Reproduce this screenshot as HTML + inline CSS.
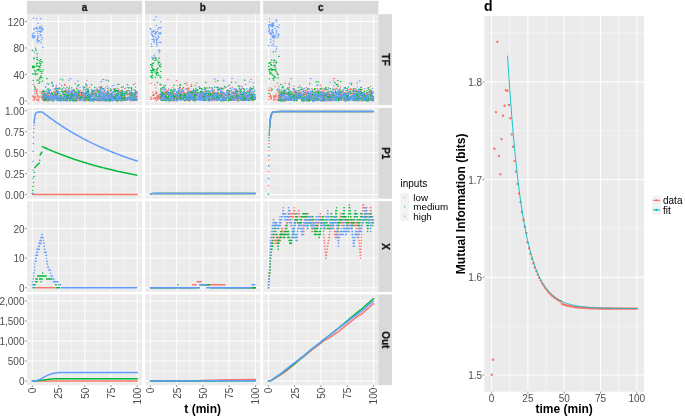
<!DOCTYPE html>
<html><head><meta charset="utf-8"><style>
html,body{margin:0;padding:0;background:#fff;}
svg{display:block;will-change:transform;font-family:"Liberation Sans",sans-serif;}
</style></head><body>
<svg width="685" height="416" viewBox="0 0 685 416">
<defs><clipPath id="cp00"><rect x="27" y="14.2" width="115.15" height="90.85"/></clipPath><clipPath id="cp01"><rect x="145.15" y="14.2" width="115.05" height="90.85"/></clipPath><clipPath id="cp02"><rect x="263.2" y="14.2" width="115.15" height="90.85"/></clipPath><clipPath id="cp10"><rect x="27" y="107.9" width="115.15" height="90.8"/></clipPath><clipPath id="cp11"><rect x="145.15" y="107.9" width="115.05" height="90.8"/></clipPath><clipPath id="cp12"><rect x="263.2" y="107.9" width="115.15" height="90.8"/></clipPath><clipPath id="cp20"><rect x="27" y="201.2" width="115.15" height="90.7"/></clipPath><clipPath id="cp21"><rect x="145.15" y="201.2" width="115.05" height="90.7"/></clipPath><clipPath id="cp22"><rect x="263.2" y="201.2" width="115.15" height="90.7"/></clipPath><clipPath id="cp30"><rect x="27" y="294.4" width="115.15" height="90.8"/></clipPath><clipPath id="cp31"><rect x="145.15" y="294.4" width="115.05" height="90.8"/></clipPath><clipPath id="cp32"><rect x="263.2" y="294.4" width="115.15" height="90.8"/></clipPath></defs>
<rect width="685" height="416" fill="#fff"/>
<rect x="27" y="14.2" width="115.15" height="90.85" fill="#EBEBEB"/>
<path d="M27 87.68H142.15M27 61.21H142.15M27 34.74H142.15M45.42 14.2V105.05M71.66 14.2V105.05M97.89 14.2V105.05M124.13 14.2V105.05" stroke="#fff" stroke-width="0.45"/>
<path d="M27 100.92H142.15M27 74.45H142.15M27 47.98H142.15M27 21.51H142.15M32.3 14.2V105.05M58.54 14.2V105.05M84.78 14.2V105.05M111.01 14.2V105.05M137.25 14.2V105.05" stroke="#fff" stroke-width="1.0"/>
<rect x="145.15" y="14.2" width="115.05" height="90.85" fill="#EBEBEB"/>
<path d="M145.15 87.68H260.2M145.15 61.21H260.2M145.15 34.74H260.2M163.57 14.2V105.05M189.81 14.2V105.05M216.04 14.2V105.05M242.28 14.2V105.05" stroke="#fff" stroke-width="0.45"/>
<path d="M145.15 100.92H260.2M145.15 74.45H260.2M145.15 47.98H260.2M145.15 21.51H260.2M150.45 14.2V105.05M176.69 14.2V105.05M202.93 14.2V105.05M229.16 14.2V105.05M255.4 14.2V105.05" stroke="#fff" stroke-width="1.0"/>
<rect x="263.2" y="14.2" width="115.15" height="90.85" fill="#EBEBEB"/>
<path d="M263.2 87.68H378.35M263.2 61.21H378.35M263.2 34.74H378.35M281.57 14.2V105.05M307.81 14.2V105.05M334.04 14.2V105.05M360.28 14.2V105.05" stroke="#fff" stroke-width="0.45"/>
<path d="M263.2 100.92H378.35M263.2 74.45H378.35M263.2 47.98H378.35M263.2 21.51H378.35M268.45 14.2V105.05M294.69 14.2V105.05M320.93 14.2V105.05M347.16 14.2V105.05M373.4 14.2V105.05" stroke="#fff" stroke-width="1.0"/>
<rect x="27" y="107.9" width="115.15" height="90.8" fill="#EBEBEB"/>
<path d="M27 184.1H142.15M27 163.15H142.15M27 142.2H142.15M27 121.25H142.15M45.42 107.9V198.7M71.66 107.9V198.7M97.89 107.9V198.7M124.13 107.9V198.7" stroke="#fff" stroke-width="0.45"/>
<path d="M27 194.57H142.15M27 173.62H142.15M27 152.67H142.15M27 131.72H142.15M27 110.77H142.15M32.3 107.9V198.7M58.54 107.9V198.7M84.78 107.9V198.7M111.01 107.9V198.7M137.25 107.9V198.7" stroke="#fff" stroke-width="1.0"/>
<rect x="145.15" y="107.9" width="115.05" height="90.8" fill="#EBEBEB"/>
<path d="M145.15 184.1H260.2M145.15 163.15H260.2M145.15 142.2H260.2M145.15 121.25H260.2M163.57 107.9V198.7M189.81 107.9V198.7M216.04 107.9V198.7M242.28 107.9V198.7" stroke="#fff" stroke-width="0.45"/>
<path d="M145.15 194.57H260.2M145.15 173.62H260.2M145.15 152.67H260.2M145.15 131.72H260.2M145.15 110.77H260.2M150.45 107.9V198.7M176.69 107.9V198.7M202.93 107.9V198.7M229.16 107.9V198.7M255.4 107.9V198.7" stroke="#fff" stroke-width="1.0"/>
<rect x="263.2" y="107.9" width="115.15" height="90.8" fill="#EBEBEB"/>
<path d="M263.2 184.1H378.35M263.2 163.15H378.35M263.2 142.2H378.35M263.2 121.25H378.35M281.57 107.9V198.7M307.81 107.9V198.7M334.04 107.9V198.7M360.28 107.9V198.7" stroke="#fff" stroke-width="0.45"/>
<path d="M263.2 194.57H378.35M263.2 173.62H378.35M263.2 152.67H378.35M263.2 131.72H378.35M263.2 110.77H378.35M268.45 107.9V198.7M294.69 107.9V198.7M320.93 107.9V198.7M347.16 107.9V198.7M373.4 107.9V198.7" stroke="#fff" stroke-width="1.0"/>
<rect x="27" y="201.2" width="115.15" height="90.7" fill="#EBEBEB"/>
<path d="M27 272.97H142.15M27 243.37H142.15M27 213.76H142.15M45.42 201.2V291.9M71.66 201.2V291.9M97.89 201.2V291.9M124.13 201.2V291.9" stroke="#fff" stroke-width="0.45"/>
<path d="M27 287.78H142.15M27 258.17H142.15M27 228.56H142.15M32.3 201.2V291.9M58.54 201.2V291.9M84.78 201.2V291.9M111.01 201.2V291.9M137.25 201.2V291.9" stroke="#fff" stroke-width="1.0"/>
<rect x="145.15" y="201.2" width="115.05" height="90.7" fill="#EBEBEB"/>
<path d="M145.15 272.97H260.2M145.15 243.37H260.2M145.15 213.76H260.2M163.57 201.2V291.9M189.81 201.2V291.9M216.04 201.2V291.9M242.28 201.2V291.9" stroke="#fff" stroke-width="0.45"/>
<path d="M145.15 287.78H260.2M145.15 258.17H260.2M145.15 228.56H260.2M150.45 201.2V291.9M176.69 201.2V291.9M202.93 201.2V291.9M229.16 201.2V291.9M255.4 201.2V291.9" stroke="#fff" stroke-width="1.0"/>
<rect x="263.2" y="201.2" width="115.15" height="90.7" fill="#EBEBEB"/>
<path d="M263.2 272.97H378.35M263.2 243.37H378.35M263.2 213.76H378.35M281.57 201.2V291.9M307.81 201.2V291.9M334.04 201.2V291.9M360.28 201.2V291.9" stroke="#fff" stroke-width="0.45"/>
<path d="M263.2 287.78H378.35M263.2 258.17H378.35M263.2 228.56H378.35M268.45 201.2V291.9M294.69 201.2V291.9M320.93 201.2V291.9M347.16 201.2V291.9M373.4 201.2V291.9" stroke="#fff" stroke-width="1.0"/>
<rect x="27" y="294.4" width="115.15" height="90.8" fill="#EBEBEB"/>
<path d="M27 371.06H142.15M27 351.03H142.15M27 331.01H142.15M27 310.98H142.15M45.42 294.4V385.2M71.66 294.4V385.2M97.89 294.4V385.2M124.13 294.4V385.2" stroke="#fff" stroke-width="0.45"/>
<path d="M27 381.07H142.15M27 361.05H142.15M27 341.02H142.15M27 321H142.15M27 300.97H142.15M32.3 294.4V385.2M58.54 294.4V385.2M84.78 294.4V385.2M111.01 294.4V385.2M137.25 294.4V385.2" stroke="#fff" stroke-width="1.0"/>
<rect x="145.15" y="294.4" width="115.05" height="90.8" fill="#EBEBEB"/>
<path d="M145.15 371.06H260.2M145.15 351.03H260.2M145.15 331.01H260.2M145.15 310.98H260.2M163.57 294.4V385.2M189.81 294.4V385.2M216.04 294.4V385.2M242.28 294.4V385.2" stroke="#fff" stroke-width="0.45"/>
<path d="M145.15 381.07H260.2M145.15 361.05H260.2M145.15 341.02H260.2M145.15 321H260.2M145.15 300.97H260.2M150.45 294.4V385.2M176.69 294.4V385.2M202.93 294.4V385.2M229.16 294.4V385.2M255.4 294.4V385.2" stroke="#fff" stroke-width="1.0"/>
<rect x="263.2" y="294.4" width="115.15" height="90.8" fill="#EBEBEB"/>
<path d="M263.2 371.06H378.35M263.2 351.03H378.35M263.2 331.01H378.35M263.2 310.98H378.35M281.57 294.4V385.2M307.81 294.4V385.2M334.04 294.4V385.2M360.28 294.4V385.2" stroke="#fff" stroke-width="0.45"/>
<path d="M263.2 381.07H378.35M263.2 361.05H378.35M263.2 341.02H378.35M263.2 321H378.35M263.2 300.97H378.35M268.45 294.4V385.2M294.69 294.4V385.2M320.93 294.4V385.2M347.16 294.4V385.2M373.4 294.4V385.2" stroke="#fff" stroke-width="1.0"/>
<g clip-path="url(#cp00)">
<path d="M36.94 93.7H37.34M37.54 100.48H37.94M34.08 97.45H34.48M33.11 97.51H33.51M33.07 84.49H33.47M42.43 97.31H42.83M38.69 96.44H39.09M32.74 96.18H33.14M34.69 91.14H35.09M41.12 95.84H41.52M38.95 97.09H39.35M35.08 96.94H35.48M42.76 92.49H43.16M34.56 97.89H34.96M32.85 96.4H33.25M36.24 99.56H36.64M41.17 93.32H41.57M37.13 96.94H37.53M36.35 90.26H36.75M34.99 93.65H35.39M35.66 88.26H36.06M34.74 98.95H35.14M32.74 95.99H33.14M36.89 100.12H37.29M39.93 91.78H40.33M36.6 91.37H37M34.99 87.56H35.39M41.57 98.68H41.97M36.32 92.32H36.72M42.69 98.88H43.09M34.86 96.28H35.26M32.89 100.21H33.29M38.34 96.63H38.74M36.95 89.78H37.35M37.28 95.41H37.68M33.75 100.09H34.15M40.85 96.94H41.25M42.17 93.51H42.57M42.27 91.63H42.67M33.21 84.62H33.61M34.65 98.1H35.05M38.49 100.87H38.89M33.98 97.32H34.38M38.09 98.91H38.49M38.68 99.18H39.08" stroke="#F8766D" stroke-width="1.25" stroke-linecap="round"/>
<path d="M32.28 50.42H32.68M36.87 63.24H37.27M38.23 66H38.63M35.98 50.58H36.38M39.5 81.93H39.9M33.6 66.36H34M39.6 67.5H40M32.33 73.81H32.73M35.51 74.71H35.91M32.91 80.27H33.31M39.99 71.54H40.39M40.59 61.47H40.99M41.74 71.6H42.14M36.57 63.84H36.97M38.79 83.17H39.19M38.34 70.35H38.74M42.73 69.88H43.13M39.9 77.72H40.3M36.82 59.48H37.22M33 67.83H33.4M37.25 69.78H37.65M39.58 78.79H39.98M34.84 89.32H35.24M39.36 66.41H39.76M39.17 63.2H39.57M41.65 73.3H42.05M36.71 57.42H37.11M41.89 62.12H42.29M35.49 73.18H35.89M37.41 59.8H37.81M42.27 81.01H42.67M33.91 73.9H34.31M36.53 65.89H36.93M37.39 73.89H37.79M36.94 53.91H37.34M32.44 66.22H32.84M38.21 69.49H38.61M40.57 63.57H40.97M32.36 67.32H32.76M34.64 66.27H35.04M36.88 65.93H37.28M39.11 60.76H39.51M34.23 86.57H34.63M34.01 58.87H34.41M34.02 67.22H34.42M35.8 70.96H36.2M40.2 76.94H40.6M40.58 65.01H40.98M39.83 69.72H40.23M36.96 80.11H37.36M38.19 80.2H38.59M40.63 59.5H41.03M34.29 70.87H34.69M40.86 75.78H41.26M41.73 77.64H42.13" stroke="#00BA38" stroke-width="1.25" stroke-linecap="round"/>
<path d="M42.56 47.27H42.96M41.84 37.71H42.24M35.83 27.93H36.23M40.32 30.84H40.72M32.4 33.78H32.8M33.95 37.21H34.35M40.53 32.12H40.93M39.85 31.55H40.25M39.48 26.75H39.88M33.02 37.58H33.42M37.74 37.68H38.14M37.7 23.35H38.1M38.09 37.44H38.49M41.74 28.14H42.14M41.21 26.04H41.61M34.25 36.49H34.65M37.49 36.11H37.89M37.62 35.8H38.02M40.68 42.55H41.08M32.81 38H33.21M36.53 18.84H36.93M37.17 39.16H37.57M36.74 28.47H37.14M35.5 49.07H35.9M38.71 31.32H39.11M32.34 36.48H32.74M34.53 37.22H34.93M38.73 40.66H39.13M39.92 28.5H40.32M34.22 28.68H34.62M36.78 40.08H37.18M33.81 29.45H34.21M38.86 40.51H39.26M38.65 41.58H39.05M34.59 35.51H34.99M35.48 48H35.88M41.98 29.56H42.38M33.53 9.2H33.93M39.88 34.94H40.28M36.61 31.46H37.01M33.45 57.89H33.85M39.4 28.39H39.8M42.47 28.27H42.87M37.48 29.01H37.88M34.12 52.09H34.52M37.61 33.26H38.01M33.67 32.78H34.07M42.7 30.24H43.1M33.12 18.17H33.52M40.29 27.95H40.69M37.1 42.43H37.5M32.24 35.48H32.64M41.14 31.39H41.54M36.44 27.47H36.84M33.87 36.02H34.27M40.68 34.84H41.08M41.31 39.84H41.71M37.5 40.13H37.9M40.72 35.57H41.12M40.43 18.74H40.83" stroke="#619CFF" stroke-width="1.25" stroke-linecap="round"/>
<path d="M120.46 92.95H120.86M135.16 83.51H135.56M109.98 95.67H110.38M128.26 98.54H128.66M125.68 99.02H126.08M48.67 95.02H49.07M64.43 99.36H64.83M62.4 97.35H62.8M121.63 97.82H122.03M132.75 95.77H133.15M86.69 99.35H87.09M130.34 100.65H130.74M65.03 95.61H65.43M121.3 98.96H121.7M116.31 98.52H116.71M118.57 100.3H118.97M129.37 90.83H129.77M89.19 96.13H89.59M120.57 97.89H120.97M92.75 90.78H93.15M77.21 95.42H77.61M134.18 95.33H134.58M68.84 96.77H69.24M90.35 99.99H90.75M70.79 93H71.19M82.24 94.78H82.64M42.7 99.24H43.1M102.05 99.88H102.45M94.18 96.7H94.58M95.7 100.02H96.1M93.06 100.46H93.46M76 100.92H76.4M65.3 90.59H65.7M77.08 100.27H77.48M81.13 100.68H81.53M79.74 92.96H80.14M83.35 92.6H83.75M114.93 97.4H115.33M127.47 93.5H127.87M49.39 89.86H49.79M86.93 98.03H87.33M93.97 100.25H94.37M64.72 85.4H65.12M75.62 92.67H76.02M43.35 97.74H43.75M122.46 93.99H122.86M114.79 96.55H115.19M102.77 79.29H103.17M79.6 97.17H80M113.72 92.4H114.12M62.7 94.77H63.1M113.01 95.34H113.41M91.98 99.9H92.38M117.35 98.07H117.75M56.49 95.71H56.89M46.53 93.98H46.93M98.89 98.35H99.29M136.78 92.44H137.18M67.04 98.36H67.44M81.45 100.14H81.85M123.77 100.55H124.17M60.72 99.91H61.12M52.87 96.27H53.27M52.24 100.51H52.64M76.86 99.42H77.26M67.06 96.63H67.46M122.16 95.95H122.56M58.08 100.13H58.48M76.31 98.51H76.71M86.67 96.97H87.07M76.6 94.24H77M59.41 98.81H59.81M76.23 98.85H76.63M102.23 97.24H102.63M85.41 92.97H85.81M102.77 95.26H103.17M46.2 98.56H46.6M107.8 99.32H108.2M43.17 92.14H43.57M122.83 91.79H123.23M73.41 100.02H73.81M84.59 96.21H84.99M51.87 96.32H52.27M71.09 96.78H71.49M80.9 95.44H81.3M58.48 93.09H58.88M127.85 90.8H128.25M114.79 93.2H115.19M108.1 96.1H108.5M86.64 80.28H87.04M76.3 95.56H76.7M78.65 94.13H79.05M101.35 91.6H101.75M72 100.28H72.4M48.12 95.22H48.52M90.77 96.39H91.17M115.52 96.14H115.92M109.69 95.29H110.09M113.49 88.74H113.89M75.1 96.01H75.5M80.19 96.55H80.59M94.19 100.66H94.59M120.9 94.28H121.3M63.62 91.31H64.02M48.03 100.74H48.43M53.41 97.58H53.81M90.28 96.4H90.68M109.36 98.55H109.76M47.56 98.9H47.96M68.67 97.78H69.07M99.97 94.28H100.37M99.63 91.08H100.03M131.78 93.17H132.18M56.11 99.15H56.51M96.06 99.82H96.46M56.23 86.8H56.63M110.84 96.07H111.24M120.85 91.24H121.25M57.6 100.01H58M49.39 98.22H49.79M99.11 99.78H99.51M105.86 100.65H106.26M110.78 93.8H111.18M134.82 98.5H135.22M46.17 96.06H46.57M77.46 100.05H77.86M74.98 95.87H75.38M107.57 93.77H107.97M76.49 99.77H76.89M93.73 100.08H94.13M114.21 94.65H114.61M78.7 100.38H79.1M76.5 99.53H76.9M71.68 94.54H72.08M125.55 93.78H125.95M74.63 98.7H75.03M110.16 95.26H110.56M64.51 94.38H64.91M93.71 96.77H94.11M101.98 96.71H102.38M104.77 100.33H105.17M89.34 94.58H89.74M64 94.89H64.4M49.29 98.21H49.69M78.79 97.6H79.19M132.97 96.7H133.37M77.21 95.72H77.61M126.49 100.28H126.89M129.52 98.7H129.92M66.08 95.67H66.48M72.71 93.42H73.11M93.18 93.73H93.58M122.89 98.65H123.29M64.2 98.91H64.6M76.44 88.7H76.84M67.46 92.64H67.86M126.87 94.84H127.27M63.85 94.68H64.25M85.51 100.9H85.91M94.15 99.36H94.55M47.21 97.68H47.61M109.24 98.8H109.64M79.11 97.49H79.51M135.8 91.66H136.2M124.48 97.24H124.88M124.46 98.19H124.86M105.97 98.21H106.37M104.64 97.78H105.04M95.37 90.83H95.77M115.37 100.16H115.77M106.43 93.86H106.83M55.54 98.63H55.94M101.07 99.93H101.47M117.74 91.83H118.14M65.39 90.78H65.79M135.13 93.92H135.53M55.91 95.44H56.31M50.1 100.51H50.5M80.67 93.4H81.07M94.41 99.43H94.81M108.71 96.95H109.11M55.89 92.33H56.29M77.23 96.62H77.63M113.77 91.23H114.17M102.34 97.11H102.74M127.06 91.02H127.46M118.37 100.57H118.77M80.34 90.71H80.74M62.8 98.13H63.2M109.8 98.37H110.2M105.29 93.67H105.69M86.43 92.18H86.83M97.13 99.97H97.53M69.23 98.69H69.63M75.07 97.7H75.47M89.19 87.27H89.59M112.58 100.05H112.98M44.69 100.76H45.09M136.2 91.33H136.6M89.24 96.28H89.64M132.07 95.6H132.47M50.05 98.18H50.45M83.62 99.93H84.02M71.87 92.6H72.27M121.07 90.62H121.47M122.74 95.59H123.14M61.61 99.05H62.01M59.24 99.44H59.64M44 93.22H44.4M131.25 99.37H131.65M87.42 100.62H87.82M71.9 99.15H72.3M55.73 97.57H56.13M62.23 98.67H62.63M117.06 95.32H117.46M85.17 100.66H85.57M101.67 87.16H102.07M43.03 96.45H43.43M95.38 93.15H95.78M104.23 91.69H104.63M70.57 96.94H70.97M51.52 92.44H51.92M136.51 93.48H136.91M108.1 97.96H108.5M91.56 99.5H91.96M67.19 92.33H67.59M65.46 98.67H65.86M53.6 91.97H54M113.28 96.64H113.68M115.01 88.45H115.41M44.36 99.14H44.76M85.7 95.96H86.1M102.71 100.75H103.11M78.95 93.68H79.35M131.45 92.57H131.85M105.68 93.99H106.08M71.52 94.92H71.92M85.34 99.77H85.74M52.49 97.58H52.89M127.97 90.44H128.37M125.71 97.81H126.11M127.23 99.68H127.63M64.86 99.45H65.26M51.69 93.6H52.09M111.85 94.02H112.25M119.03 97.35H119.43M113.23 96.68H113.63M133.87 93.94H134.27M100.13 86.59H100.53M111.82 97.06H112.22M135.5 93.76H135.9M53.44 98.91H53.84M124.13 97.49H124.53M56.76 96.62H57.16M118.64 97.59H119.04M60.77 97.99H61.17M93.73 92.49H94.13M68.6 91.39H69M119.66 92.44H120.06M126.39 91.16H126.79M55.08 94.47H55.48M101.87 97.35H102.27M103.77 88.75H104.17M133.63 98.72H134.03M77.43 98.29H77.83M110.16 93.74H110.56M87.72 91.45H88.12M103.84 92H104.24M102.24 95.75H102.64M53.57 91.31H53.97M74.78 96.55H75.18M45.36 96.93H45.76M65.5 99.59H65.9M96.52 91.03H96.92M82.09 93.22H82.49M72.28 95.48H72.68M73.94 95.23H74.34M72.75 96.79H73.15M79.39 93.22H79.79M86.58 93.05H86.98M98.59 94.15H98.99M87.26 93.28H87.66M108.1 92.36H108.5M63.73 96.12H64.13M119.74 91.19H120.14M80.74 97.92H81.14M128.1 94.57H128.5M123.52 98.53H123.92M59.2 98.93H59.6M44.88 92.54H45.28M62.82 100.43H63.22M72.68 94.17H73.08M52.21 93.98H52.61M42.3 90.96H42.7M56.74 92.91H57.14M73.68 90.72H74.08M43.17 96.05H43.57M74.64 93.66H75.04M109.85 97.05H110.25M80.77 95.1H81.17M78.95 100.72H79.35M96.19 88.1H96.59M135.34 100.1H135.74M72.07 97.73H72.47M82.18 92.66H82.58M81.96 92.06H82.36M89.7 98.79H90.1M50.72 95.73H51.12M104.42 95.93H104.82M136.08 98.58H136.48M74.8 96.06H75.2M84.57 95.73H84.97M124.68 88.43H125.08M107.7 94.41H108.1M119.14 96.6H119.54M43.93 99.91H44.33M69.55 91.36H69.95M98.03 97.49H98.43M129.8 97.43H130.2M79.55 98.66H79.95M74.58 93.56H74.98M48.8 91.52H49.2M102.06 95.07H102.46M65.94 91.37H66.34M80.41 93.27H80.81M133.19 84.68H133.59M71.51 96.51H71.91M90.92 95.45H91.32M46.88 94.96H47.28M79.81 95.59H80.21M71.44 100.44H71.84M57.3 99.36H57.7M124.97 93H125.37M123.3 97.23H123.7M78.83 94.55H79.23M113.59 100.12H113.99M122.13 100.79H122.53M45.19 100.1H45.59M88.58 100H88.98M69.17 96.35H69.57M121.73 91.24H122.13M49.61 89.59H50.01M94.31 94.71H94.71M108.02 90.43H108.42M91.2 93.26H91.6M129.54 99.09H129.94M57.1 99.18H57.5M66.05 90.2H66.45" stroke="#F8766D" stroke-width="1.25" stroke-linecap="round"/>
<path d="M123.72 98.87H124.12M68.57 92.57H68.97" stroke="#00BA38" stroke-width="1.25" stroke-linecap="round"/>
<path d="M95.77 90.47H96.17M46.55 98.36H46.95" stroke="#F8766D" stroke-width="1.25" stroke-linecap="round"/>
<path d="M49.63 96.84H50.03" stroke="#00BA38" stroke-width="1.25" stroke-linecap="round"/>
<path d="M104.99 99.24H105.39" stroke="#F8766D" stroke-width="1.25" stroke-linecap="round"/>
<path d="M93.33 100.65H93.73" stroke="#00BA38" stroke-width="1.25" stroke-linecap="round"/>
<path d="M50.7 98.13H51.1" stroke="#F8766D" stroke-width="1.25" stroke-linecap="round"/>
<path d="M65.87 97.7H66.27M77.71 97.17H78.11M110.11 98.15H110.51M47.1 93.68H47.5" stroke="#00BA38" stroke-width="1.25" stroke-linecap="round"/>
<path d="M102.61 100.74H103.01M128.45 98.2H128.85M133.51 97.31H133.91" stroke="#F8766D" stroke-width="1.25" stroke-linecap="round"/>
<path d="M110.24 99.99H110.64M55.51 95.31H55.91M78.27 94.89H78.67M123.1 86.92H123.5" stroke="#00BA38" stroke-width="1.25" stroke-linecap="round"/>
<path d="M117.17 100.2H117.57M48.25 98.57H48.65" stroke="#F8766D" stroke-width="1.25" stroke-linecap="round"/>
<path d="M124.06 93.46H124.46" stroke="#00BA38" stroke-width="1.25" stroke-linecap="round"/>
<path d="M116.94 90.82H117.34M55.6 87.93H56M65.1 91.5H65.5" stroke="#F8766D" stroke-width="1.25" stroke-linecap="round"/>
<path d="M91.75 93.93H92.15" stroke="#00BA38" stroke-width="1.25" stroke-linecap="round"/>
<path d="M84.58 98.07H84.98M89.86 96.7H90.26M76.37 95.29H76.77" stroke="#F8766D" stroke-width="1.25" stroke-linecap="round"/>
<path d="M92.44 95.23H92.84" stroke="#00BA38" stroke-width="1.25" stroke-linecap="round"/>
<path d="M46.23 96.67H46.63M131.51 97.85H131.91M121.02 93.99H121.42M136.11 96.13H136.51M87.49 99.5H87.89" stroke="#F8766D" stroke-width="1.25" stroke-linecap="round"/>
<path d="M82.04 97.62H82.44M77.35 85.83H77.75M111.57 93.66H111.97M121.8 93.54H122.2M44.09 99.38H44.49" stroke="#00BA38" stroke-width="1.25" stroke-linecap="round"/>
<path d="M131.79 99.09H132.19" stroke="#F8766D" stroke-width="1.25" stroke-linecap="round"/>
<path d="M119.44 99.49H119.84" stroke="#00BA38" stroke-width="1.25" stroke-linecap="round"/>
<path d="M95.67 96.97H96.07" stroke="#F8766D" stroke-width="1.25" stroke-linecap="round"/>
<path d="M117.35 99.8H117.75M121.94 90.21H122.34M93.52 99.69H93.92" stroke="#00BA38" stroke-width="1.25" stroke-linecap="round"/>
<path d="M64.5 91.88H64.9M49.08 92.89H49.48" stroke="#F8766D" stroke-width="1.25" stroke-linecap="round"/>
<path d="M130.91 100.43H131.31M114.8 91.72H115.2" stroke="#00BA38" stroke-width="1.25" stroke-linecap="round"/>
<path d="M136.12 97.29H136.52M59 98.81H59.4" stroke="#F8766D" stroke-width="1.25" stroke-linecap="round"/>
<path d="M92.78 100.64H93.18" stroke="#00BA38" stroke-width="1.25" stroke-linecap="round"/>
<path d="M79.62 95.21H80.02" stroke="#F8766D" stroke-width="1.25" stroke-linecap="round"/>
<path d="M134.17 99.35H134.57" stroke="#00BA38" stroke-width="1.25" stroke-linecap="round"/>
<path d="M135.44 99.68H135.84M64.43 84.46H64.83" stroke="#F8766D" stroke-width="1.25" stroke-linecap="round"/>
<path d="M114.86 97.43H115.26" stroke="#00BA38" stroke-width="1.25" stroke-linecap="round"/>
<path d="M77.85 98.11H78.25M49.4 98.92H49.8M121.75 100.25H122.15" stroke="#F8766D" stroke-width="1.25" stroke-linecap="round"/>
<path d="M115.92 91.04H116.32M86.63 93.7H87.03M106.49 94.28H106.89" stroke="#00BA38" stroke-width="1.25" stroke-linecap="round"/>
<path d="M70.71 99.7H71.11" stroke="#F8766D" stroke-width="1.25" stroke-linecap="round"/>
<path d="M69.7 97.4H70.1M73.71 95.9H74.11" stroke="#00BA38" stroke-width="1.25" stroke-linecap="round"/>
<path d="M136.02 98.1H136.42M98.86 98.9H99.26" stroke="#F8766D" stroke-width="1.25" stroke-linecap="round"/>
<path d="M132.29 94.41H132.69" stroke="#00BA38" stroke-width="1.25" stroke-linecap="round"/>
<path d="M87.92 97.03H88.32M51.9 95.31H52.3" stroke="#F8766D" stroke-width="1.25" stroke-linecap="round"/>
<path d="M75.86 92.49H76.26M121.31 87.44H121.71" stroke="#00BA38" stroke-width="1.25" stroke-linecap="round"/>
<path d="M46.48 97.89H46.88M101.47 97.83H101.87" stroke="#F8766D" stroke-width="1.25" stroke-linecap="round"/>
<path d="M44.03 99.93H44.43M132.5 98.83H132.9" stroke="#00BA38" stroke-width="1.25" stroke-linecap="round"/>
<path d="M112.85 96.42H113.25M87.67 89.7H88.07M120.03 97.03H120.43" stroke="#F8766D" stroke-width="1.25" stroke-linecap="round"/>
<path d="M95.19 99.14H95.59M45.04 99.47H45.44" stroke="#00BA38" stroke-width="1.25" stroke-linecap="round"/>
<path d="M55.04 88.8H55.44M50.07 99H50.47" stroke="#F8766D" stroke-width="1.25" stroke-linecap="round"/>
<path d="M130.87 92.14H131.27" stroke="#00BA38" stroke-width="1.25" stroke-linecap="round"/>
<path d="M43.63 99.37H44.03" stroke="#F8766D" stroke-width="1.25" stroke-linecap="round"/>
<path d="M43.61 95.13H44.01" stroke="#00BA38" stroke-width="1.25" stroke-linecap="round"/>
<path d="M76.74 98.14H77.14" stroke="#F8766D" stroke-width="1.25" stroke-linecap="round"/>
<path d="M93.58 99.2H93.98M112.82 98.03H113.22M110.01 99.88H110.41" stroke="#00BA38" stroke-width="1.25" stroke-linecap="round"/>
<path d="M88.18 99.2H88.58M47.11 93.65H47.51M61.5 100.57H61.9M82.52 95.68H82.92M115.3 96.85H115.7M95.85 98.31H96.25M60.72 96.15H61.12M130.64 98.58H131.04" stroke="#F8766D" stroke-width="1.25" stroke-linecap="round"/>
<path d="M61.68 98.17H62.08M79.3 98.67H79.7M135.82 98.98H136.22M109.07 98.68H109.47" stroke="#00BA38" stroke-width="1.25" stroke-linecap="round"/>
<path d="M73.01 93.7H73.41M73.37 90.72H73.77" stroke="#F8766D" stroke-width="1.25" stroke-linecap="round"/>
<path d="M123.27 98.15H123.67M85.35 96.12H85.75M133.66 100.64H134.06M117.59 95.71H117.99" stroke="#00BA38" stroke-width="1.25" stroke-linecap="round"/>
<path d="M98.21 100.71H98.61" stroke="#F8766D" stroke-width="1.25" stroke-linecap="round"/>
<path d="M64.12 94H64.52" stroke="#00BA38" stroke-width="1.25" stroke-linecap="round"/>
<path d="M60.79 99.53H61.19M135.9 97.91H136.3M115.3 99.52H115.7" stroke="#F8766D" stroke-width="1.25" stroke-linecap="round"/>
<path d="M84.63 93.6H85.03" stroke="#00BA38" stroke-width="1.25" stroke-linecap="round"/>
<path d="M114.97 100.35H115.37" stroke="#F8766D" stroke-width="1.25" stroke-linecap="round"/>
<path d="M86.68 91.53H87.08M62.68 91.63H63.08" stroke="#00BA38" stroke-width="1.25" stroke-linecap="round"/>
<path d="M48.95 90.61H49.35M97.45 98.58H97.85" stroke="#F8766D" stroke-width="1.25" stroke-linecap="round"/>
<path d="M74.26 95.92H74.66" stroke="#00BA38" stroke-width="1.25" stroke-linecap="round"/>
<path d="M71.32 96.05H71.72" stroke="#F8766D" stroke-width="1.25" stroke-linecap="round"/>
<path d="M110.35 88.98H110.75M47.76 100.9H48.16M60.32 99.37H60.72M117.47 93.36H117.87" stroke="#00BA38" stroke-width="1.25" stroke-linecap="round"/>
<path d="M120.88 95.2H121.28M74.9 96.02H75.3" stroke="#F8766D" stroke-width="1.25" stroke-linecap="round"/>
<path d="M44.1 93.71H44.5M60.34 100.57H60.74" stroke="#00BA38" stroke-width="1.25" stroke-linecap="round"/>
<path d="M84.08 96.45H84.48M131.84 100.77H132.24" stroke="#F8766D" stroke-width="1.25" stroke-linecap="round"/>
<path d="M101.37 93.39H101.77" stroke="#00BA38" stroke-width="1.25" stroke-linecap="round"/>
<path d="M106.61 95.76H107.01M86.66 86.95H87.06M91.1 96.06H91.5M108.08 95.53H108.48M88.74 94.34H89.14M78.41 94.69H78.81M48.28 95.56H48.68" stroke="#F8766D" stroke-width="1.25" stroke-linecap="round"/>
<path d="M53.59 98.15H53.99M92.3 93.95H92.7" stroke="#00BA38" stroke-width="1.25" stroke-linecap="round"/>
<path d="M78.05 95.55H78.45M136.83 100.66H137.23" stroke="#F8766D" stroke-width="1.25" stroke-linecap="round"/>
<path d="M52.59 100.78H52.99" stroke="#00BA38" stroke-width="1.25" stroke-linecap="round"/>
<path d="M71.72 90.16H72.12" stroke="#F8766D" stroke-width="1.25" stroke-linecap="round"/>
<path d="M65.6 99.91H66M97.5 100.36H97.9" stroke="#00BA38" stroke-width="1.25" stroke-linecap="round"/>
<path d="M97.21 91.29H97.61" stroke="#F8766D" stroke-width="1.25" stroke-linecap="round"/>
<path d="M81.45 97.63H81.85" stroke="#00BA38" stroke-width="1.25" stroke-linecap="round"/>
<path d="M104.63 100.16H105.03M136.68 96.42H137.08M66.51 97.4H66.91" stroke="#F8766D" stroke-width="1.25" stroke-linecap="round"/>
<path d="M120.37 92.73H120.77M68.08 95.39H68.48M74.38 91.64H74.78" stroke="#00BA38" stroke-width="1.25" stroke-linecap="round"/>
<path d="M136.61 98.84H137.01M110.1 97.77H110.5" stroke="#F8766D" stroke-width="1.25" stroke-linecap="round"/>
<path d="M117.93 95.13H118.33" stroke="#00BA38" stroke-width="1.25" stroke-linecap="round"/>
<path d="M52.73 98.14H53.13" stroke="#F8766D" stroke-width="1.25" stroke-linecap="round"/>
<path d="M124.24 99.97H124.64" stroke="#00BA38" stroke-width="1.25" stroke-linecap="round"/>
<path d="M100.62 99.74H101.02M92.53 93.34H92.93M105.54 93.67H105.94M83.73 100.46H84.13M107.56 88.63H107.96" stroke="#F8766D" stroke-width="1.25" stroke-linecap="round"/>
<path d="M126.17 93.63H126.57" stroke="#00BA38" stroke-width="1.25" stroke-linecap="round"/>
<path d="M68.86 93.51H69.26" stroke="#F8766D" stroke-width="1.25" stroke-linecap="round"/>
<path d="M69.92 95.85H70.32M113.52 98.04H113.92M65.79 93.75H66.19M55.08 96.96H55.48" stroke="#00BA38" stroke-width="1.25" stroke-linecap="round"/>
<path d="M77.18 89.12H77.58" stroke="#F8766D" stroke-width="1.25" stroke-linecap="round"/>
<path d="M136.27 99.42H136.67M58.88 98.73H59.28M128.5 87.78H128.9M96.66 100.53H97.06" stroke="#00BA38" stroke-width="1.25" stroke-linecap="round"/>
<path d="M70.73 98.67H71.13M74.23 100.6H74.63M80.91 94.1H81.31" stroke="#F8766D" stroke-width="1.25" stroke-linecap="round"/>
<path d="M97.01 89.97H97.41M87.99 90.3H88.39M49.32 99.3H49.72" stroke="#00BA38" stroke-width="1.25" stroke-linecap="round"/>
<path d="M63.42 99.23H63.82M53.18 100.07H53.58M44.11 95.64H44.51M116.81 100.42H117.21M114.18 97.13H114.58M94.83 98.27H95.23M90.5 94.36H90.9M118.91 98.86H119.31" stroke="#F8766D" stroke-width="1.25" stroke-linecap="round"/>
<path d="M43.59 97.39H43.99" stroke="#00BA38" stroke-width="1.25" stroke-linecap="round"/>
<path d="M110.05 93.58H110.45M129.71 93.48H130.11M86.61 99.6H87.01M66.88 98.17H67.28M54.48 93.02H54.88M69.29 86.31H69.69M80.66 92.12H81.06" stroke="#F8766D" stroke-width="1.25" stroke-linecap="round"/>
<path d="M125.45 100.02H125.85" stroke="#00BA38" stroke-width="1.25" stroke-linecap="round"/>
<path d="M48.27 99.74H48.67M44.47 99.71H44.87M48.33 97.95H48.73" stroke="#F8766D" stroke-width="1.25" stroke-linecap="round"/>
<path d="M126.94 91.72H127.34M114.73 90.79H115.13" stroke="#00BA38" stroke-width="1.25" stroke-linecap="round"/>
<path d="M49.67 98.73H50.07" stroke="#F8766D" stroke-width="1.25" stroke-linecap="round"/>
<path d="M70.9 95.18H71.3M122.44 95.49H122.84M100.77 87.63H101.17M114.12 89.43H114.52" stroke="#00BA38" stroke-width="1.25" stroke-linecap="round"/>
<path d="M127.28 97.77H127.68" stroke="#F8766D" stroke-width="1.25" stroke-linecap="round"/>
<path d="M121.44 97.47H121.84" stroke="#00BA38" stroke-width="1.25" stroke-linecap="round"/>
<path d="M58.68 93.96H59.08M46.72 95.56H47.12M98.14 97.29H98.54M124.99 96.48H125.39" stroke="#F8766D" stroke-width="1.25" stroke-linecap="round"/>
<path d="M99.76 89.33H100.16" stroke="#00BA38" stroke-width="1.25" stroke-linecap="round"/>
<path d="M136.37 93H136.77M121.58 93H121.98" stroke="#F8766D" stroke-width="1.25" stroke-linecap="round"/>
<path d="M48.97 97.74H49.37M77.79 95.45H78.19" stroke="#00BA38" stroke-width="1.25" stroke-linecap="round"/>
<path d="M106.34 96.15H106.74M47.38 96.86H47.78" stroke="#F8766D" stroke-width="1.25" stroke-linecap="round"/>
<path d="M118.52 97.1H118.92" stroke="#00BA38" stroke-width="1.25" stroke-linecap="round"/>
<path d="M109.54 100.85H109.94" stroke="#F8766D" stroke-width="1.25" stroke-linecap="round"/>
<path d="M131.25 87.63H131.65" stroke="#00BA38" stroke-width="1.25" stroke-linecap="round"/>
<path d="M78.55 96H78.95M89.46 99.15H89.86M78.02 94.33H78.42M124.7 97.08H125.1" stroke="#F8766D" stroke-width="1.25" stroke-linecap="round"/>
<path d="M92.09 91.26H92.49" stroke="#00BA38" stroke-width="1.25" stroke-linecap="round"/>
<path d="M59.69 83.91H60.09M53.31 100.83H53.71" stroke="#F8766D" stroke-width="1.25" stroke-linecap="round"/>
<path d="M133.3 99.46H133.7" stroke="#00BA38" stroke-width="1.25" stroke-linecap="round"/>
<path d="M132.56 96.8H132.96M63.3 98.23H63.7" stroke="#F8766D" stroke-width="1.25" stroke-linecap="round"/>
<path d="M120.7 95.27H121.1M48.43 96.66H48.83" stroke="#00BA38" stroke-width="1.25" stroke-linecap="round"/>
<path d="M52.34 96.99H52.74M54.97 92.63H55.37M55.74 97.49H56.14M68.17 92.22H68.57M73.85 100.69H74.25" stroke="#F8766D" stroke-width="1.25" stroke-linecap="round"/>
<path d="M57.57 88.28H57.97M89.63 98.34H90.03M57 94.52H57.4" stroke="#00BA38" stroke-width="1.25" stroke-linecap="round"/>
<path d="M112.27 98.08H112.67" stroke="#F8766D" stroke-width="1.25" stroke-linecap="round"/>
<path d="M58.26 98.71H58.66M104.11 96.64H104.51M54.37 97.73H54.77" stroke="#00BA38" stroke-width="1.25" stroke-linecap="round"/>
<path d="M102.89 99.95H103.29M98.47 97.06H98.87M101.82 98.88H102.22" stroke="#F8766D" stroke-width="1.25" stroke-linecap="round"/>
<path d="M45.15 100.42H45.55" stroke="#00BA38" stroke-width="1.25" stroke-linecap="round"/>
<path d="M106.47 95.09H106.87" stroke="#F8766D" stroke-width="1.25" stroke-linecap="round"/>
<path d="M52.55 94.39H52.95M59.68 88.15H60.08" stroke="#00BA38" stroke-width="1.25" stroke-linecap="round"/>
<path d="M96.01 100.37H96.41" stroke="#F8766D" stroke-width="1.25" stroke-linecap="round"/>
<path d="M104.39 99.14H104.79M114.94 98.25H115.34M73.54 93.92H73.94M62.9 98.76H63.3" stroke="#00BA38" stroke-width="1.25" stroke-linecap="round"/>
<path d="M58.86 89.42H59.26M105.59 99.77H105.99" stroke="#F8766D" stroke-width="1.25" stroke-linecap="round"/>
<path d="M72.15 94.57H72.55" stroke="#00BA38" stroke-width="1.25" stroke-linecap="round"/>
<path d="M45.21 86.8H45.61M134.89 95.98H135.29" stroke="#F8766D" stroke-width="1.25" stroke-linecap="round"/>
<path d="M75.89 91.12H76.29M108.06 93.8H108.46" stroke="#00BA38" stroke-width="1.25" stroke-linecap="round"/>
<path d="M127.58 94.62H127.98M70.45 95.94H70.85M46.93 100.6H47.33M95.57 99.01H95.97" stroke="#F8766D" stroke-width="1.25" stroke-linecap="round"/>
<path d="M74.01 100.76H74.41M122.25 92.46H122.65M103.69 100.43H104.09M65.33 91.85H65.73" stroke="#00BA38" stroke-width="1.25" stroke-linecap="round"/>
<path d="M118.44 89.01H118.84" stroke="#F8766D" stroke-width="1.25" stroke-linecap="round"/>
<path d="M57.55 91.25H57.95M62.41 79.93H62.81M64.51 94.83H64.91M104.48 90.41H104.88M85.18 97.4H85.58M70.78 97.9H71.18M68.11 93.66H68.51M98.95 92.3H99.35M88.65 100.48H89.05M89.99 95.12H90.39M130.72 94.08H131.12M92.93 91.64H93.33M86.2 98.26H86.6M122.58 94.74H122.98M114.51 98.48H114.91M97.76 99.54H98.16M118 90.73H118.4M132.03 96.66H132.43M103.58 94.76H103.98M43.49 95.75H43.89M49.52 97.55H49.92M48.81 93.12H49.21M92.73 94.78H93.13M50.14 96.77H50.54M55.18 94.22H55.58M113.01 97.81H113.41M106.21 96.08H106.61M121.78 96.04H122.18M116.2 90.87H116.6M62.25 88.75H62.65M55.94 91.15H56.34M104.74 98.89H105.14M110.92 94.17H111.32M123.98 97.51H124.38M58.17 98.69H58.57M82.11 97H82.51M125.91 92.07H126.31M135.13 99.89H135.53M114.22 90.76H114.62M129.22 93.48H129.62M99.3 93.31H99.7M131.38 90.2H131.78M87.23 95.83H87.63M77.99 92.43H78.39M61.51 99.39H61.91M79.89 97.2H80.29M117.66 100.66H118.06M58.91 100.25H59.31M133.5 98.69H133.9M60.1 98.69H60.5M53.08 85.29H53.48M86.77 95.5H87.17M81.53 98.34H81.93M102.72 95.35H103.12M131.04 95.51H131.44M64.07 96.49H64.47M124.93 98.99H125.33M63.62 94.47H64.02M72.66 95.16H73.06M60.52 95.48H60.92M73.85 93.73H74.25M116.04 97.07H116.44M78.18 90.48H78.58M124.63 95.87H125.03M131.4 88.61H131.8M56.27 89.97H56.67M131.3 93.41H131.7M86.62 85.35H87.02M83.64 100.84H84.04M73.98 93.78H74.38M109.35 100.02H109.75M107.38 100.19H107.78M127.37 84.64H127.77M66.6 91.62H67M108.18 94.03H108.58M112.93 97.19H113.33M56.55 98.18H56.95M115.12 98.49H115.52M91.62 98.94H92.02M108.44 100.62H108.84M106.17 99.33H106.57M45.01 94.21H45.41M78.32 95.39H78.72M58.84 88.1H59.24M109.69 96.1H110.09M118.82 97.96H119.22M74.13 95.19H74.53M123.54 97.25H123.94M91.49 96.59H91.89M124.5 95.02H124.9M100.36 98.06H100.76M86.04 97.32H86.44M107.29 91.21H107.69M98.34 90.64H98.74M70.89 93.49H71.29M45.72 99.18H46.12M92.05 90.31H92.45M110.15 100.68H110.55M108.06 98.78H108.46M92.89 98.85H93.29M42.36 91.75H42.76M72.48 100.48H72.88M87.89 93.52H88.29M87.69 95.62H88.09M85.31 98.26H85.71M91.51 92.29H91.91M115.11 95.52H115.51M90.16 97.26H90.56M94.63 87.37H95.03M116.59 90.04H116.99M75.03 100.33H75.43M63.84 100.45H64.24M72.12 94.28H72.52M100.1 91.31H100.5M99.75 93.22H100.15M64.66 94.86H65.06M124.28 93.6H124.68M111.36 95.74H111.76M48 88.82H48.4M100.31 100.48H100.71M44.01 95.19H44.41M54.66 93.8H55.06M66.22 96.14H66.62M45.2 98.26H45.6M111.76 96.81H112.16M69.12 88.22H69.52M109.83 98.02H110.23M48.92 97.89H49.32M66.33 98.13H66.73M124.21 95.16H124.61M42.46 94.8H42.86M89.52 97.62H89.92M87.76 92.52H88.16M80.26 97.16H80.66M117.16 98.52H117.56M92.01 96.07H92.41M107.18 98.23H107.58M88.8 97.13H89.2M115.64 97.51H116.04M76.86 97.23H77.26M110.49 90.74H110.89M107.6 99.14H108M75.63 100.39H76.03M85.36 89.96H85.76M53.82 99.5H54.22M102.93 95.09H103.33M44.35 94.28H44.75M68.14 97.88H68.54M45.04 95.71H45.44M106.16 96.18H106.56M118.41 84.41H118.81M96.56 93.69H96.96M66.23 96.99H66.63M111.12 98.5H111.52M114.1 98.54H114.5M66.93 87.55H67.33M97.43 91.91H97.83M81.49 98.89H81.89M134.86 96.65H135.26M114.5 99.26H114.9M120.9 96.78H121.3M64.48 91.22H64.88M88.09 90.99H88.49M131.17 94.08H131.57M100.97 93.94H101.37M57.24 100.56H57.64M102.81 99.95H103.21M60.28 96H60.68M129.7 98.79H130.1M133.91 97.96H134.31M86.63 88.89H87.03M49.09 96.82H49.49M131.57 94.78H131.97M71.3 95.83H71.7M116.44 95.22H116.84M111.47 93.62H111.87M117.39 99.23H117.79M73.3 96.61H73.7M101.36 99.4H101.76M80.09 96.95H80.49M117.09 100.89H117.49M78.91 97.93H79.31M67.7 100.19H68.1M119.47 99.49H119.87M57.6 93.42H58M91.21 84.85H91.61M134.81 90.49H135.21M129.83 97.95H130.23M122.31 93.4H122.71M89.66 100.88H90.06M57.79 92.51H58.19M47.75 97.26H48.15M74.48 95.67H74.88M129.86 94.89H130.26M81.49 93.94H81.89M103.44 98.9H103.84M60.82 97.02H61.22M83.21 100.32H83.61M66.9 100.27H67.3M80.41 99.44H80.81M46.37 91.15H46.77M119.24 92.67H119.64M78.99 91.19H79.39M99.65 95.79H100.05M106.14 99.8H106.54M117.52 94.75H117.92M110.86 100.55H111.26M53.39 100.14H53.79M121.5 99.49H121.9M45.53 100.14H45.93M129.39 97.04H129.79M108.84 98.34H109.24M135.13 94.23H135.53M88.97 96.91H89.37M46.8 78.65H47.2M100.81 98.47H101.21M45.2 99.52H45.6M45 95.43H45.4M111.13 90.16H111.53M96.11 93.69H96.51M70.31 95.56H70.71M133.29 100.33H133.69M103.05 88.62H103.45M51.85 92.91H52.25M107.21 100.1H107.61M76.01 100.85H76.41M54.27 96.6H54.67M92.17 100.92H92.57M46.05 98.85H46.45M88.58 91.28H88.98M94.15 98.41H94.55M108.15 80.82H108.55" stroke="#00BA38" stroke-width="1.25" stroke-linecap="round"/>
<path d="M51.93 83.59H52.33" stroke="#619CFF" stroke-width="1.25" stroke-linecap="round"/>
<path d="M77.4 93.43H77.8M96.08 95.22H96.48" stroke="#00BA38" stroke-width="1.25" stroke-linecap="round"/>
<path d="M129.85 95.9H130.25" stroke="#619CFF" stroke-width="1.25" stroke-linecap="round"/>
<path d="M43.76 91.26H44.16M109.23 100.88H109.63M120.47 100.17H120.87" stroke="#00BA38" stroke-width="1.25" stroke-linecap="round"/>
<path d="M111.64 98.68H112.04" stroke="#619CFF" stroke-width="1.25" stroke-linecap="round"/>
<path d="M83.25 97.51H83.65M81.41 92.52H81.81M76.26 92.97H76.66" stroke="#00BA38" stroke-width="1.25" stroke-linecap="round"/>
<path d="M91.52 96H91.92M64.89 99.89H65.29M113.7 94.37H114.1M61.97 89.98H62.37M100.42 100.13H100.82" stroke="#619CFF" stroke-width="1.25" stroke-linecap="round"/>
<path d="M88.18 94.67H88.58M106.41 100.76H106.81" stroke="#00BA38" stroke-width="1.25" stroke-linecap="round"/>
<path d="M50.16 96.26H50.56" stroke="#619CFF" stroke-width="1.25" stroke-linecap="round"/>
<path d="M69.61 99.06H70.01" stroke="#00BA38" stroke-width="1.25" stroke-linecap="round"/>
<path d="M87.35 98.77H87.75M100.26 93.49H100.66M104.66 98.38H105.06M92 100.42H92.4M65.41 96.15H65.81" stroke="#619CFF" stroke-width="1.25" stroke-linecap="round"/>
<path d="M79.97 98.94H80.37M129.7 98.94H130.1" stroke="#00BA38" stroke-width="1.25" stroke-linecap="round"/>
<path d="M65.33 88.98H65.73" stroke="#619CFF" stroke-width="1.25" stroke-linecap="round"/>
<path d="M55.62 88.62H56.02" stroke="#00BA38" stroke-width="1.25" stroke-linecap="round"/>
<path d="M71.41 97.83H71.81M128.37 100.05H128.77" stroke="#619CFF" stroke-width="1.25" stroke-linecap="round"/>
<path d="M79.13 92.7H79.53M94.54 93.47H94.94" stroke="#00BA38" stroke-width="1.25" stroke-linecap="round"/>
<path d="M71.73 91.41H72.13" stroke="#619CFF" stroke-width="1.25" stroke-linecap="round"/>
<path d="M131.89 92.69H132.29M66.56 95.05H66.96M86.32 98.33H86.72M121.8 94.71H122.2" stroke="#00BA38" stroke-width="1.25" stroke-linecap="round"/>
<path d="M75.96 95.53H76.36M97.74 96.03H98.14M66.18 92.29H66.58" stroke="#619CFF" stroke-width="1.25" stroke-linecap="round"/>
<path d="M131.6 96.25H132M50.71 100.48H51.11" stroke="#00BA38" stroke-width="1.25" stroke-linecap="round"/>
<path d="M121.86 91.73H122.26" stroke="#619CFF" stroke-width="1.25" stroke-linecap="round"/>
<path d="M43.45 90.73H43.85M129.91 98.29H130.31M87.09 98.09H87.49" stroke="#00BA38" stroke-width="1.25" stroke-linecap="round"/>
<path d="M64.94 100.38H65.34" stroke="#619CFF" stroke-width="1.25" stroke-linecap="round"/>
<path d="M60.18 95.21H60.58M120.09 94.86H120.49" stroke="#00BA38" stroke-width="1.25" stroke-linecap="round"/>
<path d="M115.01 99.55H115.41M70.35 92.25H70.75M130.38 99.76H130.78M95.68 94.23H96.08" stroke="#619CFF" stroke-width="1.25" stroke-linecap="round"/>
<path d="M42.24 97.09H42.64" stroke="#00BA38" stroke-width="1.25" stroke-linecap="round"/>
<path d="M83.18 95.56H83.58M101 94.75H101.4" stroke="#619CFF" stroke-width="1.25" stroke-linecap="round"/>
<path d="M135.42 92.32H135.82" stroke="#00BA38" stroke-width="1.25" stroke-linecap="round"/>
<path d="M55.19 97.25H55.59M97.41 99.19H97.81" stroke="#619CFF" stroke-width="1.25" stroke-linecap="round"/>
<path d="M99.98 96.44H100.38" stroke="#00BA38" stroke-width="1.25" stroke-linecap="round"/>
<path d="M107.75 95.79H108.15" stroke="#619CFF" stroke-width="1.25" stroke-linecap="round"/>
<path d="M64.78 100.73H65.18M118.07 93.28H118.47" stroke="#00BA38" stroke-width="1.25" stroke-linecap="round"/>
<path d="M72.58 90.26H72.98" stroke="#619CFF" stroke-width="1.25" stroke-linecap="round"/>
<path d="M114.83 96.75H115.23M115.96 94.06H116.36M48.07 97.65H48.47M71.05 96.26H71.45M122.21 98.74H122.61" stroke="#00BA38" stroke-width="1.25" stroke-linecap="round"/>
<path d="M114.97 89.52H115.37" stroke="#619CFF" stroke-width="1.25" stroke-linecap="round"/>
<path d="M75.57 94.96H75.97" stroke="#00BA38" stroke-width="1.25" stroke-linecap="round"/>
<path d="M102.48 98.52H102.88M92.61 100.64H93.01M97.31 89.19H97.71" stroke="#619CFF" stroke-width="1.25" stroke-linecap="round"/>
<path d="M123.64 99.98H124.04" stroke="#00BA38" stroke-width="1.25" stroke-linecap="round"/>
<path d="M121.96 100.27H122.36" stroke="#619CFF" stroke-width="1.25" stroke-linecap="round"/>
<path d="M125.62 98.35H126.02" stroke="#00BA38" stroke-width="1.25" stroke-linecap="round"/>
<path d="M117.36 84.32H117.76M84.66 100.02H85.06M68.37 97.32H68.77M75.02 83.7H75.42M136.64 92.21H137.04" stroke="#619CFF" stroke-width="1.25" stroke-linecap="round"/>
<path d="M102.1 88.74H102.5" stroke="#00BA38" stroke-width="1.25" stroke-linecap="round"/>
<path d="M60.23 78.9H60.63M94.02 97.15H94.42" stroke="#619CFF" stroke-width="1.25" stroke-linecap="round"/>
<path d="M85.79 100.08H86.19M51.84 82.43H52.24" stroke="#00BA38" stroke-width="1.25" stroke-linecap="round"/>
<path d="M111.87 92.72H112.27M92.01 96.27H92.41" stroke="#619CFF" stroke-width="1.25" stroke-linecap="round"/>
<path d="M114.5 98.35H114.9M68.21 94.46H68.61" stroke="#00BA38" stroke-width="1.25" stroke-linecap="round"/>
<path d="M91.94 96.3H92.34" stroke="#619CFF" stroke-width="1.25" stroke-linecap="round"/>
<path d="M73.64 89.61H74.04" stroke="#00BA38" stroke-width="1.25" stroke-linecap="round"/>
<path d="M86.19 95.44H86.59M46.8 96.35H47.2M115.34 99.51H115.74" stroke="#619CFF" stroke-width="1.25" stroke-linecap="round"/>
<path d="M69.37 94.76H69.77" stroke="#00BA38" stroke-width="1.25" stroke-linecap="round"/>
<path d="M57.91 95.94H58.31" stroke="#619CFF" stroke-width="1.25" stroke-linecap="round"/>
<path d="M80.11 97.15H80.51M116.68 93.37H117.08" stroke="#00BA38" stroke-width="1.25" stroke-linecap="round"/>
<path d="M99.65 99.35H100.05M99.54 99.41H99.94M125.77 100.26H126.17M58.96 98.56H59.36" stroke="#619CFF" stroke-width="1.25" stroke-linecap="round"/>
<path d="M114.89 99.25H115.29" stroke="#00BA38" stroke-width="1.25" stroke-linecap="round"/>
<path d="M127.22 98.19H127.62M86.9 93.43H87.3" stroke="#619CFF" stroke-width="1.25" stroke-linecap="round"/>
<path d="M69.6 99.46H70" stroke="#00BA38" stroke-width="1.25" stroke-linecap="round"/>
<path d="M91.23 89.73H91.63" stroke="#619CFF" stroke-width="1.25" stroke-linecap="round"/>
<path d="M126.98 99.15H127.38" stroke="#00BA38" stroke-width="1.25" stroke-linecap="round"/>
<path d="M63.64 87.66H64.04" stroke="#619CFF" stroke-width="1.25" stroke-linecap="round"/>
<path d="M48.29 99.49H48.69M72.76 99.14H73.16" stroke="#00BA38" stroke-width="1.25" stroke-linecap="round"/>
<path d="M69.78 96.11H70.18M98.85 95.1H99.25" stroke="#619CFF" stroke-width="1.25" stroke-linecap="round"/>
<path d="M84.35 98.81H84.75M89.15 96.73H89.55" stroke="#00BA38" stroke-width="1.25" stroke-linecap="round"/>
<path d="M101.58 96.63H101.98" stroke="#619CFF" stroke-width="1.25" stroke-linecap="round"/>
<path d="M68.29 97.97H68.69" stroke="#00BA38" stroke-width="1.25" stroke-linecap="round"/>
<path d="M80.37 99.99H80.77" stroke="#619CFF" stroke-width="1.25" stroke-linecap="round"/>
<path d="M53.53 100.13H53.93" stroke="#00BA38" stroke-width="1.25" stroke-linecap="round"/>
<path d="M103.93 90.08H104.33" stroke="#619CFF" stroke-width="1.25" stroke-linecap="round"/>
<path d="M131.09 96.96H131.49M94.75 96.04H95.15M134.44 94.54H134.84M71.57 98.35H71.97" stroke="#00BA38" stroke-width="1.25" stroke-linecap="round"/>
<path d="M48.53 90.02H48.93M76.59 93.58H76.99" stroke="#619CFF" stroke-width="1.25" stroke-linecap="round"/>
<path d="M46.58 99.49H46.98" stroke="#00BA38" stroke-width="1.25" stroke-linecap="round"/>
<path d="M44.82 96.84H45.22" stroke="#619CFF" stroke-width="1.25" stroke-linecap="round"/>
<path d="M53.61 95.87H54.01" stroke="#00BA38" stroke-width="1.25" stroke-linecap="round"/>
<path d="M106.38 80.17H106.78M49.93 93.28H50.33" stroke="#619CFF" stroke-width="1.25" stroke-linecap="round"/>
<path d="M54.71 98.03H55.11" stroke="#00BA38" stroke-width="1.25" stroke-linecap="round"/>
<path d="M75.74 92.7H76.14" stroke="#619CFF" stroke-width="1.25" stroke-linecap="round"/>
<path d="M83.46 94.35H83.86M69.22 96.15H69.62M129.8 98.27H130.2" stroke="#00BA38" stroke-width="1.25" stroke-linecap="round"/>
<path d="M99.78 93.37H100.18" stroke="#619CFF" stroke-width="1.25" stroke-linecap="round"/>
<path d="M48.62 84.1H49.02M120.77 98.74H121.17M62.9 92.61H63.3" stroke="#00BA38" stroke-width="1.25" stroke-linecap="round"/>
<path d="M96.86 96.7H97.26" stroke="#619CFF" stroke-width="1.25" stroke-linecap="round"/>
<path d="M87.86 90.7H88.26" stroke="#00BA38" stroke-width="1.25" stroke-linecap="round"/>
<path d="M59.72 100.13H60.12" stroke="#619CFF" stroke-width="1.25" stroke-linecap="round"/>
<path d="M63.14 94.44H63.54" stroke="#00BA38" stroke-width="1.25" stroke-linecap="round"/>
<path d="M111.81 97.14H112.21" stroke="#619CFF" stroke-width="1.25" stroke-linecap="round"/>
<path d="M99.62 99.99H100.02" stroke="#00BA38" stroke-width="1.25" stroke-linecap="round"/>
<path d="M82.3 92.86H82.7M45.89 91.17H46.29M78.68 84.93H79.08" stroke="#619CFF" stroke-width="1.25" stroke-linecap="round"/>
<path d="M84.48 87.39H84.88M90.15 98.77H90.55M88.35 99.36H88.75" stroke="#00BA38" stroke-width="1.25" stroke-linecap="round"/>
<path d="M60.89 98.15H61.29M55.18 89.45H55.58M44.96 96.61H45.36M96.23 99.5H96.63M120.67 95.89H121.07" stroke="#619CFF" stroke-width="1.25" stroke-linecap="round"/>
<path d="M116.24 98.5H116.64" stroke="#00BA38" stroke-width="1.25" stroke-linecap="round"/>
<path d="M82 97.91H82.4" stroke="#619CFF" stroke-width="1.25" stroke-linecap="round"/>
<path d="M93.42 99.13H93.82" stroke="#00BA38" stroke-width="1.25" stroke-linecap="round"/>
<path d="M88.43 95.16H88.83M49.24 96.67H49.64M75.5 99.67H75.9" stroke="#619CFF" stroke-width="1.25" stroke-linecap="round"/>
<path d="M58.4 97.29H58.8" stroke="#00BA38" stroke-width="1.25" stroke-linecap="round"/>
<path d="M99.45 100.81H99.85" stroke="#619CFF" stroke-width="1.25" stroke-linecap="round"/>
<path d="M120.73 100.88H121.13M117.19 91.33H117.59M56.44 97.92H56.84M132.24 98.46H132.64M84.18 97.6H84.58M71.31 93.88H71.71M67.26 98.11H67.66M59.81 99.63H60.21" stroke="#00BA38" stroke-width="1.25" stroke-linecap="round"/>
<path d="M56.01 92.56H56.41" stroke="#619CFF" stroke-width="1.25" stroke-linecap="round"/>
<path d="M76.76 96.81H77.16" stroke="#00BA38" stroke-width="1.25" stroke-linecap="round"/>
<path d="M94.61 99.95H95.01" stroke="#619CFF" stroke-width="1.25" stroke-linecap="round"/>
<path d="M47.7 92.3H48.1" stroke="#00BA38" stroke-width="1.25" stroke-linecap="round"/>
<path d="M88.51 97.49H88.91M68.33 93.89H68.73M91.35 93.64H91.75M108.85 95.14H109.25M105.66 96.22H106.06M58.99 96.19H59.39M113.79 85.45H114.19" stroke="#619CFF" stroke-width="1.25" stroke-linecap="round"/>
<path d="M74.02 94.22H74.42" stroke="#00BA38" stroke-width="1.25" stroke-linecap="round"/>
<path d="M77.02 95.35H77.42M59.69 99.13H60.09M52.93 99.91H53.33M125.52 91.96H125.92" stroke="#619CFF" stroke-width="1.25" stroke-linecap="round"/>
<path d="M88.37 96.8H88.77" stroke="#00BA38" stroke-width="1.25" stroke-linecap="round"/>
<path d="M43.82 95.63H44.22M128.38 90.87H128.78" stroke="#619CFF" stroke-width="1.25" stroke-linecap="round"/>
<path d="M71.53 95.26H71.93" stroke="#00BA38" stroke-width="1.25" stroke-linecap="round"/>
<path d="M90.91 98.98H91.31M111.17 90.69H111.57M105.18 100.92H105.58" stroke="#619CFF" stroke-width="1.25" stroke-linecap="round"/>
<path d="M74.73 96.21H75.13M61.08 96.74H61.48" stroke="#00BA38" stroke-width="1.25" stroke-linecap="round"/>
<path d="M105.74 93.58H106.14" stroke="#619CFF" stroke-width="1.25" stroke-linecap="round"/>
<path d="M53.34 95.02H53.74" stroke="#00BA38" stroke-width="1.25" stroke-linecap="round"/>
<path d="M127.57 98.19H127.97" stroke="#619CFF" stroke-width="1.25" stroke-linecap="round"/>
<path d="M46.6 97.2H47M86.81 95.31H87.21M109.66 99.15H110.06" stroke="#00BA38" stroke-width="1.25" stroke-linecap="round"/>
<path d="M55.55 91.66H55.95M50.4 96.08H50.8M103.59 79.51H103.99M118.32 95.64H118.72" stroke="#619CFF" stroke-width="1.25" stroke-linecap="round"/>
<path d="M78.13 85.08H78.53M71.77 96.8H72.17M48.24 92.89H48.64M120.47 98.33H120.87M51.01 93.87H51.41M67.16 99.76H67.56" stroke="#00BA38" stroke-width="1.25" stroke-linecap="round"/>
<path d="M82.78 92.06H83.18M117.35 100.13H117.75" stroke="#619CFF" stroke-width="1.25" stroke-linecap="round"/>
<path d="M127.8 97.02H128.2" stroke="#00BA38" stroke-width="1.25" stroke-linecap="round"/>
<path d="M86.04 91.84H86.44" stroke="#619CFF" stroke-width="1.25" stroke-linecap="round"/>
<path d="M66.04 99.89H66.44" stroke="#00BA38" stroke-width="1.25" stroke-linecap="round"/>
<path d="M105.4 92.64H105.8M99.68 92.31H100.08M76.72 87.97H77.12M57.71 100.58H58.11M55.16 92.88H55.56M106.85 95.42H107.25M46.08 94.55H46.48" stroke="#619CFF" stroke-width="1.25" stroke-linecap="round"/>
<path d="M90.45 97.66H90.85" stroke="#00BA38" stroke-width="1.25" stroke-linecap="round"/>
<path d="M54.35 98.93H54.75" stroke="#619CFF" stroke-width="1.25" stroke-linecap="round"/>
<path d="M67.16 95.95H67.56" stroke="#00BA38" stroke-width="1.25" stroke-linecap="round"/>
<path d="M79.3 92.02H79.7M76.41 96.6H76.81" stroke="#619CFF" stroke-width="1.25" stroke-linecap="round"/>
<path d="M110.35 94.61H110.75M65.47 98.45H65.87" stroke="#00BA38" stroke-width="1.25" stroke-linecap="round"/>
<path d="M82.02 93.39H82.42M70.36 99.66H70.76M101.78 89.94H102.18M74.25 93.38H74.65" stroke="#619CFF" stroke-width="1.25" stroke-linecap="round"/>
<path d="M103.15 97.74H103.55M74.15 98.51H74.55M106.23 98.52H106.63M134.42 95.04H134.82M57.37 97.46H57.77" stroke="#00BA38" stroke-width="1.25" stroke-linecap="round"/>
<path d="M117.25 88.19H117.65" stroke="#619CFF" stroke-width="1.25" stroke-linecap="round"/>
<path d="M96.17 96.36H96.57M90 94.8H90.4" stroke="#00BA38" stroke-width="1.25" stroke-linecap="round"/>
<path d="M82.84 87.02H83.24" stroke="#619CFF" stroke-width="1.25" stroke-linecap="round"/>
<path d="M114.54 97.08H114.94M85.42 98.38H85.82" stroke="#00BA38" stroke-width="1.25" stroke-linecap="round"/>
<path d="M123.26 91.51H123.66" stroke="#619CFF" stroke-width="1.25" stroke-linecap="round"/>
<path d="M116.87 100.91H117.27" stroke="#00BA38" stroke-width="1.25" stroke-linecap="round"/>
<path d="M110.34 96.01H110.74M61.9 97.73H62.3" stroke="#619CFF" stroke-width="1.25" stroke-linecap="round"/>
<path d="M71.54 87.75H71.94" stroke="#00BA38" stroke-width="1.25" stroke-linecap="round"/>
<path d="M52.85 96.35H53.25" stroke="#619CFF" stroke-width="1.25" stroke-linecap="round"/>
<path d="M92.75 94.56H93.15M106.26 95.1H106.66M105.45 99.83H105.85M99.19 95.91H99.59M129.16 97.99H129.56" stroke="#00BA38" stroke-width="1.25" stroke-linecap="round"/>
<path d="M59.35 93.59H59.75M123.19 95.25H123.59M106.98 86.36H107.38M132.7 96.82H133.1M107.71 94.83H108.11" stroke="#619CFF" stroke-width="1.25" stroke-linecap="round"/>
<path d="M81.3 96.41H81.7" stroke="#00BA38" stroke-width="1.25" stroke-linecap="round"/>
<path d="M65.15 97.86H65.55M108.94 92.11H109.34M74.97 96.72H75.37" stroke="#619CFF" stroke-width="1.25" stroke-linecap="round"/>
<path d="M85.16 93.51H85.56M60.83 91.66H61.23" stroke="#00BA38" stroke-width="1.25" stroke-linecap="round"/>
<path d="M84.49 97.65H84.89M103.49 94.21H103.89M110.52 98.2H110.92M115.73 99.4H116.13M116.41 99.85H116.81" stroke="#619CFF" stroke-width="1.25" stroke-linecap="round"/>
<path d="M69.75 100.89H70.15" stroke="#00BA38" stroke-width="1.25" stroke-linecap="round"/>
<path d="M49.38 100.18H49.78" stroke="#619CFF" stroke-width="1.25" stroke-linecap="round"/>
<path d="M44.28 98.86H44.68" stroke="#00BA38" stroke-width="1.25" stroke-linecap="round"/>
<path d="M118.84 91.94H119.24M58.48 98.82H58.88M121.36 100.27H121.76" stroke="#619CFF" stroke-width="1.25" stroke-linecap="round"/>
<path d="M66.87 97.22H67.27" stroke="#00BA38" stroke-width="1.25" stroke-linecap="round"/>
<path d="M131.25 93.31H131.65M116.96 93.76H117.36M87.88 98.71H88.28M118.57 98.56H118.97" stroke="#619CFF" stroke-width="1.25" stroke-linecap="round"/>
<path d="M95.61 95.49H96.01" stroke="#00BA38" stroke-width="1.25" stroke-linecap="round"/>
<path d="M44.9 96.21H45.3M100.65 96.55H101.05M44.77 97.57H45.17" stroke="#619CFF" stroke-width="1.25" stroke-linecap="round"/>
<path d="M132.67 94.33H133.07" stroke="#00BA38" stroke-width="1.25" stroke-linecap="round"/>
<path d="M99.95 99.99H100.35M105.4 100.24H105.8M112.02 95.58H112.42" stroke="#619CFF" stroke-width="1.25" stroke-linecap="round"/>
<path d="M46.46 97.93H46.86" stroke="#00BA38" stroke-width="1.25" stroke-linecap="round"/>
<path d="M43.82 95.73H44.22" stroke="#619CFF" stroke-width="1.25" stroke-linecap="round"/>
<path d="M95.04 93.25H95.44" stroke="#00BA38" stroke-width="1.25" stroke-linecap="round"/>
<path d="M54.21 97.16H54.61" stroke="#619CFF" stroke-width="1.25" stroke-linecap="round"/>
<path d="M98.46 97.04H98.86" stroke="#00BA38" stroke-width="1.25" stroke-linecap="round"/>
<path d="M77.52 100.48H77.92" stroke="#619CFF" stroke-width="1.25" stroke-linecap="round"/>
<path d="M56.25 94.62H56.65" stroke="#00BA38" stroke-width="1.25" stroke-linecap="round"/>
<path d="M108.74 96.19H109.14" stroke="#619CFF" stroke-width="1.25" stroke-linecap="round"/>
<path d="M120.4 95.89H120.8" stroke="#00BA38" stroke-width="1.25" stroke-linecap="round"/>
<path d="M103.79 93.35H104.19M131.56 93.03H131.96" stroke="#619CFF" stroke-width="1.25" stroke-linecap="round"/>
<path d="M43.06 100.61H43.46" stroke="#00BA38" stroke-width="1.25" stroke-linecap="round"/>
<path d="M60.77 96.45H61.17M61.58 85.68H61.98M120.35 98.43H120.75M61.54 89.84H61.94M118.66 96.09H119.06M61.17 99.22H61.57M136.53 93.77H136.93M132.3 98.59H132.7M119.83 96.81H120.23M113.03 100.13H113.43M100.6 93.62H101M107.3 95.09H107.7M95.9 95.84H96.3M48.8 98.91H49.2M101.91 96.55H102.31M51.58 97.79H51.98M106.61 98.62H107.01M44.06 96.7H44.46M134.54 100.47H134.94M83.61 90.16H84.01M66.46 97.74H66.86M50.1 94.75H50.5M50.94 95.54H51.34M111.68 98.3H112.08M99 87.37H99.4M48.67 98.25H49.07M48 96.42H48.4M118.64 97.93H119.04M134.08 92.36H134.48M75.66 99.01H76.06M64.31 97.94H64.71M90.4 97.76H90.8M76.75 97.85H77.15M62.02 93.52H62.42M124.42 95.09H124.82M99.78 100.47H100.18M48.38 91.65H48.78M52.88 100.45H53.28M68.69 80H69.09M107.7 99.65H108.1M52.74 100.51H53.14M131.22 98.17H131.62M44.53 94.74H44.93M50.2 93.79H50.6M115.31 100.23H115.71M102.75 92.83H103.15M47.14 99.46H47.54M100.02 94.91H100.42M108.45 87.96H108.85M74.75 93.57H75.15M100.92 99.01H101.32M116.32 96.49H116.72M74.38 95.18H74.78M112.04 85.91H112.44M57.3 100.73H57.7M76.21 98.53H76.61M72.9 100.9H73.3M131.48 95.09H131.88M52.48 86.39H52.88M42.74 92.44H43.14M96.97 99.62H97.37M132.86 99.93H133.26M114.23 99.42H114.63M112.41 100.9H112.81M108.07 95.93H108.47M120.86 100.01H121.26M98.62 98.26H99.02M132.54 94.44H132.94M105.44 96.22H105.84M117.86 98.06H118.26M99.52 91.96H99.92M43.11 100.29H43.51M128.68 98.05H129.08M125.05 99.4H125.45M84.02 100.74H84.42M85.68 95.63H86.08M45.55 87.19H45.95M53.89 89.07H54.29M71.91 94.89H72.31M66.06 92.47H66.46M136.55 99.86H136.95M110.72 96.13H111.12M51.19 96.15H51.59M63.01 100.69H63.41M135.74 98.77H136.14M131.05 97.74H131.45M46.97 83.63H47.37M44.81 97.27H45.21M108.18 98.48H108.58M49.67 90.46H50.07M49.22 97.56H49.62M83.08 89.85H83.48M56.1 96.21H56.5M98.52 94.42H98.92M73.8 92.86H74.2M69.9 96.19H70.3M112.48 92.08H112.88M72.94 97.95H73.34M109.75 98.68H110.15M85.67 84.85H86.07M121.53 92.75H121.93M90.4 95.63H90.8M69.99 98.08H70.39M118.57 94.27H118.97M97.72 90.12H98.12M100.09 90.93H100.49M125.12 97.88H125.52M49.06 92.6H49.46M99.23 95.23H99.63M125 97.82H125.4M81.01 98.57H81.41M57.67 97.77H58.07M94.35 100.49H94.75M50.17 97.01H50.57M105.06 96.39H105.46M114.23 92.21H114.63M75.7 96.25H76.1M93.51 98.48H93.91M117.43 96.99H117.83M97.78 90.44H98.18M136.89 96.22H137.29M76.8 98.24H77.2M102.35 99.69H102.75M61.91 100.16H62.31M112.79 98.22H113.19M135.76 100.04H136.16M67.95 90.99H68.35M100.25 88.85H100.65M64.68 97.44H65.08M115.38 99.65H115.78M68.61 96.34H69.01M69.65 91.18H70.05M126.3 100.22H126.7M63.34 100.8H63.74M107.37 99.94H107.77M127.14 91.96H127.54M67.96 93.11H68.36M85.16 92.69H85.56M111 100.45H111.4M74.28 94.59H74.68M54.37 94.03H54.77M134.06 98.37H134.46M51.74 97.27H52.14M119.32 100.26H119.72M90.4 100.72H90.8M67.93 94.15H68.33M114.91 96.16H115.31M53.23 99.88H53.63M100.28 100.42H100.68M119.77 94.07H120.17M56.33 96.21H56.73M121.83 94.03H122.23M56.14 85.12H56.54M90.5 98.63H90.9M133.28 93.96H133.68M55.65 92.57H56.05M102.17 96.17H102.57M84.07 97.58H84.47M125.7 100.46H126.1M95.19 95.62H95.59M70.46 78.68H70.86M103.42 94.05H103.82M79.13 97.15H79.53M129.6 97.47H130M66.67 100.9H67.07M47.4 94.65H47.8M136.62 98.32H137.02M106.84 98.89H107.24M50.27 90.12H50.67M54.16 96.51H54.56M100.3 100.9H100.7M90.74 96.74H91.14M90.25 93.76H90.65M81.41 99.29H81.81M111.59 100.1H111.99M107.05 95.81H107.45M79.82 87.34H80.22M64.2 95.66H64.6M52.14 99.57H52.54M83.29 98.01H83.69M88.51 92.84H88.91M106.26 97.22H106.66M101.44 96.71H101.84M94.07 93.6H94.47M104.21 98.99H104.61M135.35 87.15H135.75M43.38 98.94H43.78M130.44 98.31H130.84M126.93 87.55H127.33M83.28 86.87H83.68M59.46 96.2H59.86M97.79 94.91H98.19M50.77 100.11H51.17M89.57 100.79H89.97M101.2 81.67H101.6M97.72 96.52H98.12M91.78 94.59H92.18M77.67 80.79H78.07M80.06 99.92H80.46M129.96 92.32H130.36M104.89 100.76H105.29M98.48 95.11H98.88M76.15 94.9H76.55M130.48 96.73H130.88M110.07 91.17H110.47M75.38 99.16H75.78M69.82 90.9H70.22M105.23 87.95H105.63M54.3 96.02H54.7M53.55 99.03H53.95M108.13 92.56H108.53M101.37 86.58H101.77M46.19 98.03H46.59M45.66 96.93H46.06M73.93 94.18H74.33M81.24 96.64H81.64M125.91 98.36H126.31M50.23 96.04H50.63M75.57 96.06H75.97M124.83 91.34H125.23M102.52 99.66H102.92M71.16 92.83H71.56M49.2 91.11H49.6M84.03 92.91H84.43M110.77 95.1H111.17M131.76 94.94H132.16M116.77 97.88H117.17M49.69 97.24H50.09M87.68 92.56H88.08M133.69 89.97H134.09M85.78 83.52H86.18M49.78 95.04H50.18M107.99 97.98H108.39M94.48 100.15H94.88M92.52 96.08H92.92M117.67 97.44H118.07M58.6 91.78H59M69.33 100.92H69.73M103.76 97.08H104.16M88.47 92.28H88.87M56.06 97.28H56.46M46.92 89.27H47.32M113.62 100.19H114.02M72.79 91.37H73.19M103.95 94.35H104.35M60 100.88H60.4M105.54 96.3H105.94M65.67 99.82H66.07M93.08 90.68H93.48M85.82 94.71H86.22M120.65 98.08H121.05M92.88 98.57H93.28M56.14 100.24H56.54M69.73 95.43H70.13M90.53 97.06H90.93M87.87 88.98H88.27M101.92 92.59H102.32M57.31 97.19H57.71M52.73 97.69H53.13M106.74 92.42H107.14M63.38 99.08H63.78M99.1 93.35H99.5M65.08 97.94H65.48M102.52 88.89H102.92M68.08 89.59H68.48M113.48 98.26H113.88M65.56 96.41H65.96M129.38 98.7H129.78M119.37 99.83H119.77M132.84 98.63H133.24M100.53 97.07H100.93M57.41 90.57H57.81M102.9 92.08H103.3M99.23 98.87H99.63M59.08 97.6H59.48M135.57 98.49H135.97M55.47 98.68H55.87M95.94 98.39H96.34M112.03 94.68H112.43M62.97 96.88H63.37M71.74 92.23H72.14M112.27 98.53H112.67M100.97 98.44H101.37M133.4 94.59H133.8M46.16 94.68H46.56M74.94 96.51H75.34M74.36 99.58H74.76M51.97 99.12H52.37M107.88 100.7H108.28M76.43 94.02H76.83M51.07 97.66H51.47M108.01 97.56H108.41M95.34 96.26H95.74M102.91 95.3H103.31M58.77 93.3H59.17M53.31 98.13H53.71M121.3 96.44H121.7M57.96 97.88H58.36M118.9 91.14H119.3M65.21 98H65.61M103.14 100.44H103.54M75.18 96.56H75.58M111.64 99.62H112.04M47.99 98.04H48.39M91.85 95.31H92.25M78.25 91.35H78.65M55.83 88.44H56.23M94.11 91H94.51M61.8 99.3H62.2M111.01 94.15H111.41M90.13 96.02H90.53M120.71 98.96H121.11M111.6 96.28H112M52.23 99.37H52.63M84.9 95.01H85.3M69.62 96.74H70.02M85.48 98.3H85.88M69.17 96.11H69.57M94.55 89.83H94.95M116.71 96.57H117.11M131.81 96.37H132.21M129.05 87.61H129.45M117.04 98.97H117.44M83.57 99.63H83.97M131.69 97.03H132.09M103.98 95.47H104.38M112.58 100.38H112.98M83.11 96.1H83.51M83.77 88.29H84.17M50.84 98.7H51.24M51.14 96.96H51.54M72.42 96.43H72.82" stroke="#619CFF" stroke-width="1.25" stroke-linecap="round"/>
</g>
<g clip-path="url(#cp01)">
<path d="M157.27 96.53H157.67M160.11 94.73H160.51M150.52 97.37H150.92M152.99 95.12H153.39M158.95 95.01H159.35M155.62 97.58H156.02M151.08 99.32H151.48M152.42 92.34H152.82M153.7 94.62H154.1M157.31 98.54H157.71M160.2 85.1H160.6M156.21 92.96H156.61M150.5 99.26H150.9M157.2 99.63H157.6M156.25 92.04H156.65M156.29 97.14H156.69M150.51 83.42H150.91M154.69 84.77H155.09M155.83 92.24H156.23M156.12 100.81H156.52M155.12 99.45H155.52M158.45 97.92H158.85M160.73 99.53H161.13M150.72 97.01H151.12M159.74 96.67H160.14M157.36 97.66H157.76M158.8 98.92H159.2M155.29 98.15H155.69M160.05 98.22H160.45M158.11 98.84H158.51M157.07 95.35H157.47M155.33 99.04H155.73M158.8 94.64H159.2M154.91 97.64H155.31M158.97 97.64H159.37M152.87 94.6H153.27M155.68 87.86H156.08M158.34 96.13H158.74M155.44 93.51H155.84M151.65 99.05H152.05M153.36 98.07H153.76M160.73 96.25H161.13M156.46 93.58H156.86M160.95 98.83H161.35M159.8 84.59H160.2" stroke="#F8766D" stroke-width="1.25" stroke-linecap="round"/>
<path d="M157.19 68.39H157.59M158.54 62.44H158.94M151.17 65.05H151.57M157.74 72.58H158.14M156.73 72H157.13M157.67 68.12H158.07M159.88 75.95H160.28M152.07 77.91H152.47M152.1 63.74H152.5M157.38 82.56H157.78M155.83 73.66H156.23M151.56 67.39H151.96M159.36 65.25H159.76M152.78 68.49H153.18M150.52 70.3H150.92M151.34 71.2H151.74M152.58 70.61H152.98M153.91 69.67H154.31M152.32 72.6H152.72M155.5 57.66H155.9M153.36 95.47H153.76M153.31 63.06H153.71M153.01 70.67H153.41M156.56 75.14H156.96M160.23 77.65H160.63M151.07 72.6H151.47M155.91 59.64H156.31M160.39 66.75H160.79M155.29 58.31H155.69M155.01 77.48H155.41M158.13 63.89H158.53M156.26 73.12H156.66M152.54 70.06H152.94M150.53 64.67H150.93M152.43 65.58H152.83M151.39 77.29H151.79M158.24 75.1H158.64M150.57 76.48H150.97M159.57 66.25H159.97M160.7 64.07H161.1M159.27 62.47H159.67M152.39 59.01H152.79M158.96 58.16H159.36M152.06 75.56H152.46M152.1 75.23H152.5M154.53 60.58H154.93M157.7 60.78H158.1M152.82 69.38H153.22M156.8 69.95H157.2M156.72 73.3H157.12M155.88 70.04H156.28M157.34 68.61H157.74M160.66 71.27H161.06M154.68 71.97H155.08M160.36 84.45H160.76" stroke="#00BA38" stroke-width="1.25" stroke-linecap="round"/>
<path d="M155.52 32.8H155.92M153.73 36.79H154.13M158.1 35.88H158.5M151.47 46.39H151.87M159.69 50.87H160.09M150.33 28.72H150.73M159.21 50.2H159.61M151.02 33.98H151.42M158.52 37.23H158.92M158.78 32.85H159.18M156.05 40.08H156.45M156.62 40.76H157.02M157.17 31.67H157.57M160.17 32.98H160.57M155.57 37.42H155.97M159.99 33.73H160.39M160.7 33.08H161.1M156.68 39.46H157.08M157.66 29.35H158.06M154.16 42.04H154.56M155.79 33.8H156.19M160.62 21.77H161.02M155.58 31.84H155.98M151.09 43.92H151.49M156.02 39.37H156.42M151.88 34.63H152.28M156.04 16.76H156.44M159.21 33.8H159.61M153.7 41.44H154.1M160.15 27.93H160.55M153.57 30.69H153.97M150.48 29.41H150.88M158.74 27.67H159.14M159.02 52.83H159.42M153.98 57.19H154.38M160.89 27.51H161.29M158.15 50.58H158.55M152.44 36.11H152.84M154.02 55.24H154.42M153.5 31.59H153.9M151.12 31.93H151.52M153.01 35.86H153.41M152.28 32.12H152.68M154.22 20.2H154.62M156.46 42.58H156.86M159.92 33.94H160.32M151.96 39.55H152.36M153.32 39.12H153.72M152.99 58.68H153.39M158.69 42.33H159.09M152.98 31.25H153.38M154.62 33.97H155.02M156.75 45.89H157.15M160.4 42.45H160.8M156.45 44.2H156.85M155.95 33.69H156.35M153.66 39.87H154.06M151.79 57.44H152.19M156.06 25.44H156.46M157.6 38.58H158" stroke="#619CFF" stroke-width="1.25" stroke-linecap="round"/>
<path d="M176.3 96.41H176.7M238.94 100.74H239.34M194.01 99.04H194.41M205.07 99.27H205.47M255 96.94H255.4M184.41 100.3H184.81M228.89 95.4H229.29M227.73 96.37H228.13M196.02 93.41H196.42M208.55 98.64H208.95M239.09 98.29H239.49M188.38 98.23H188.78M241.89 99.76H242.29M162.43 96.78H162.83M167.06 93.02H167.46M180.45 99.89H180.85M174.06 98.29H174.46M180.15 93.46H180.55M212.9 100.63H213.3M234.97 94.79H235.37M222.6 94.51H223M186.92 99.8H187.32M189.75 91.81H190.15M180.48 97.62H180.88M174.58 100.42H174.98M163.74 89.45H164.14M235.82 91.48H236.22M223.82 88.03H224.22M187.31 90.86H187.71M251.02 99.65H251.42M240.1 97.02H240.5M202.61 99.93H203.01M174.33 97.04H174.73M209.43 99.02H209.83M254.3 97.31H254.7M185.73 94.03H186.13M204.12 91.14H204.52M180.85 90.23H181.25M192.57 98.92H192.97M252.11 99.32H252.51M249.56 98.93H249.96M183.36 95.11H183.76M248.34 91.16H248.74M178.61 93.96H179.01M242.13 100.55H242.53M168.24 95.91H168.64M164.56 93.47H164.96M167.75 79.64H168.15M177.72 93.53H178.12M177.18 99.38H177.58M241.46 89.43H241.86M250.77 96.36H251.17M204.12 98.49H204.52M196.97 95.19H197.37M166.01 95H166.41M221.5 88.72H221.9M206.88 96.45H207.28M236.95 94.04H237.35M252.36 100.24H252.76M166.4 93.44H166.8M203.11 96.86H203.51M165.8 97.32H166.2M212.6 95.8H213M222.59 98.47H222.99M198.42 98.53H198.82M160.59 97.83H160.99M236.72 100.13H237.12M216.35 93.9H216.75M207.83 93.39H208.23M191.65 98.32H192.05M204.22 87.76H204.62M240.81 99.71H241.21M170.76 95.35H171.16M182.15 88.66H182.55M227.72 94.47H228.12M223.65 96.29H224.05M254.1 99.7H254.5M180.36 97.31H180.76M250.15 97.75H250.55M185.82 98.93H186.22M161.65 93.33H162.05M205.06 99.32H205.46M217.96 93.69H218.36M164.4 100.46H164.8M243 100.58H243.4M201.4 97.21H201.8M186.66 82.8H187.06M235 93.67H235.4M229.85 98.57H230.25M208.83 96.71H209.23M243.72 96.85H244.12M200.34 95.13H200.74M241.87 86.71H242.27M183.45 92.98H183.85M208.23 99.12H208.63M175.06 100.83H175.46M248.15 96.4H248.55M203.56 96.89H203.96M222.87 99.4H223.27M162.92 98.65H163.32M178.82 96.65H179.22M181.02 96.05H181.42M168.49 94.05H168.89M227.92 92.16H228.32M229.18 91.81H229.58M220.97 96.88H221.37M189.9 96.48H190.3M170 94.48H170.4M180.26 84.97H180.66M166.51 91.49H166.91M232.29 95.85H232.69M193.2 93.6H193.6M183.97 95.45H184.37M172.88 95.69H173.28M209.5 94.3H209.9M248.5 98.37H248.9M210.51 99.21H210.91M194.04 98.67H194.44M242.43 100.62H242.83M187.82 99.72H188.22M180.03 94.26H180.43M223.33 95.88H223.73M218.01 95.56H218.41M218.63 97.46H219.03M228.86 100.08H229.26M234.36 92.82H234.76M211.38 96.34H211.78M200.61 93.18H201.01M187.06 96.16H187.46M236.67 94.68H237.07M221.39 87.96H221.79M193.29 92.29H193.69M194.89 85.47H195.29M167.7 99.9H168.1M254.64 98.36H255.04M254.41 99.61H254.81M167.83 93.16H168.23M224.8 96.8H225.2M186.38 92.88H186.78M249.35 93.19H249.75M166.18 91.81H166.58M207.26 97.26H207.66M219.35 87.88H219.75M176.11 99.42H176.51M160.69 88.84H161.09M246.88 95.82H247.28M251.1 95.42H251.5M203.55 99.89H203.95M238.2 98.87H238.6M173.6 100.01H174M168.51 90.01H168.91M199.21 100.12H199.61M234.79 99.28H235.19M176 95.5H176.4M250.84 96.18H251.24M194.72 95.19H195.12M172.51 96.62H172.91M183.22 99.99H183.62M243.43 99.92H243.83M214.21 100H214.61M210.12 92.46H210.52M161.92 94.11H162.32M167.17 100.33H167.57M193.7 98.2H194.1M254.06 98.73H254.46M252.69 94.51H253.09M169.13 93.77H169.53M196.72 83.1H197.12M160.69 94.93H161.09M216.72 96.48H217.12M166.11 89.88H166.51M178.19 90.89H178.59M178.72 97.3H179.12M246.44 98.81H246.84M221.43 93.22H221.83M217.71 99.34H218.11M247.26 96.97H247.66M250.78 79.39H251.18M237.53 90.5H237.93M249.25 99.62H249.65M177.66 99.41H178.06M194.52 94.45H194.92M188.28 87.96H188.68M199.08 92.91H199.48M233.74 97.74H234.14M230.62 100.5H231.02M225.92 100.28H226.32M214.54 95.56H214.94M187.25 92.65H187.65M243.25 100.44H243.65M170.76 95.37H171.16M171.59 97.93H171.99M173.42 89.29H173.82M171.72 98.46H172.12M252.9 98.83H253.3M240.75 99.66H241.15M239.97 93.47H240.37M249.79 90.05H250.19M192.44 99.57H192.84M236.47 99.43H236.87M202.79 98.19H203.19M194.58 99.24H194.98M178.87 91.36H179.27M167.45 93.57H167.85M209.11 100.22H209.51M163.5 97.19H163.9M240.46 93.28H240.86M185.91 88.41H186.31M189.18 99.81H189.58M234.8 96.57H235.2M205.31 99.36H205.71M246.6 91.96H247M195.66 99.45H196.06M190.44 99.15H190.84M174.49 100.53H174.89M211.02 94.21H211.42M237.47 95.38H237.87M193.6 97.8H194M188.46 99.97H188.86M171.7 97.33H172.1M171.59 97.12H171.99M245.96 100.47H246.36M180.64 89.91H181.04M217.91 99.34H218.31M213.78 89.7H214.18M217.34 99.09H217.74M200.53 97.89H200.93M228.5 95.53H228.9M176.46 97.54H176.86M186.96 88.62H187.36M172.56 100.83H172.96M241.13 97.88H241.53M180.42 85.53H180.82M212.38 99.55H212.78M243.18 98.43H243.58M222.38 96.87H222.78M231.84 93.63H232.24M170.14 98.57H170.54M187.17 96.16H187.57M235.06 93.89H235.46M173.27 93.59H173.67M212.67 92.71H213.07M208.05 97.53H208.45M227.87 98.54H228.27M162.4 96.8H162.8M241.73 99.61H242.13M161.01 99.83H161.41M190.98 84.53H191.38M211.9 98.32H212.3M180.37 99.61H180.77M199.76 96.08H200.16M248.21 96.82H248.61M215.66 93.39H216.06M176.46 95.31H176.86M190.89 97.29H191.29M168.19 98.02H168.59M200.71 96.81H201.11M191.82 98.07H192.22M176.74 98.35H177.14M172.24 96.1H172.64M223.52 98.55H223.92M220.28 93.14H220.68M206.72 92.94H207.12M224.05 98.19H224.45M189.09 88.37H189.49M207.43 95.44H207.83M207.33 96.11H207.73M198.46 95.81H198.86M175.75 95.94H176.15M174.19 93.44H174.59M165.45 93.92H165.85M251.42 95.13H251.82M179.62 99.03H180.02M235.68 90.86H236.08M221.82 95.9H222.22M197.33 99.52H197.73M247.93 99.46H248.33M170.92 93.58H171.32M199.28 99.65H199.68M184.41 100.75H184.81M190.59 91.44H190.99M183.03 91.93H183.43M161.17 99.4H161.57M194.89 95.89H195.29M204.12 99.55H204.52M198.96 96.9H199.36M250.64 95.05H251.04M172.28 96.65H172.68M249.2 100.41H249.6M190.13 90.8H190.53M214.08 93.08H214.48M249.76 96.78H250.16M205.12 97.19H205.52M203.51 97.56H203.91M191.53 99.22H191.93M214.13 91.16H214.53M185.17 95.1H185.57M192.41 95.04H192.81M240.62 98.91H241.02M179.98 94.58H180.38M242.02 94.78H242.42M172.87 87.64H173.27M201.6 94.4H202M232.27 87.32H232.67M233.36 98.97H233.76M194.78 97.15H195.18M161.98 95.47H162.38M180.18 87.79H180.58M216.95 99.49H217.35M213.1 94.67H213.5M195.05 92.93H195.45M206.59 96.78H206.99M217.08 87.21H217.48M169.64 93.24H170.04M251.35 92.75H251.75M186.06 100.45H186.46M246.87 97.25H247.27M235.35 89.49H235.75M190.63 95.89H191.03M194.61 94.08H195.01M235.2 98.75H235.6M182.72 91.9H183.12M230.51 99.29H230.91M239.67 96.59H240.07M235.08 98.71H235.48M222.77 100.53H223.17M252.72 94.68H253.12M171.3 94.05H171.7M241.67 99.83H242.07M225.4 100.37H225.8M205.16 96.82H205.56M178.21 98.94H178.61M177.69 90.92H178.09M218.63 92.86H219.03M243.75 98.7H244.15M216.19 95.05H216.59M235.74 99.6H236.14M161.55 99.33H161.95M189.02 91.26H189.42M186.67 88.86H187.07M211.44 95.61H211.84M163.86 98.89H164.26M205.95 96.23H206.35M224.19 96.6H224.59M252.4 98.08H252.8M200.64 92.39H201.04M239.83 97.05H240.23M200.62 94.82H201.02M170.07 94.51H170.47M198.73 98.22H199.13M173.87 90.24H174.27M208.54 94.28H208.94M250.75 99.71H251.15M248.65 99.41H249.05M172.56 91.32H172.96M231.51 92.12H231.91M165.11 88.6H165.51M200.74 93.87H201.14M198.97 98.21H199.37M168.82 94.67H169.22M164.15 98.72H164.55M227.05 95.19H227.45M172.77 100.75H173.17M177.23 85.55H177.63M171.55 96.49H171.95M186.69 94.54H187.09M206.4 95.23H206.8M161.89 96.83H162.29" stroke="#F8766D" stroke-width="1.25" stroke-linecap="round"/>
<path d="M208.74 98.86H209.14" stroke="#00BA38" stroke-width="1.25" stroke-linecap="round"/>
<path d="M190.85 86.33H191.25M221.03 100.34H221.43" stroke="#F8766D" stroke-width="1.25" stroke-linecap="round"/>
<path d="M180.47 95.77H180.87" stroke="#00BA38" stroke-width="1.25" stroke-linecap="round"/>
<path d="M219.72 94.03H220.12" stroke="#F8766D" stroke-width="1.25" stroke-linecap="round"/>
<path d="M185.75 94.68H186.15M200.19 97.81H200.59" stroke="#00BA38" stroke-width="1.25" stroke-linecap="round"/>
<path d="M187.96 89.17H188.36" stroke="#F8766D" stroke-width="1.25" stroke-linecap="round"/>
<path d="M198.57 98.66H198.97M196.64 89.72H197.04" stroke="#00BA38" stroke-width="1.25" stroke-linecap="round"/>
<path d="M181.78 94.4H182.18M218.09 93.03H218.49M209.96 100.41H210.36M201.83 96.26H202.23M167.41 91.97H167.81" stroke="#F8766D" stroke-width="1.25" stroke-linecap="round"/>
<path d="M222.72 98.37H223.12M204.53 94.11H204.93M244.66 99.86H245.06" stroke="#00BA38" stroke-width="1.25" stroke-linecap="round"/>
<path d="M171.71 96.1H172.11" stroke="#F8766D" stroke-width="1.25" stroke-linecap="round"/>
<path d="M240.02 94.47H240.42" stroke="#00BA38" stroke-width="1.25" stroke-linecap="round"/>
<path d="M240.22 99.7H240.62M191.4 92.33H191.8M243.26 93.2H243.66" stroke="#F8766D" stroke-width="1.25" stroke-linecap="round"/>
<path d="M218.7 95.15H219.1M194.19 96.63H194.59M166.03 92.87H166.43" stroke="#00BA38" stroke-width="1.25" stroke-linecap="round"/>
<path d="M246.51 100.44H246.91" stroke="#F8766D" stroke-width="1.25" stroke-linecap="round"/>
<path d="M183.57 95.06H183.97M168.97 95.52H169.37M167.84 97.31H168.24M171.08 94.2H171.48" stroke="#00BA38" stroke-width="1.25" stroke-linecap="round"/>
<path d="M178.46 99.27H178.86" stroke="#F8766D" stroke-width="1.25" stroke-linecap="round"/>
<path d="M185.31 100.4H185.71" stroke="#00BA38" stroke-width="1.25" stroke-linecap="round"/>
<path d="M165.57 99.03H165.97" stroke="#F8766D" stroke-width="1.25" stroke-linecap="round"/>
<path d="M198.59 98.88H198.99" stroke="#00BA38" stroke-width="1.25" stroke-linecap="round"/>
<path d="M232.7 91.81H233.1M182.3 97.95H182.7M252.28 98.81H252.68M235.85 100.04H236.25" stroke="#F8766D" stroke-width="1.25" stroke-linecap="round"/>
<path d="M162.73 94.01H163.13" stroke="#00BA38" stroke-width="1.25" stroke-linecap="round"/>
<path d="M180.46 99.34H180.86" stroke="#F8766D" stroke-width="1.25" stroke-linecap="round"/>
<path d="M238.21 97.25H238.61" stroke="#00BA38" stroke-width="1.25" stroke-linecap="round"/>
<path d="M236.72 97.44H237.12" stroke="#F8766D" stroke-width="1.25" stroke-linecap="round"/>
<path d="M236.82 96.85H237.22" stroke="#00BA38" stroke-width="1.25" stroke-linecap="round"/>
<path d="M252.79 95.82H253.19M229.69 90.75H230.09" stroke="#F8766D" stroke-width="1.25" stroke-linecap="round"/>
<path d="M194.23 95.82H194.63" stroke="#00BA38" stroke-width="1.25" stroke-linecap="round"/>
<path d="M202.1 95.73H202.5M192.67 93.99H193.07" stroke="#F8766D" stroke-width="1.25" stroke-linecap="round"/>
<path d="M253.66 99.86H254.06M228.96 99.12H229.36" stroke="#00BA38" stroke-width="1.25" stroke-linecap="round"/>
<path d="M227.2 86.41H227.6" stroke="#F8766D" stroke-width="1.25" stroke-linecap="round"/>
<path d="M207.87 90.55H208.27" stroke="#00BA38" stroke-width="1.25" stroke-linecap="round"/>
<path d="M253.19 92.97H253.59M247.27 95.48H247.67M202.75 97.53H203.15M200.36 94.35H200.76" stroke="#F8766D" stroke-width="1.25" stroke-linecap="round"/>
<path d="M201.27 93.05H201.67" stroke="#00BA38" stroke-width="1.25" stroke-linecap="round"/>
<path d="M209.13 96.36H209.53M227.68 100.91H228.08" stroke="#F8766D" stroke-width="1.25" stroke-linecap="round"/>
<path d="M162.06 96.06H162.46" stroke="#00BA38" stroke-width="1.25" stroke-linecap="round"/>
<path d="M219.07 99.6H219.47" stroke="#F8766D" stroke-width="1.25" stroke-linecap="round"/>
<path d="M177.29 97.89H177.69M191.53 92.22H191.93" stroke="#00BA38" stroke-width="1.25" stroke-linecap="round"/>
<path d="M160.88 94.46H161.28M208.29 96.45H208.69" stroke="#F8766D" stroke-width="1.25" stroke-linecap="round"/>
<path d="M235.24 93.34H235.64" stroke="#00BA38" stroke-width="1.25" stroke-linecap="round"/>
<path d="M214.42 95.55H214.82" stroke="#F8766D" stroke-width="1.25" stroke-linecap="round"/>
<path d="M235.89 95.77H236.29M209.79 95.18H210.19" stroke="#00BA38" stroke-width="1.25" stroke-linecap="round"/>
<path d="M242.34 99.99H242.74" stroke="#F8766D" stroke-width="1.25" stroke-linecap="round"/>
<path d="M245.89 98.38H246.29M173.54 99.55H173.94M248.7 92.8H249.1" stroke="#00BA38" stroke-width="1.25" stroke-linecap="round"/>
<path d="M202.14 96.92H202.54M186.51 99.91H186.91M193.61 95.41H194.01M226.8 94.86H227.2M231.73 97.24H232.13" stroke="#F8766D" stroke-width="1.25" stroke-linecap="round"/>
<path d="M236.52 91.04H236.92" stroke="#00BA38" stroke-width="1.25" stroke-linecap="round"/>
<path d="M169.87 99.56H170.27M239.16 98.1H239.56" stroke="#F8766D" stroke-width="1.25" stroke-linecap="round"/>
<path d="M165.7 96.97H166.1M221.19 100.63H221.59" stroke="#00BA38" stroke-width="1.25" stroke-linecap="round"/>
<path d="M236.98 99.71H237.38" stroke="#F8766D" stroke-width="1.25" stroke-linecap="round"/>
<path d="M250.86 98.39H251.26M179.08 95.16H179.48" stroke="#00BA38" stroke-width="1.25" stroke-linecap="round"/>
<path d="M221.2 88.08H221.6" stroke="#F8766D" stroke-width="1.25" stroke-linecap="round"/>
<path d="M249.3 91.36H249.7M246.8 99.83H247.2" stroke="#00BA38" stroke-width="1.25" stroke-linecap="round"/>
<path d="M172.42 99.41H172.82M183.84 92.41H184.24" stroke="#F8766D" stroke-width="1.25" stroke-linecap="round"/>
<path d="M197.01 95.68H197.41M173.08 93.89H173.48" stroke="#00BA38" stroke-width="1.25" stroke-linecap="round"/>
<path d="M186.96 84.94H187.36" stroke="#F8766D" stroke-width="1.25" stroke-linecap="round"/>
<path d="M253.12 88.12H253.52" stroke="#00BA38" stroke-width="1.25" stroke-linecap="round"/>
<path d="M183.77 97.85H184.17M215.52 81.73H215.92" stroke="#F8766D" stroke-width="1.25" stroke-linecap="round"/>
<path d="M194.67 100.5H195.07M172.82 91.12H173.22M165.94 96.35H166.34" stroke="#00BA38" stroke-width="1.25" stroke-linecap="round"/>
<path d="M212 100.53H212.4M164.3 93.03H164.7" stroke="#F8766D" stroke-width="1.25" stroke-linecap="round"/>
<path d="M217.49 92.22H217.89" stroke="#00BA38" stroke-width="1.25" stroke-linecap="round"/>
<path d="M188.38 96.82H188.78" stroke="#F8766D" stroke-width="1.25" stroke-linecap="round"/>
<path d="M195.74 94.09H196.14M238.8 98.31H239.2" stroke="#00BA38" stroke-width="1.25" stroke-linecap="round"/>
<path d="M200.24 98.68H200.64" stroke="#F8766D" stroke-width="1.25" stroke-linecap="round"/>
<path d="M189.75 97.5H190.15" stroke="#00BA38" stroke-width="1.25" stroke-linecap="round"/>
<path d="M176.47 99.85H176.87" stroke="#F8766D" stroke-width="1.25" stroke-linecap="round"/>
<path d="M200.23 91.33H200.63M243.61 94.51H244.01M200.66 92.83H201.06M212.05 88.17H212.45" stroke="#00BA38" stroke-width="1.25" stroke-linecap="round"/>
<path d="M238.2 93.76H238.6" stroke="#F8766D" stroke-width="1.25" stroke-linecap="round"/>
<path d="M217.68 99.44H218.08" stroke="#00BA38" stroke-width="1.25" stroke-linecap="round"/>
<path d="M160.42 94.07H160.82" stroke="#F8766D" stroke-width="1.25" stroke-linecap="round"/>
<path d="M196.09 94.87H196.49M214.27 93.44H214.67M233.12 99.95H233.52M245.79 100.48H246.19" stroke="#00BA38" stroke-width="1.25" stroke-linecap="round"/>
<path d="M227.19 90.2H227.59" stroke="#F8766D" stroke-width="1.25" stroke-linecap="round"/>
<path d="M168.78 92.91H169.18" stroke="#00BA38" stroke-width="1.25" stroke-linecap="round"/>
<path d="M207.82 92.3H208.22" stroke="#F8766D" stroke-width="1.25" stroke-linecap="round"/>
<path d="M184.85 97.49H185.25" stroke="#00BA38" stroke-width="1.25" stroke-linecap="round"/>
<path d="M240.77 94.61H241.17" stroke="#F8766D" stroke-width="1.25" stroke-linecap="round"/>
<path d="M161.1 95.01H161.5M165.05 98.99H165.45" stroke="#00BA38" stroke-width="1.25" stroke-linecap="round"/>
<path d="M253.77 97.56H254.17" stroke="#F8766D" stroke-width="1.25" stroke-linecap="round"/>
<path d="M225.3 95.21H225.7" stroke="#00BA38" stroke-width="1.25" stroke-linecap="round"/>
<path d="M197.41 96.58H197.81M226.78 97.79H227.18" stroke="#F8766D" stroke-width="1.25" stroke-linecap="round"/>
<path d="M206.46 91.7H206.86M161.36 99.61H161.76M231.21 96.95H231.61M170.52 100.39H170.92M182.35 95.6H182.75M163.27 94.18H163.67M251.64 93.98H252.04" stroke="#00BA38" stroke-width="1.25" stroke-linecap="round"/>
<path d="M242.3 99.01H242.7M181.62 95.04H182.02" stroke="#F8766D" stroke-width="1.25" stroke-linecap="round"/>
<path d="M200.17 99.52H200.57M205.5 97.34H205.9" stroke="#00BA38" stroke-width="1.25" stroke-linecap="round"/>
<path d="M193.89 92.17H194.29" stroke="#F8766D" stroke-width="1.25" stroke-linecap="round"/>
<path d="M224.35 86.31H224.75" stroke="#00BA38" stroke-width="1.25" stroke-linecap="round"/>
<path d="M193.26 100.3H193.66" stroke="#F8766D" stroke-width="1.25" stroke-linecap="round"/>
<path d="M252.46 88.79H252.86M189.64 97.7H190.04" stroke="#00BA38" stroke-width="1.25" stroke-linecap="round"/>
<path d="M161.12 97.87H161.52" stroke="#F8766D" stroke-width="1.25" stroke-linecap="round"/>
<path d="M165.07 100.17H165.47" stroke="#00BA38" stroke-width="1.25" stroke-linecap="round"/>
<path d="M163.87 93.3H164.27M161.52 99.88H161.92M247.84 95.02H248.24" stroke="#F8766D" stroke-width="1.25" stroke-linecap="round"/>
<path d="M163.96 100.38H164.36" stroke="#00BA38" stroke-width="1.25" stroke-linecap="round"/>
<path d="M193.08 96.19H193.48" stroke="#F8766D" stroke-width="1.25" stroke-linecap="round"/>
<path d="M252.18 97.57H252.58M233.4 92.26H233.8" stroke="#00BA38" stroke-width="1.25" stroke-linecap="round"/>
<path d="M166.34 96.67H166.74" stroke="#F8766D" stroke-width="1.25" stroke-linecap="round"/>
<path d="M214.37 98.29H214.77M250.03 97.4H250.43M173.2 94.6H173.6" stroke="#00BA38" stroke-width="1.25" stroke-linecap="round"/>
<path d="M176.73 96.24H177.13" stroke="#F8766D" stroke-width="1.25" stroke-linecap="round"/>
<path d="M178.75 95.98H179.15" stroke="#00BA38" stroke-width="1.25" stroke-linecap="round"/>
<path d="M189.99 100.01H190.39" stroke="#F8766D" stroke-width="1.25" stroke-linecap="round"/>
<path d="M172.65 99.61H173.05M205.4 88.98H205.8" stroke="#00BA38" stroke-width="1.25" stroke-linecap="round"/>
<path d="M202.53 94.66H202.93M224.49 93.76H224.89M220.68 90.61H221.08M224.53 97.92H224.93M217.45 97.81H217.85M232.78 99.8H233.18M180.74 97.75H181.14M239.96 99.65H240.36M218.27 97.77H218.67" stroke="#F8766D" stroke-width="1.25" stroke-linecap="round"/>
<path d="M250.46 97.21H250.86" stroke="#00BA38" stroke-width="1.25" stroke-linecap="round"/>
<path d="M219.15 99.81H219.55M185.16 99.39H185.56M240.01 92.18H240.41" stroke="#F8766D" stroke-width="1.25" stroke-linecap="round"/>
<path d="M173.86 95.87H174.26M189.54 96.94H189.94M160.42 91.03H160.82M199.09 97.24H199.49M209.01 99.08H209.41" stroke="#00BA38" stroke-width="1.25" stroke-linecap="round"/>
<path d="M174.89 93.76H175.29" stroke="#F8766D" stroke-width="1.25" stroke-linecap="round"/>
<path d="M172.77 96.69H173.17" stroke="#00BA38" stroke-width="1.25" stroke-linecap="round"/>
<path d="M239.2 96.1H239.6" stroke="#F8766D" stroke-width="1.25" stroke-linecap="round"/>
<path d="M239.19 88.17H239.59M205.51 82.31H205.91" stroke="#00BA38" stroke-width="1.25" stroke-linecap="round"/>
<path d="M184.5 93.91H184.9M252.81 96.56H253.21M217.16 99.71H217.56" stroke="#F8766D" stroke-width="1.25" stroke-linecap="round"/>
<path d="M183.58 97.73H183.98" stroke="#00BA38" stroke-width="1.25" stroke-linecap="round"/>
<path d="M221.97 97.66H222.37" stroke="#F8766D" stroke-width="1.25" stroke-linecap="round"/>
<path d="M226.62 97.62H227.02M250.2 87.81H250.6M179.11 96.99H179.51M183.18 87.65H183.58M174.51 97.33H174.91M211.44 96.45H211.84" stroke="#00BA38" stroke-width="1.25" stroke-linecap="round"/>
<path d="M233.83 95.37H234.23" stroke="#F8766D" stroke-width="1.25" stroke-linecap="round"/>
<path d="M197.96 99.23H198.36" stroke="#00BA38" stroke-width="1.25" stroke-linecap="round"/>
<path d="M178.43 92.52H178.83M216.37 97.04H216.77" stroke="#F8766D" stroke-width="1.25" stroke-linecap="round"/>
<path d="M168.87 98.87H169.27" stroke="#00BA38" stroke-width="1.25" stroke-linecap="round"/>
<path d="M235.13 92.55H235.53" stroke="#F8766D" stroke-width="1.25" stroke-linecap="round"/>
<path d="M181.5 98.99H181.9M203.99 94.88H204.39" stroke="#00BA38" stroke-width="1.25" stroke-linecap="round"/>
<path d="M235.02 90.45H235.42" stroke="#F8766D" stroke-width="1.25" stroke-linecap="round"/>
<path d="M168.47 99.21H168.87M244.35 89.67H244.75" stroke="#00BA38" stroke-width="1.25" stroke-linecap="round"/>
<path d="M170.68 100.17H171.08" stroke="#F8766D" stroke-width="1.25" stroke-linecap="round"/>
<path d="M225.2 98.98H225.6M184.56 93.66H184.96M189.04 96.91H189.44M217.92 99.45H218.32" stroke="#00BA38" stroke-width="1.25" stroke-linecap="round"/>
<path d="M213.46 99.96H213.86" stroke="#F8766D" stroke-width="1.25" stroke-linecap="round"/>
<path d="M249.42 91.45H249.82M245.34 100.54H245.74M203.77 96.13H204.17" stroke="#00BA38" stroke-width="1.25" stroke-linecap="round"/>
<path d="M250.47 99.45H250.87" stroke="#F8766D" stroke-width="1.25" stroke-linecap="round"/>
<path d="M212.64 93.93H213.04M187.93 95.85H188.33" stroke="#00BA38" stroke-width="1.25" stroke-linecap="round"/>
<path d="M165.87 100.17H166.27" stroke="#F8766D" stroke-width="1.25" stroke-linecap="round"/>
<path d="M209.28 100.64H209.68M211.37 95.64H211.77" stroke="#00BA38" stroke-width="1.25" stroke-linecap="round"/>
<path d="M196.67 100.01H197.07" stroke="#F8766D" stroke-width="1.25" stroke-linecap="round"/>
<path d="M204.31 99.57H204.71" stroke="#00BA38" stroke-width="1.25" stroke-linecap="round"/>
<path d="M181.07 97.32H181.47" stroke="#F8766D" stroke-width="1.25" stroke-linecap="round"/>
<path d="M211.64 97.99H212.04" stroke="#00BA38" stroke-width="1.25" stroke-linecap="round"/>
<path d="M233.04 92.32H233.44M252.72 99.16H253.12" stroke="#F8766D" stroke-width="1.25" stroke-linecap="round"/>
<path d="M209.27 97.86H209.67" stroke="#00BA38" stroke-width="1.25" stroke-linecap="round"/>
<path d="M232.06 98.07H232.46" stroke="#F8766D" stroke-width="1.25" stroke-linecap="round"/>
<path d="M174.72 89.18H175.12" stroke="#00BA38" stroke-width="1.25" stroke-linecap="round"/>
<path d="M254.07 96.53H254.47" stroke="#F8766D" stroke-width="1.25" stroke-linecap="round"/>
<path d="M200.42 98.36H200.82" stroke="#00BA38" stroke-width="1.25" stroke-linecap="round"/>
<path d="M183.12 95.75H183.52M208.84 96.87H209.24M238.45 97.35H238.85" stroke="#F8766D" stroke-width="1.25" stroke-linecap="round"/>
<path d="M242.17 99.77H242.57" stroke="#00BA38" stroke-width="1.25" stroke-linecap="round"/>
<path d="M241.88 97.87H242.28M176.37 80.74H176.77M204.05 94.39H204.45M183.07 92.81H183.47M188.12 100.26H188.52M193.47 90.28H193.87" stroke="#F8766D" stroke-width="1.25" stroke-linecap="round"/>
<path d="M196.89 94.79H197.29" stroke="#00BA38" stroke-width="1.25" stroke-linecap="round"/>
<path d="M166.18 97.68H166.58" stroke="#F8766D" stroke-width="1.25" stroke-linecap="round"/>
<path d="M234.18 97.78H234.58M253.84 99.43H254.24M183.3 98.48H183.7" stroke="#00BA38" stroke-width="1.25" stroke-linecap="round"/>
<path d="M239.43 98.27H239.83" stroke="#F8766D" stroke-width="1.25" stroke-linecap="round"/>
<path d="M186.63 98.46H187.03" stroke="#00BA38" stroke-width="1.25" stroke-linecap="round"/>
<path d="M221.38 96.08H221.78M212.39 93.03H212.79" stroke="#F8766D" stroke-width="1.25" stroke-linecap="round"/>
<path d="M240.28 99.04H240.68M194.13 95.75H194.53" stroke="#00BA38" stroke-width="1.25" stroke-linecap="round"/>
<path d="M164.41 99.34H164.81M234.28 98.15H234.68" stroke="#F8766D" stroke-width="1.25" stroke-linecap="round"/>
<path d="M185.48 99.94H185.88M219.09 89.43H219.49M226.91 90.69H227.31" stroke="#00BA38" stroke-width="1.25" stroke-linecap="round"/>
<path d="M174.9 98.57H175.3M176.61 95.63H177.01M196.13 93.94H196.53" stroke="#F8766D" stroke-width="1.25" stroke-linecap="round"/>
<path d="M169.79 100.82H170.19" stroke="#00BA38" stroke-width="1.25" stroke-linecap="round"/>
<path d="M174.59 98.27H174.99" stroke="#F8766D" stroke-width="1.25" stroke-linecap="round"/>
<path d="M164.2 96.32H164.6M202.96 98.69H203.36" stroke="#00BA38" stroke-width="1.25" stroke-linecap="round"/>
<path d="M231.41 94.08H231.81" stroke="#F8766D" stroke-width="1.25" stroke-linecap="round"/>
<path d="M252.58 100.13H252.98" stroke="#00BA38" stroke-width="1.25" stroke-linecap="round"/>
<path d="M220.27 95.72H220.67" stroke="#F8766D" stroke-width="1.25" stroke-linecap="round"/>
<path d="M204.99 93.47H205.39M240.06 90.54H240.46" stroke="#00BA38" stroke-width="1.25" stroke-linecap="round"/>
<path d="M253.04 100.85H253.44" stroke="#F8766D" stroke-width="1.25" stroke-linecap="round"/>
<path d="M217.28 89.79H217.68M243.42 88.71H243.82M252.28 98.29H252.68M163.19 94.54H163.59M246.17 92.94H246.57M160.83 99.71H161.23M228.53 90.35H228.93M252.48 95.51H252.88M238.76 96.16H239.16M189.26 100.83H189.66M180.88 98.28H181.28M209.27 100.25H209.67M160.83 94.46H161.23M203.58 100.06H203.98M206.99 99.47H207.39M231.37 100.31H231.77M242.95 92.29H243.35M207.94 95.59H208.34M189.47 96.52H189.87M243.07 96.02H243.47M195.7 88.03H196.1M184.1 97.1H184.5M194.03 100.19H194.43M176.64 92.44H177.04M217.62 87.26H218.02M239.8 89.59H240.2M229.86 99.65H230.26M203.67 98.72H204.07M181.22 92.9H181.62M208.89 95H209.29M163.85 96.4H164.25M254.09 94.52H254.49M237.58 95.91H237.98M162.36 100.42H162.76M223.24 92.85H223.64M217.74 100.01H218.14M248.2 100.59H248.6M207.21 99.33H207.61M180.41 94.81H180.81M165.58 100.63H165.98M229.07 85.22H229.47M179.44 87.42H179.84M216.88 100.15H217.28M190.53 97.07H190.93M204.13 94.41H204.53M197.52 92.41H197.92M183.5 90.5H183.9M198.22 93.05H198.62M240.35 97.65H240.75M164.59 94.48H164.99M202.94 99.6H203.34M162.34 95.6H162.74M217.92 94.03H218.32M215.88 98.34H216.28M244.76 94.6H245.16M204.71 87.92H205.11M195.12 95.38H195.52M250.82 97.42H251.22M160.72 97.18H161.12M187.79 92.14H188.19M243.99 91.38H244.39M196.12 98.04H196.52M174.56 96.73H174.96M167.08 99H167.48M242.83 96.47H243.23M179.99 99.79H180.39M167.17 93.7H167.57M208.69 96.64H209.09M223.05 100.77H223.45M230.91 98.82H231.31M208.85 95.12H209.25M212.16 97.82H212.56M200.05 98.08H200.45M173.79 99.04H174.19M165.73 96.86H166.13M214.52 87.01H214.92M252.28 95.91H252.68M168.32 100.75H168.72M187.71 100.15H188.11M205.37 100.47H205.77M165.21 99.7H165.61M206.7 87.96H207.1M213 91.65H213.4M173.26 97.62H173.66M195.51 97.05H195.91M240.24 92.57H240.64M202.28 98.8H202.68M195.24 90.46H195.64M185.1 99.9H185.5M253.89 94.16H254.29M253.72 97.78H254.12M171.31 98.56H171.71M203.55 93.11H203.95M220.89 94.45H221.29M230.54 96.76H230.94M251.34 98.95H251.74M164.59 100.44H164.99M186.01 99.4H186.41M161.3 97.32H161.7M210.68 94.33H211.08M204.32 99.04H204.72M243.71 100.28H244.11M193.07 90.64H193.47M238.26 86.02H238.66M175.99 98.6H176.39M168.94 96.06H169.34M206.34 93.97H206.74M222.97 99.49H223.37M199.92 98.77H200.32M235.86 95.96H236.26M217.08 98.7H217.48M160.56 88.92H160.96M176.72 98.36H177.12M166.4 100.02H166.8M248.9 94.12H249.3M245.46 97.33H245.86M184.82 83.5H185.22M192.43 99.67H192.83M222.84 93.16H223.24M237.61 98.27H238.01M233.26 93.59H233.66M221.61 99.1H222.01M236.22 96.06H236.62M170.63 89.83H171.03M166.13 96.03H166.53M201.32 91.15H201.72M217.73 80.58H218.13M199.41 98.28H199.81M186.77 99.49H187.17M212.37 96.64H212.77M235.38 96.47H235.78M202.09 89.39H202.49M193.85 97.04H194.25M200.93 88.38H201.33M175.71 95.01H176.11M217.63 96.45H218.03M195.51 91.82H195.91M161.43 95.58H161.83M216.28 93.63H216.68M170.84 96.32H171.24M221.64 95.74H222.04M176.24 94.63H176.64M229.16 93.61H229.56M252.01 96.86H252.41M225.56 94.12H225.96M191.37 86.25H191.77M236.2 98.1H236.6M228.78 100.38H229.18M166.88 97.73H167.28M180.05 96.14H180.45M228.45 96.95H228.85M188.13 97.54H188.53M194.58 98.72H194.98M163.64 94.73H164.04M163.98 87.24H164.38M207.8 99.58H208.2M162.43 87.52H162.83M203.94 98.16H204.34M241.43 94.34H241.83M204 100.37H204.4M165.64 98.91H166.04M177.11 94.42H177.51M162.64 93.9H163.04M221.43 95.22H221.83M214.15 98.9H214.55M203.41 95.85H203.81M222.79 97.27H223.19M222.08 92.01H222.48M224.35 100.6H224.75M172 91.96H172.4M203.28 93.83H203.68M189.6 98.11H190M225.93 97.55H226.33M244.8 95.66H245.2M223.27 93.52H223.67M162.66 92.02H163.06M241.71 99.5H242.11M191.21 98.32H191.61M167.92 96.98H168.32M198.76 97.29H199.16M185.7 97.61H186.1M218.6 88.96H219M188.26 92.59H188.66M229.79 94.99H230.19M237.04 97.99H237.44M249.49 93.86H249.89M218.46 90.08H218.86M177.02 95.47H177.42M169.92 97.81H170.32M185.46 96.39H185.86M210.37 93.46H210.77M216.44 97.52H216.84M243.13 96.41H243.53M167.56 91.35H167.96M164.29 96.63H164.69M190.21 96.53H190.61M213.36 95.63H213.76M254.91 98.05H255.31M245.14 95.73H245.54M226.28 100.17H226.68M162.18 87.91H162.58M190.02 92.65H190.42M212.88 98.31H213.28M241.72 97.49H242.12M170.43 100.59H170.83M214.19 97.74H214.59M228.91 99.58H229.31M208.49 100.49H208.89M226.38 95.86H226.78M170.57 90.78H170.97M187.39 97.02H187.79" stroke="#00BA38" stroke-width="1.25" stroke-linecap="round"/>
<path d="M187.21 96.34H187.61M216.13 96.85H216.53" stroke="#619CFF" stroke-width="1.25" stroke-linecap="round"/>
<path d="M211.79 93.99H212.19" stroke="#00BA38" stroke-width="1.25" stroke-linecap="round"/>
<path d="M180.29 96.58H180.69" stroke="#619CFF" stroke-width="1.25" stroke-linecap="round"/>
<path d="M249.35 94.59H249.75M232.66 95.74H233.06" stroke="#00BA38" stroke-width="1.25" stroke-linecap="round"/>
<path d="M201.02 96.51H201.42M226.05 95.13H226.45M198.67 98.16H199.07" stroke="#619CFF" stroke-width="1.25" stroke-linecap="round"/>
<path d="M193.16 99.15H193.56" stroke="#00BA38" stroke-width="1.25" stroke-linecap="round"/>
<path d="M186.15 89.34H186.55" stroke="#619CFF" stroke-width="1.25" stroke-linecap="round"/>
<path d="M209.38 87.28H209.78" stroke="#00BA38" stroke-width="1.25" stroke-linecap="round"/>
<path d="M194.89 90.71H195.29" stroke="#619CFF" stroke-width="1.25" stroke-linecap="round"/>
<path d="M161.61 92.68H162.01M161.66 93.03H162.06" stroke="#00BA38" stroke-width="1.25" stroke-linecap="round"/>
<path d="M172.79 95.46H173.19" stroke="#619CFF" stroke-width="1.25" stroke-linecap="round"/>
<path d="M180.19 97.71H180.59" stroke="#00BA38" stroke-width="1.25" stroke-linecap="round"/>
<path d="M217.74 95.82H218.14" stroke="#619CFF" stroke-width="1.25" stroke-linecap="round"/>
<path d="M231.26 82.28H231.66M172.37 92.57H172.77M206.2 91.73H206.6" stroke="#00BA38" stroke-width="1.25" stroke-linecap="round"/>
<path d="M216.5 100.24H216.9M222.09 96.28H222.49M161.74 94.25H162.14M204.02 95.21H204.42" stroke="#619CFF" stroke-width="1.25" stroke-linecap="round"/>
<path d="M189.39 99.79H189.79M185.53 100.4H185.93" stroke="#00BA38" stroke-width="1.25" stroke-linecap="round"/>
<path d="M239.88 94.52H240.28M232.13 96.96H232.53" stroke="#619CFF" stroke-width="1.25" stroke-linecap="round"/>
<path d="M244.43 98.37H244.83" stroke="#00BA38" stroke-width="1.25" stroke-linecap="round"/>
<path d="M209.6 97.56H210" stroke="#619CFF" stroke-width="1.25" stroke-linecap="round"/>
<path d="M214.88 98.26H215.28M183.98 95.51H184.38" stroke="#00BA38" stroke-width="1.25" stroke-linecap="round"/>
<path d="M245.99 96.96H246.39M215.91 100.53H216.31M222.83 98.06H223.23" stroke="#619CFF" stroke-width="1.25" stroke-linecap="round"/>
<path d="M238.59 86.11H238.99" stroke="#00BA38" stroke-width="1.25" stroke-linecap="round"/>
<path d="M244.78 96.5H245.18" stroke="#619CFF" stroke-width="1.25" stroke-linecap="round"/>
<path d="M251.61 89.8H252.01" stroke="#00BA38" stroke-width="1.25" stroke-linecap="round"/>
<path d="M235.91 91.39H236.31M182.91 96.98H183.31" stroke="#619CFF" stroke-width="1.25" stroke-linecap="round"/>
<path d="M246.46 92.69H246.86M228.54 93.98H228.94" stroke="#00BA38" stroke-width="1.25" stroke-linecap="round"/>
<path d="M164.53 94.86H164.93" stroke="#619CFF" stroke-width="1.25" stroke-linecap="round"/>
<path d="M249.92 95.39H250.32" stroke="#00BA38" stroke-width="1.25" stroke-linecap="round"/>
<path d="M186.69 96.88H187.09" stroke="#619CFF" stroke-width="1.25" stroke-linecap="round"/>
<path d="M242.35 94.57H242.75M214.03 98.42H214.43M173.51 98.76H173.91" stroke="#00BA38" stroke-width="1.25" stroke-linecap="round"/>
<path d="M244.32 90.5H244.72M250.43 96.39H250.83M201.93 93.23H202.33" stroke="#619CFF" stroke-width="1.25" stroke-linecap="round"/>
<path d="M243.34 99.95H243.74" stroke="#00BA38" stroke-width="1.25" stroke-linecap="round"/>
<path d="M214.37 94.46H214.77M199.07 96.93H199.47M171.45 95.97H171.85" stroke="#619CFF" stroke-width="1.25" stroke-linecap="round"/>
<path d="M238.12 91.56H238.52" stroke="#00BA38" stroke-width="1.25" stroke-linecap="round"/>
<path d="M169.1 99.68H169.5M219.01 97.99H219.41M245.85 93.74H246.25M167.45 100.06H167.85M254.49 97.51H254.89M205.36 94.85H205.76M238.31 97.84H238.71M237.24 93.43H237.64M161.39 90.84H161.79" stroke="#619CFF" stroke-width="1.25" stroke-linecap="round"/>
<path d="M169.37 95.14H169.77" stroke="#00BA38" stroke-width="1.25" stroke-linecap="round"/>
<path d="M206.8 95.67H207.2" stroke="#619CFF" stroke-width="1.25" stroke-linecap="round"/>
<path d="M191.98 94.54H192.38" stroke="#00BA38" stroke-width="1.25" stroke-linecap="round"/>
<path d="M163.83 99.26H164.23M162.4 97.44H162.8" stroke="#619CFF" stroke-width="1.25" stroke-linecap="round"/>
<path d="M192.65 96.97H193.05M247.61 98.67H248.01M197.06 95.6H197.46" stroke="#00BA38" stroke-width="1.25" stroke-linecap="round"/>
<path d="M203.48 93.83H203.88" stroke="#619CFF" stroke-width="1.25" stroke-linecap="round"/>
<path d="M241.05 91.25H241.45" stroke="#00BA38" stroke-width="1.25" stroke-linecap="round"/>
<path d="M163.51 96.21H163.91" stroke="#619CFF" stroke-width="1.25" stroke-linecap="round"/>
<path d="M235.96 91.09H236.36" stroke="#00BA38" stroke-width="1.25" stroke-linecap="round"/>
<path d="M220.9 95.82H221.3" stroke="#619CFF" stroke-width="1.25" stroke-linecap="round"/>
<path d="M172.66 99.99H173.06" stroke="#00BA38" stroke-width="1.25" stroke-linecap="round"/>
<path d="M250.01 92.94H250.41" stroke="#619CFF" stroke-width="1.25" stroke-linecap="round"/>
<path d="M242.48 96.19H242.88M253.76 91.27H254.16" stroke="#00BA38" stroke-width="1.25" stroke-linecap="round"/>
<path d="M177.26 92.74H177.66" stroke="#619CFF" stroke-width="1.25" stroke-linecap="round"/>
<path d="M231 98.54H231.4M178.59 92.2H178.99" stroke="#00BA38" stroke-width="1.25" stroke-linecap="round"/>
<path d="M254.71 97.24H255.11M199.26 97.56H199.66" stroke="#619CFF" stroke-width="1.25" stroke-linecap="round"/>
<path d="M193.4 89.11H193.8M210.59 100.05H210.99M185.5 95.03H185.9" stroke="#00BA38" stroke-width="1.25" stroke-linecap="round"/>
<path d="M237.75 96.24H238.15M251.14 88.33H251.54M209.11 88.08H209.51M218.43 98.63H218.83M174.76 90.31H175.16M199.58 94.15H199.98M187.34 96.85H187.74" stroke="#619CFF" stroke-width="1.25" stroke-linecap="round"/>
<path d="M174.18 95.74H174.58M249.92 100.11H250.32M161.87 96.97H162.27" stroke="#00BA38" stroke-width="1.25" stroke-linecap="round"/>
<path d="M168.53 92.49H168.93" stroke="#619CFF" stroke-width="1.25" stroke-linecap="round"/>
<path d="M183.42 94.31H183.82M181.7 99.86H182.1" stroke="#00BA38" stroke-width="1.25" stroke-linecap="round"/>
<path d="M163.11 96.43H163.51" stroke="#619CFF" stroke-width="1.25" stroke-linecap="round"/>
<path d="M210.28 95.06H210.68" stroke="#00BA38" stroke-width="1.25" stroke-linecap="round"/>
<path d="M225.14 87.59H225.54M200.04 95.24H200.44M221.77 99.35H222.17" stroke="#619CFF" stroke-width="1.25" stroke-linecap="round"/>
<path d="M251.27 94.61H251.67M173.82 85.21H174.22" stroke="#00BA38" stroke-width="1.25" stroke-linecap="round"/>
<path d="M189.63 95.55H190.03" stroke="#619CFF" stroke-width="1.25" stroke-linecap="round"/>
<path d="M216.97 94.38H217.37" stroke="#00BA38" stroke-width="1.25" stroke-linecap="round"/>
<path d="M209.88 100.47H210.28M178.56 90.46H178.96M225.65 87.47H226.05" stroke="#619CFF" stroke-width="1.25" stroke-linecap="round"/>
<path d="M167.38 94.41H167.78M220.46 96.55H220.86M202.49 91.84H202.89M189.28 99.17H189.68M230.61 96.35H231.01M165.67 96.54H166.07M175.42 96.3H175.82" stroke="#00BA38" stroke-width="1.25" stroke-linecap="round"/>
<path d="M216.33 95.56H216.73" stroke="#619CFF" stroke-width="1.25" stroke-linecap="round"/>
<path d="M221.18 88.67H221.58M191.62 91.32H192.02M225.26 99.79H225.66" stroke="#00BA38" stroke-width="1.25" stroke-linecap="round"/>
<path d="M199 86.73H199.4" stroke="#619CFF" stroke-width="1.25" stroke-linecap="round"/>
<path d="M189.61 94.23H190.01M227.48 97.52H227.88M161.37 96.33H161.77" stroke="#00BA38" stroke-width="1.25" stroke-linecap="round"/>
<path d="M209.01 95.11H209.41M249.09 97.29H249.49" stroke="#619CFF" stroke-width="1.25" stroke-linecap="round"/>
<path d="M184.1 94.41H184.5M185.15 94.25H185.55M192.16 99.28H192.56" stroke="#00BA38" stroke-width="1.25" stroke-linecap="round"/>
<path d="M214.99 99.11H215.39M219.95 97.76H220.35" stroke="#619CFF" stroke-width="1.25" stroke-linecap="round"/>
<path d="M165.23 91.92H165.63M208.66 93.67H209.06" stroke="#00BA38" stroke-width="1.25" stroke-linecap="round"/>
<path d="M243.58 100.33H243.98" stroke="#619CFF" stroke-width="1.25" stroke-linecap="round"/>
<path d="M209.02 91.9H209.42M243.95 97.31H244.35M195.32 100.16H195.72" stroke="#00BA38" stroke-width="1.25" stroke-linecap="round"/>
<path d="M241.48 97.71H241.88" stroke="#619CFF" stroke-width="1.25" stroke-linecap="round"/>
<path d="M251.42 98.62H251.82" stroke="#00BA38" stroke-width="1.25" stroke-linecap="round"/>
<path d="M213.78 94.86H214.18" stroke="#619CFF" stroke-width="1.25" stroke-linecap="round"/>
<path d="M205.72 94.98H206.12M220.94 95.13H221.34M250.1 89.42H250.5M195.69 99.05H196.09M204.79 98.85H205.19M160.82 99.57H161.22" stroke="#00BA38" stroke-width="1.25" stroke-linecap="round"/>
<path d="M198.77 97.73H199.17" stroke="#619CFF" stroke-width="1.25" stroke-linecap="round"/>
<path d="M168.85 98.8H169.25M216.84 96.64H217.24M246.36 93.05H246.76" stroke="#00BA38" stroke-width="1.25" stroke-linecap="round"/>
<path d="M253.3 97H253.7M170.01 98.83H170.41" stroke="#619CFF" stroke-width="1.25" stroke-linecap="round"/>
<path d="M218.67 97.99H219.07M202.91 96.39H203.31M195.8 92.82H196.2" stroke="#00BA38" stroke-width="1.25" stroke-linecap="round"/>
<path d="M191.24 96.09H191.64M216.26 95.55H216.66M209.44 93.75H209.84M205.26 93.34H205.66" stroke="#619CFF" stroke-width="1.25" stroke-linecap="round"/>
<path d="M171.02 92.77H171.42M193.1 100.04H193.5" stroke="#00BA38" stroke-width="1.25" stroke-linecap="round"/>
<path d="M179.6 98.95H180" stroke="#619CFF" stroke-width="1.25" stroke-linecap="round"/>
<path d="M233.04 92.57H233.44" stroke="#00BA38" stroke-width="1.25" stroke-linecap="round"/>
<path d="M166.17 98.13H166.57" stroke="#619CFF" stroke-width="1.25" stroke-linecap="round"/>
<path d="M188.74 92.59H189.14" stroke="#00BA38" stroke-width="1.25" stroke-linecap="round"/>
<path d="M188.1 93.63H188.5" stroke="#619CFF" stroke-width="1.25" stroke-linecap="round"/>
<path d="M192.23 99.36H192.63" stroke="#00BA38" stroke-width="1.25" stroke-linecap="round"/>
<path d="M254.94 98.24H255.34" stroke="#619CFF" stroke-width="1.25" stroke-linecap="round"/>
<path d="M221.05 92.65H221.45M195.55 91.15H195.95M197.44 90.2H197.84" stroke="#00BA38" stroke-width="1.25" stroke-linecap="round"/>
<path d="M170.05 94.71H170.45" stroke="#619CFF" stroke-width="1.25" stroke-linecap="round"/>
<path d="M239.96 99.23H240.36M193.29 100.68H193.69M177.25 95.36H177.65" stroke="#00BA38" stroke-width="1.25" stroke-linecap="round"/>
<path d="M231.85 89.27H232.25M175.68 93.85H176.08M181.79 97.93H182.19M245.13 92.81H245.53" stroke="#619CFF" stroke-width="1.25" stroke-linecap="round"/>
<path d="M191.7 93.47H192.1M178.92 93.84H179.32M164.46 99.53H164.86" stroke="#00BA38" stroke-width="1.25" stroke-linecap="round"/>
<path d="M223.93 98.4H224.33" stroke="#619CFF" stroke-width="1.25" stroke-linecap="round"/>
<path d="M217.05 96.2H217.45" stroke="#00BA38" stroke-width="1.25" stroke-linecap="round"/>
<path d="M161.13 99.34H161.53" stroke="#619CFF" stroke-width="1.25" stroke-linecap="round"/>
<path d="M244.79 99.54H245.19" stroke="#00BA38" stroke-width="1.25" stroke-linecap="round"/>
<path d="M243.03 97.71H243.43" stroke="#619CFF" stroke-width="1.25" stroke-linecap="round"/>
<path d="M248.38 99.92H248.78" stroke="#00BA38" stroke-width="1.25" stroke-linecap="round"/>
<path d="M180.64 93.13H181.04M236.75 100.25H237.15M192.38 98.85H192.78M224.08 97.79H224.48" stroke="#619CFF" stroke-width="1.25" stroke-linecap="round"/>
<path d="M173.92 96.27H174.32" stroke="#00BA38" stroke-width="1.25" stroke-linecap="round"/>
<path d="M230.35 90.75H230.75M247.01 98.68H247.41M216.44 99.09H216.84" stroke="#619CFF" stroke-width="1.25" stroke-linecap="round"/>
<path d="M207.96 93.94H208.36M219 97.72H219.4" stroke="#00BA38" stroke-width="1.25" stroke-linecap="round"/>
<path d="M221.81 92.34H222.21M235.55 97.46H235.95M172.05 96.2H172.45M176.76 100.76H177.16" stroke="#619CFF" stroke-width="1.25" stroke-linecap="round"/>
<path d="M187.66 95.47H188.06M199.82 88.14H200.22M240.91 99.99H241.31" stroke="#00BA38" stroke-width="1.25" stroke-linecap="round"/>
<path d="M223.85 99.27H224.25M188.01 96.35H188.41M182.3 96.97H182.7" stroke="#619CFF" stroke-width="1.25" stroke-linecap="round"/>
<path d="M161.9 92.68H162.3M194.71 94.73H195.11" stroke="#00BA38" stroke-width="1.25" stroke-linecap="round"/>
<path d="M176.9 94.22H177.3" stroke="#619CFF" stroke-width="1.25" stroke-linecap="round"/>
<path d="M179.94 84.67H180.34M229.98 88.2H230.38" stroke="#00BA38" stroke-width="1.25" stroke-linecap="round"/>
<path d="M239.03 98.77H239.43" stroke="#619CFF" stroke-width="1.25" stroke-linecap="round"/>
<path d="M247.48 94.55H247.88" stroke="#00BA38" stroke-width="1.25" stroke-linecap="round"/>
<path d="M239.53 98.29H239.93" stroke="#619CFF" stroke-width="1.25" stroke-linecap="round"/>
<path d="M180.7 95.15H181.1" stroke="#00BA38" stroke-width="1.25" stroke-linecap="round"/>
<path d="M177.4 94.26H177.8M231.74 99.88H232.14M216.88 99.95H217.28" stroke="#619CFF" stroke-width="1.25" stroke-linecap="round"/>
<path d="M187.94 97.76H188.34" stroke="#00BA38" stroke-width="1.25" stroke-linecap="round"/>
<path d="M203.34 95.41H203.74" stroke="#619CFF" stroke-width="1.25" stroke-linecap="round"/>
<path d="M163.94 99.05H164.34" stroke="#00BA38" stroke-width="1.25" stroke-linecap="round"/>
<path d="M188.96 92.33H189.36M225.49 98.55H225.89" stroke="#619CFF" stroke-width="1.25" stroke-linecap="round"/>
<path d="M199.47 88.56H199.87M192.15 93.92H192.55M192.57 98.83H192.97M211.54 95.9H211.94M220.62 100.86H221.02M253.74 97.34H254.14" stroke="#00BA38" stroke-width="1.25" stroke-linecap="round"/>
<path d="M169.53 98.53H169.93" stroke="#619CFF" stroke-width="1.25" stroke-linecap="round"/>
<path d="M193.28 97.79H193.68" stroke="#00BA38" stroke-width="1.25" stroke-linecap="round"/>
<path d="M179.08 90.02H179.48" stroke="#619CFF" stroke-width="1.25" stroke-linecap="round"/>
<path d="M246.29 98.81H246.69M204.59 96.56H204.99" stroke="#00BA38" stroke-width="1.25" stroke-linecap="round"/>
<path d="M241.64 96.44H242.04" stroke="#619CFF" stroke-width="1.25" stroke-linecap="round"/>
<path d="M181.68 99.34H182.08M161.61 99.95H162.01" stroke="#00BA38" stroke-width="1.25" stroke-linecap="round"/>
<path d="M168.62 88.76H169.02" stroke="#619CFF" stroke-width="1.25" stroke-linecap="round"/>
<path d="M176.7 100.7H177.1M232.52 97.34H232.92M180.36 95.79H180.76M237.84 95.42H238.24" stroke="#00BA38" stroke-width="1.25" stroke-linecap="round"/>
<path d="M193.33 93.01H193.73M230.98 90.95H231.38" stroke="#619CFF" stroke-width="1.25" stroke-linecap="round"/>
<path d="M252.61 97.66H253.01" stroke="#00BA38" stroke-width="1.25" stroke-linecap="round"/>
<path d="M200.23 97.54H200.63" stroke="#619CFF" stroke-width="1.25" stroke-linecap="round"/>
<path d="M244.45 80.24H244.85" stroke="#00BA38" stroke-width="1.25" stroke-linecap="round"/>
<path d="M234 100.5H234.4M215.05 96.35H215.45" stroke="#619CFF" stroke-width="1.25" stroke-linecap="round"/>
<path d="M237.74 100.91H238.14" stroke="#00BA38" stroke-width="1.25" stroke-linecap="round"/>
<path d="M235.81 92.45H236.21M170.93 92.91H171.33" stroke="#619CFF" stroke-width="1.25" stroke-linecap="round"/>
<path d="M227.78 93.27H228.18" stroke="#00BA38" stroke-width="1.25" stroke-linecap="round"/>
<path d="M176.37 100.39H176.77M204.52 95.35H204.92" stroke="#619CFF" stroke-width="1.25" stroke-linecap="round"/>
<path d="M192.65 92.14H193.05" stroke="#00BA38" stroke-width="1.25" stroke-linecap="round"/>
<path d="M163.54 89.71H163.94M198.74 99.93H199.14M205.54 93.28H205.94M235.06 96.57H235.46M171.12 96.94H171.52" stroke="#619CFF" stroke-width="1.25" stroke-linecap="round"/>
<path d="M165.83 95.89H166.23M223.08 100.03H223.48M222.12 99.91H222.52M169.67 92.96H170.07" stroke="#00BA38" stroke-width="1.25" stroke-linecap="round"/>
<path d="M232.08 98.67H232.48M167.2 93.52H167.6M233.76 100.29H234.16M236.08 93.45H236.48M183.65 94.01H184.05M211.12 95.51H211.52M221.76 100.19H222.16" stroke="#619CFF" stroke-width="1.25" stroke-linecap="round"/>
<path d="M243.48 98.97H243.88M222.43 88.76H222.83M182.71 98.34H183.11M236.89 91.92H237.29" stroke="#00BA38" stroke-width="1.25" stroke-linecap="round"/>
<path d="M233.74 92.41H234.14M208.76 96.43H209.16M217.22 94.88H217.62M205.61 95.3H206.01M179.12 98.56H179.52M165.16 85.6H165.56M212.34 89.34H212.74" stroke="#619CFF" stroke-width="1.25" stroke-linecap="round"/>
<path d="M177.1 98.75H177.5M170.87 96.62H171.27" stroke="#00BA38" stroke-width="1.25" stroke-linecap="round"/>
<path d="M197.24 95.01H197.64M225.04 100.37H225.44M204.99 98.68H205.39M253 94.68H253.4M221.87 92.36H222.27M232.35 95.92H232.75M243.15 93.36H243.55M163.38 91.88H163.78M162.17 99.57H162.57M200.57 99.82H200.97M219.97 99.1H220.37M187.96 99.49H188.36M162.86 97.18H163.26M190.75 99.85H191.15M248.3 96.4H248.7M214.07 99.27H214.47M254.81 94.54H255.21M245.97 100.27H246.37M219.33 94.86H219.73M218.08 99.22H218.48M198.76 95.64H199.16M219.23 95.94H219.63M199.77 98.06H200.17M207.82 100.91H208.22M207.71 96.04H208.11M228.28 98.08H228.68M209.17 91.32H209.57M205.25 97.23H205.65M161.32 88.37H161.72M195.84 89.5H196.24M245.37 84.25H245.77M234.32 88.77H234.72M205.28 93.69H205.68M169.09 95.09H169.49M251.07 96.92H251.47M255.05 99.22H255.45M175.33 95.53H175.73M208.48 100.52H208.88M240.2 99.8H240.6M216.91 99.14H217.31M190.51 97.85H190.91M230.32 88.49H230.72M254.31 98.25H254.71M202.23 98.98H202.63M186.45 97.2H186.85M178.93 94.53H179.33M191.37 95.88H191.77M248.31 95.22H248.71M163.45 95.89H163.85M193.43 98.55H193.83M163.67 99.79H164.07M192.46 97.36H192.86M242.82 100.16H243.22M239.33 98.41H239.73M233.3 98.14H233.7M242.16 93.16H242.56M177.45 98.32H177.85M176.37 92.07H176.77M160.74 94.48H161.14M216.27 99.76H216.67M178.16 88.53H178.56M193.03 94.51H193.43M213.77 99.37H214.17M170.51 97.16H170.91M165.93 98.97H166.33M252.39 93.82H252.79M216.39 94.15H216.79M220.84 99.05H221.24M172.04 100.22H172.44M162.89 95.72H163.29M183.93 100.24H184.33M183.19 94.4H183.59M182.47 90.11H182.87M172.26 97.9H172.66M201.32 92.7H201.72M250.24 100.54H250.64M160.33 93.35H160.73M163.56 99.34H163.96M220.77 100.75H221.17M238.76 96.61H239.16M161.88 96.9H162.28M217.64 99.49H218.04M243.7 96.12H244.1M174.08 98.54H174.48M181.9 91.02H182.3M247.83 96.01H248.23M233.58 95.26H233.98M228.59 92.57H228.99M248.47 94.34H248.87M210.53 90.87H210.93M246.5 98.38H246.9M194.29 93.71H194.69M249.94 96.01H250.34M240.64 99.91H241.04M171.44 93.71H171.84M189.74 95.39H190.14M217.6 99.17H218M203.46 100.78H203.86M246.39 88.57H246.79M246.96 99.69H247.36M233.17 96.29H233.57M201.11 98.36H201.51M196.87 94.75H197.27M223.48 80.14H223.88M198.09 93.91H198.49M192.19 97.9H192.59M216.83 92.91H217.23M240.6 95.77H241M247.98 94.61H248.38M235.2 99.04H235.6M166.33 100.7H166.73M194.54 91.4H194.94M230.62 100.48H231.02M223.3 93.51H223.7M223.77 99.9H224.17M233.86 88.67H234.26M178.53 91.3H178.93M211.45 99.36H211.85M190.42 95.14H190.82M234 94.82H234.4M193.61 91.78H194.01M165.67 100.17H166.07M215.53 92.6H215.93M235.65 89.55H236.05M247.09 90.59H247.49M178.21 99.59H178.61M231.86 92.93H232.26M173.61 100.21H174.01M240.07 98.29H240.47M198.14 94.12H198.54M202.25 92.34H202.65M185.64 97.97H186.04M231.57 98.91H231.97M176.84 94.96H177.24M230.97 95.9H231.37M220.77 90.95H221.17M248.94 93.98H249.34M247.54 92.31H247.94M250.16 98.91H250.56M223 88.88H223.4M220.28 92.57H220.68M249.23 99.19H249.63M228.87 91.63H229.27M216.86 99.56H217.26M201.88 92.03H202.28M201.92 96.91H202.32M177.84 96.72H178.24M207.59 95.97H207.99M163.3 93.41H163.7M209.94 92.8H210.34M215.72 95.79H216.12M222.26 99.44H222.66M235.55 82.29H235.95M211.35 96.2H211.75M250.06 91.37H250.46M241.52 100.17H241.92M176.81 94.96H177.21M242.31 93.35H242.71M210.95 93.33H211.35M226.64 91.92H227.04M164.94 95.5H165.34M213.95 96.3H214.35M246.46 96.27H246.86M198.1 96.8H198.5M185.5 97.8H185.9M233.26 95.39H233.66M185.57 93.88H185.97M249.58 98.38H249.98M226.38 92.72H226.78M204.99 92.12H205.39M243.6 95.14H244M189.92 93.94H190.32M240.88 95.4H241.28M212.88 98.94H213.28M240.57 93.13H240.97M172.4 99.98H172.8M249.33 90.42H249.73M202.69 99.79H203.09M206.44 97.24H206.84M236.3 94.15H236.7M211.98 95.79H212.38M249.22 88.82H249.62M174.19 91.68H174.59M163.72 85.31H164.12M189.49 95.82H189.89M194.73 97.98H195.13M163.22 96.1H163.62M199.46 93.45H199.86M188.84 95.12H189.24M196.3 95.04H196.7M239.73 86.23H240.13M170.55 96.15H170.95M170.37 93.64H170.77M229.12 97.05H229.52M249.43 81.8H249.83M179.32 89.24H179.72M173.54 98.11H173.94M189.65 98.8H190.05M244.22 92.64H244.62M164.54 97.12H164.94M165.72 99.54H166.12M211.51 99.73H211.91M196.07 97.46H196.47M202.55 97.8H202.95M186.74 98.59H187.14M171.66 94.12H172.06M198.03 98.64H198.43M189.2 99.52H189.6M190.95 95.01H191.35M224.2 94.98H224.6M175.83 94.59H176.23M188.38 93.24H188.78M188.56 94.16H188.96M170.47 98.34H170.87M168.14 93.53H168.54M254.56 90.34H254.96M230.42 94.67H230.82M251.81 91.68H252.21M188.25 98.34H188.65M187.74 90.76H188.14M245.69 100.43H246.09M202.4 92.68H202.8M217.79 99.81H218.19M195.59 100.87H195.99M211.98 90.72H212.38M244.29 94.03H244.69M214.8 99.46H215.2M170.67 96.9H171.07M181.79 98.94H182.19M177.61 98.07H178.01M193.8 100.29H194.2M241.88 88.1H242.28M183.78 96H184.18M231.89 78.47H232.29M187.48 95.1H187.88M220.03 95.81H220.43M187.19 93.18H187.59M197.19 93.88H197.59M214.62 78.99H215.02M228.41 98.12H228.81M203.11 97.9H203.51M223.34 92.97H223.74M182.6 96.43H183M207.86 97.9H208.26M180.19 99.66H180.59M220.63 91.49H221.03M200.33 99.05H200.73M253.21 98.31H253.61M196 97.43H196.4M224.5 93.15H224.9M215.95 94.35H216.35M185.75 98.6H186.15M221.18 92.46H221.58M211.93 87.54H212.33M241.16 89.03H241.56M187.39 100.26H187.79M227.53 95.61H227.93M254.58 95.59H254.98M233.34 96.65H233.74M180.12 99.96H180.52M205.73 90.32H206.13M180.82 91.66H181.22M206.2 97.64H206.6M178.73 95.13H179.13M212.03 97.56H212.43M177.06 96.23H177.46M162.33 88.79H162.73M197.61 90.52H198.01M170.97 98.53H171.37M163.78 95.7H164.18M227.86 97.11H228.26M167.31 98.62H167.71M222.66 91.96H223.06M236.23 88.88H236.63M240.05 99.4H240.45M171.02 97.03H171.42M160.66 98.72H161.06M216.07 87.6H216.47M238.82 91.41H239.22M212.03 97.57H212.43M212.46 96.23H212.86M205.87 96.33H206.27M254.62 97.12H255.02M189.85 96.76H190.25M216.28 98.39H216.68M176.06 91.6H176.46M216.96 95.1H217.36M223.99 96.58H224.39M235.48 93.27H235.88M200.05 100.41H200.45M190.46 94.53H190.86M247.71 94.52H248.11M169.07 100.41H169.47M241.56 100.62H241.96M226.27 97.78H226.67M219.95 89.32H220.35M242.25 98.43H242.65M248.39 99.51H248.79M160.54 99.43H160.94M205.68 91.38H206.08M243.22 100.29H243.62M223.23 98.84H223.63M236.59 98.07H236.99M180.81 99.52H181.21M202.41 94.8H202.81M206.35 99.16H206.75M192.03 99.34H192.43M181.72 94.81H182.12M164.65 89.8H165.05M173.24 90.48H173.64M198.89 99.43H199.29M245.83 95.48H246.23M198.96 87H199.36M236.06 98.37H236.46M229.3 91.01H229.7M192.64 93.84H193.04M164.84 99.57H165.24M207.65 99.75H208.05M195.47 98.96H195.87M242.2 100.49H242.6M185.61 99.74H186.01M249.86 98.77H250.26M191.5 96.21H191.9M234.86 99.25H235.26M198.52 98.29H198.92M253.44 86.61H253.84M201.26 95.31H201.66M253.2 82.89H253.6M192.31 96.9H192.71M195.7 98.84H196.1M210.2 96.85H210.6M195.02 100.66H195.42M165.91 98.86H166.31M248.97 99.9H249.37M187.91 94.09H188.31M209.08 97.94H209.48M236.51 94.17H236.91M230.34 100.51H230.74M201.89 100.13H202.29M171.37 89.71H171.77M164.85 99.34H165.25M251.93 89.05H252.33M206.8 92.83H207.2M223.56 80.72H223.96M217.85 89.16H218.25M203.87 99.06H204.27M204.44 89.68H204.84M253.84 97.47H254.24M188.65 96.13H189.05M232.75 92.76H233.15M171.61 94.99H172.01" stroke="#619CFF" stroke-width="1.25" stroke-linecap="round"/>
</g>
<g clip-path="url(#cp02)">
<path d="M271.32 88.18H271.72M274.81 86.5H275.21M268.85 90.08H269.25M269.34 96.63H269.74M273.38 96.17H273.78M273.95 97.1H274.35M278.31 100.9H278.71M270.88 97.47H271.28M271.17 98.05H271.57M270.12 94.69H270.52M271.01 97.06H271.41M268.63 99.74H269.03M268.81 87.99H269.21M278.11 95.91H278.51M278.67 86.12H279.07M275.79 97H276.19M275.53 96.29H275.93M278.08 97.5H278.48M270.39 96.06H270.79M276.99 99.63H277.39M274.7 96.16H275.1M278.32 96.21H278.72M268.71 96.54H269.11M271 99.06H271.4M278.17 99.05H278.57M273.93 98.34H274.33M275.6 100.11H276M273.8 95.68H274.2M278.89 94.91H279.29M276.9 90.52H277.3M276.03 95.77H276.43M276.02 94.19H276.42M268.45 90.65H268.85M275.04 95.94H275.44M270.94 98.49H271.34M271.21 90.72H271.61M277.25 89.38H277.65M274.09 99.38H274.49M274.51 98.32H274.91M270.67 96.74H271.07M270.41 95.89H270.81M278.75 95.62H279.15M273.32 100.41H273.72M270.63 90.56H271.03M277.22 83.14H277.62" stroke="#F8766D" stroke-width="1.25" stroke-linecap="round"/>
<path d="M273.27 51.8H273.67M272.82 69.7H273.22M271.67 70.43H272.07M274.34 69.63H274.74M272.73 69.48H273.13M274.03 60.4H274.43M274.64 65.11H275.04M269.29 69.32H269.69M268.94 70.87H269.34M269.79 73.78H270.19M272.15 69.91H272.55M275.56 69.45H275.96M273.99 77.75H274.39M277.66 74.65H278.06M268.55 66.4H268.95M277.59 74.36H277.99M273.6 80.11H274M271.3 69.1H271.7M271.09 64.48H271.49M275.01 67.17H275.41M272.78 78.62H273.18M275.94 71.68H276.34M270.48 72.69H270.88M268.85 63.09H269.25M274.51 60.54H274.91M274.75 65.38H275.15M274.16 69.71H274.56M271.94 89.33H272.34M268.75 63.28H269.15M278.86 56.41H279.26M270.66 68.66H271.06M269.06 78.87H269.46M272.1 69.63H272.5M272.68 75.23H273.08M270.86 65.17H271.26M271.42 60.15H271.82M271.49 74.16H271.89M269.74 72.08H270.14M269.25 63.2H269.65M275.93 62.98H276.33M276.2 61.96H276.6M275.26 67.01H275.66M268.69 69.37H269.09M270.54 68.85H270.94M273.79 60.02H274.19M274.05 76.23H274.45M275.07 70.23H275.47M277.99 77.98H278.39M270.53 69.19H270.93M273.22 65.69H273.62M270.36 62.41H270.76M268.67 93.42H269.07M273.6 62.32H274M274.92 77.42H275.32M276.98 73.14H277.38" stroke="#00BA38" stroke-width="1.25" stroke-linecap="round"/>
<path d="M273.6 25.48H274M268.43 45.67H268.83M276.12 33.89H276.52M270.52 42H270.92M276.45 46.57H276.85M271.8 22.89H272.2M272.11 36.79H272.51M270.99 34.55H271.39M272.03 25.67H272.43M272.65 26.69H273.05M272.1 37.13H272.5M273.35 22.9H273.75M275.56 51.26H275.96M268.96 24.56H269.36M268.45 26.99H268.85M273.81 38.25H274.21M278.26 34.24H278.66M268.88 28.63H269.28M278.86 25.11H279.26M272.33 35.91H272.73M274.95 28.3H275.35M270.52 26.38H270.92M276.2 48.91H276.6M272.67 35.54H273.07M278.64 34.71H279.04M271.91 30.68H272.31M272.86 24.63H273.26M272.28 29.38H272.68M268.58 30.92H268.98M276.34 31.89H276.74M275.82 19.92H276.22M269.92 24.71H270.32M276.26 21.24H276.66M278.05 35.99H278.45M272.38 24.24H272.78M275.13 35.96H275.53M273.5 41.04H273.9M271.61 33.38H272.01M271.15 24.99H271.55M270.36 39.53H270.76M271.79 45.36H272.19M276.2 30.4H276.6M269.44 33.68H269.84M273.35 37.35H273.75M272.06 31.85H272.46M273.75 45.77H274.15M276.7 26.68H277.1M269.2 18.78H269.6M272.92 43.85H273.32M268.82 31.99H269.22M269.12 21.8H269.52M278.18 27.61H278.58M273.84 36.52H274.24M274.68 37.22H275.08M273.61 34.94H274.01M273.25 32.46H273.65M268.67 25.44H269.07M270.22 32.81H270.62M277.4 37.42H277.8M269.32 30.07H269.72" stroke="#619CFF" stroke-width="1.25" stroke-linecap="round"/>
<path d="M363.66 93.72H364.06M367.05 93.07H367.45M287.92 97.53H288.32M370.08 93.17H370.48M358.92 92.16H359.32M320 94.83H320.4M370.13 95.72H370.53M355.52 90.17H355.92M325.83 96.52H326.23M343.35 96.38H343.75M309.11 95.81H309.51M308.23 96.88H308.63M281.05 93.61H281.45M306.88 94.87H307.28M339.04 95.89H339.44M369.79 95.75H370.19M303.88 90.66H304.28M364.55 97.44H364.95M329.27 93.07H329.67M285.14 100.65H285.54M306.4 94.2H306.8M337.18 93.52H337.58M361.81 93.7H362.21M361.68 96.15H362.08M359.41 95.83H359.81M367.84 99.45H368.24M296.42 93.47H296.82M364.27 96.53H364.67M302.27 94.96H302.67M334.14 92.65H334.54M371.32 92.77H371.72M278.44 99.96H278.84M287.72 94.54H288.12M297.71 93.77H298.11M302.34 89.14H302.74M369.35 95.17H369.75M346.27 97.69H346.67M326.68 92.67H327.08M326.55 100.05H326.95M293.28 99.75H293.68M309.31 95.43H309.71M361.45 94.52H361.85M355.76 91.65H356.16M321.23 100.85H321.63M357.45 96.06H357.85M285.83 97.07H286.23M332.54 97.55H332.94M288.94 89.28H289.34M328.82 98.18H329.22M342.09 92.92H342.49M327.76 97.58H328.16M329.06 91.1H329.46M369.95 94.81H370.35M342.57 95.83H342.97M348.22 100.26H348.62M293.72 99.05H294.12M359.25 93.2H359.65M320.5 97.14H320.9M315.35 96.67H315.75M354.75 98.95H355.15M299.94 94.98H300.34M309.72 97.44H310.12M307.51 98.63H307.91M351.08 93.21H351.48M293.33 97.17H293.73M307.91 93.24H308.31M334.54 100.56H334.94M295.08 96.35H295.48M371.67 96.64H372.07M364.58 95.51H364.98M283.68 98.67H284.08M304.05 100.6H304.45M359.87 93.13H360.27M345.18 97.56H345.58M333.25 88.17H333.65M287.86 98.22H288.26M299.56 85.79H299.96M345.56 100.91H345.96M306.64 92.93H307.04M306.69 98.53H307.09M308.09 97.91H308.49M310.57 93H310.97M298.76 95.56H299.16M314.14 96.11H314.54M370.92 97.11H371.32M324.53 96.84H324.93M365.7 94.07H366.1M327.97 99.8H328.37M368.69 91.95H369.09M294.19 97.21H294.59M279.09 100.02H279.49M346.95 91.02H347.35M330.47 96.29H330.87M348.93 89.68H349.33M291.37 99.65H291.77M320.88 98.01H321.28M291.21 94.38H291.61M287.71 93.95H288.11M363.16 95.76H363.56M370.77 90.31H371.17M302.14 100.1H302.54M336.25 88.2H336.65M289.26 99.75H289.66M343.72 92.98H344.12M332.21 94.73H332.61M304.89 98.98H305.29M345.54 93.79H345.94M317.44 89.97H317.84M288.91 98.77H289.31M372.77 92.54H373.17M363.16 100.07H363.56M327.99 99.34H328.39M358.35 95.81H358.75M351.76 96.31H352.16M316.47 99.12H316.87M360.34 94.61H360.74M315.12 98.51H315.52M325.25 95.48H325.65M348.05 95.53H348.45M313.68 100.84H314.08M344.53 97.72H344.93M344.47 98.8H344.87M306.13 92.69H306.53M310.13 95.01H310.53M281.7 99.43H282.1M341.22 92.72H341.62M372.12 98.09H372.52M284.01 96.33H284.41M289.74 96.49H290.14M347.45 96.75H347.85M330.73 96.2H331.13M342.84 97.61H343.24M331.74 94.78H332.14M372.04 98.45H372.44M295.75 95.61H296.15M356.8 90.46H357.2M351.93 95.72H352.33M351.8 99.09H352.2M280.21 97.07H280.61M337.83 84.51H338.23M301.8 89.48H302.2M289.71 98.88H290.11M280.41 99.8H280.81M356.24 100.41H356.64M356.99 93.6H357.39M350.17 100.48H350.57M311.79 94.97H312.19M371.36 96.58H371.76M338.93 97.94H339.33M323.49 99.31H323.89M329.31 95.39H329.71M299.67 92.41H300.07M346.94 98.3H347.34M331.16 95.28H331.56M280.07 97.76H280.47M365.09 99.21H365.49M312.52 89.7H312.92M333.93 78.42H334.33M337.44 99.15H337.84M322.17 88.97H322.57M356.82 94.12H357.22M304.28 98.55H304.68M372.55 98.73H372.95M355.2 94.11H355.6M286.38 93.21H286.78M360 98.73H360.4M360.64 93.57H361.04M310.95 94.08H311.35M355.31 97.52H355.71M346.84 95.74H347.24M321.25 86.85H321.65M294.33 91.17H294.73M322.66 97.39H323.06M361.54 96.13H361.94M363.11 99.79H363.51M366.89 95.68H367.29M320.8 98.05H321.2M303.52 100.11H303.92M312.36 94.51H312.76M369.11 99.28H369.51M319.92 96.28H320.32M308.46 99.88H308.86M361.49 100.09H361.89M312.52 91.62H312.92M288.03 87.92H288.43M322.96 92.12H323.36M368.99 98.58H369.39M309.46 93.43H309.86M293.91 95.21H294.31M310.6 99.6H311M297.55 95.85H297.95M350.42 88.53H350.82M308.62 97.4H309.02M279.6 92.11H280M360.59 91.64H360.99M348.79 91.25H349.19M372.76 98.15H373.16M342.86 90.87H343.26M357.2 98.48H357.6M306.26 95.54H306.66M296.28 98.15H296.68M341.56 95.68H341.96M315.57 98.41H315.97M325.53 98.78H325.93M318.4 92.57H318.8M291.09 96.04H291.49M291.74 93.79H292.14M329 98.85H329.4M340.96 94.55H341.36M290.98 94.25H291.38M370.82 92.69H371.22M320.85 100.42H321.25M287.11 99.74H287.51M315.76 91.1H316.16M326.17 94.89H326.57M328.83 100.22H329.23M306.51 96.56H306.91M358.78 98.45H359.18M342.78 94.26H343.18M339.29 98.08H339.69M371.43 100.1H371.83M295.53 100H295.93M359.23 89.27H359.63M301.13 98.27H301.53M335.81 98.49H336.21M350.54 94.05H350.94M283.69 94.51H284.09M351.26 96.62H351.66M373.11 100.54H373.51M371.43 100.6H371.83M363.82 91.2H364.22M299.88 94.72H300.28M356.52 98.81H356.92M329.12 99.89H329.52M360.75 100.84H361.15M359.35 97.2H359.75M327.05 100.88H327.45M323.92 95.18H324.32M305.89 95.75H306.29M360.6 95.6H361M360.5 90.14H360.9M351.41 83.03H351.81M331.67 97.72H332.07M361.26 97.46H361.66M282.4 100.2H282.8M347.3 96.74H347.7M344.96 98.47H345.36M365.07 97.87H365.47M348.76 91.79H349.16M307.03 99.24H307.43M280.94 99.26H281.34M294.04 92.05H294.44M283.19 98.1H283.59M297.98 98.58H298.38M329.13 97.1H329.53M339.61 100.37H340.01M298.05 92.23H298.45M296.46 90.8H296.86M312.75 100.61H313.15M279.23 97.73H279.63M291.11 94.55H291.51M338.41 98.85H338.81M293.97 86.24H294.37M279.17 95.36H279.57M302.4 98.35H302.8M325.84 99.11H326.24M295.95 96.58H296.35M289.07 83.2H289.47M370.87 91.32H371.27M356.98 86.86H357.38M352.67 95.75H353.07M279.2 97.42H279.6M359.71 94.76H360.11M283.88 98.16H284.28M316.93 100.44H317.33M339.41 88.8H339.81M293.45 100.04H293.85M311.61 94H312.01M313.27 94.89H313.67M370.43 99.79H370.83M350.32 97.71H350.72M296.7 99.71H297.1M321.94 97.5H322.34M293.57 96.21H293.97M310.15 93.75H310.55M343.91 96.59H344.31M366.66 92.69H367.06M324.51 99.93H324.91M309.37 89.93H309.77M312.5 93.82H312.9M340.1 94.47H340.5M280.71 97.43H281.11M360.17 98.26H360.57M311.81 95.49H312.21M333.33 80.07H333.73M333.15 93.14H333.55M341.18 95.89H341.58M328.01 96.17H328.41M367.98 98.7H368.38M287.97 99.54H288.37M372.02 100.44H372.42M288.59 94.29H288.99M316.4 98.52H316.8M357.45 100.12H357.85M321.89 95.19H322.29M329.15 91.02H329.55M323.81 100.79H324.21M366.17 97.96H366.57M363.49 96.68H363.89M285.76 97.02H286.16M285.88 100.42H286.28M313.38 93.98H313.78M321.88 100.41H322.28M365.15 93.28H365.55M321.23 96.16H321.63M284.99 83.29H285.39M324.36 98.19H324.76M329.99 100.01H330.39M354.33 97.49H354.73M306.08 92.35H306.48M304.16 94.83H304.56M344.4 100.81H344.8M370.19 93.55H370.59M323.89 95.47H324.29M321.93 100.51H322.33M348.48 92.26H348.88M291.87 92.24H292.27M323.9 88.89H324.3M330.93 95.5H331.33M316.01 98.13H316.41M323.33 91.13H323.73M361.45 95.26H361.85M303.44 99.6H303.84M365.94 97.51H366.34M337.72 91.86H338.12M359.32 97.82H359.72M323.2 92.88H323.6M364.72 96.67H365.12M347.49 99.77H347.89M280.91 97.84H281.31M372.53 99.57H372.93M371.8 93.22H372.2M345.95 99.97H346.35M285.98 94.58H286.38M284.81 96.8H285.21M278.89 99.62H279.29M325.11 90.43H325.51M307.84 91.9H308.24M292.88 95.88H293.28M313.27 98.06H313.67M363.19 92.76H363.59M339.93 95.63H340.33M318.46 90.35H318.86" stroke="#F8766D" stroke-width="1.25" stroke-linecap="round"/>
<path d="M296.42 94.32H296.82" stroke="#00BA38" stroke-width="1.25" stroke-linecap="round"/>
<path d="M304.57 94.21H304.97M340.33 97.59H340.73" stroke="#F8766D" stroke-width="1.25" stroke-linecap="round"/>
<path d="M279.08 95.43H279.48" stroke="#00BA38" stroke-width="1.25" stroke-linecap="round"/>
<path d="M356.35 99.92H356.75M371.3 95.37H371.7" stroke="#F8766D" stroke-width="1.25" stroke-linecap="round"/>
<path d="M362.6 98.72H363M323.97 99.21H324.37M332.72 99.12H333.12M283.89 95.58H284.29" stroke="#00BA38" stroke-width="1.25" stroke-linecap="round"/>
<path d="M322.94 100.08H323.34" stroke="#F8766D" stroke-width="1.25" stroke-linecap="round"/>
<path d="M358.28 91.97H358.68M354.49 100.26H354.89" stroke="#00BA38" stroke-width="1.25" stroke-linecap="round"/>
<path d="M306.66 95.94H307.06" stroke="#F8766D" stroke-width="1.25" stroke-linecap="round"/>
<path d="M294.09 98.3H294.49" stroke="#00BA38" stroke-width="1.25" stroke-linecap="round"/>
<path d="M328.27 91.9H328.67M306.85 93.12H307.25" stroke="#F8766D" stroke-width="1.25" stroke-linecap="round"/>
<path d="M353.34 99.27H353.74" stroke="#00BA38" stroke-width="1.25" stroke-linecap="round"/>
<path d="M321.47 99.77H321.87" stroke="#F8766D" stroke-width="1.25" stroke-linecap="round"/>
<path d="M278.33 92.17H278.73" stroke="#00BA38" stroke-width="1.25" stroke-linecap="round"/>
<path d="M366.13 95.94H366.53" stroke="#F8766D" stroke-width="1.25" stroke-linecap="round"/>
<path d="M346.87 88.66H347.27" stroke="#00BA38" stroke-width="1.25" stroke-linecap="round"/>
<path d="M372.85 100.43H373.25M284.45 99.55H284.85M308.61 99.15H309.01" stroke="#F8766D" stroke-width="1.25" stroke-linecap="round"/>
<path d="M310.09 99.17H310.49" stroke="#00BA38" stroke-width="1.25" stroke-linecap="round"/>
<path d="M363.43 97.45H363.83M328.19 92.97H328.59M368.45 91.71H368.85M296.02 95.6H296.42" stroke="#F8766D" stroke-width="1.25" stroke-linecap="round"/>
<path d="M298.65 94.12H299.05M335.72 99.53H336.12M317.12 98.4H317.52" stroke="#00BA38" stroke-width="1.25" stroke-linecap="round"/>
<path d="M293.54 99.14H293.94" stroke="#F8766D" stroke-width="1.25" stroke-linecap="round"/>
<path d="M355.84 93.09H356.24" stroke="#00BA38" stroke-width="1.25" stroke-linecap="round"/>
<path d="M305.42 94.18H305.82" stroke="#F8766D" stroke-width="1.25" stroke-linecap="round"/>
<path d="M288.24 92.22H288.64M323.1 99.07H323.5M307.89 98.62H308.29M356.36 95.58H356.76" stroke="#00BA38" stroke-width="1.25" stroke-linecap="round"/>
<path d="M284.35 93.31H284.75M317.77 96.78H318.17" stroke="#F8766D" stroke-width="1.25" stroke-linecap="round"/>
<path d="M283.45 92.81H283.85" stroke="#00BA38" stroke-width="1.25" stroke-linecap="round"/>
<path d="M318.6 99.28H319M317.63 99.42H318.03M293.19 89.43H293.59M290.76 99.16H291.16" stroke="#F8766D" stroke-width="1.25" stroke-linecap="round"/>
<path d="M318.51 93.44H318.91" stroke="#00BA38" stroke-width="1.25" stroke-linecap="round"/>
<path d="M344.07 97.85H344.47" stroke="#F8766D" stroke-width="1.25" stroke-linecap="round"/>
<path d="M324.44 94.94H324.84M338.69 98.84H339.09M363.97 93.67H364.37" stroke="#00BA38" stroke-width="1.25" stroke-linecap="round"/>
<path d="M370.2 98.4H370.6M315.86 99.85H316.26M367.04 97.3H367.44" stroke="#F8766D" stroke-width="1.25" stroke-linecap="round"/>
<path d="M367.68 99.07H368.08M287.9 92.61H288.3" stroke="#00BA38" stroke-width="1.25" stroke-linecap="round"/>
<path d="M333.32 100.5H333.72M362.71 100.71H363.11" stroke="#F8766D" stroke-width="1.25" stroke-linecap="round"/>
<path d="M294.47 96.08H294.87M356.93 91.82H357.33" stroke="#00BA38" stroke-width="1.25" stroke-linecap="round"/>
<path d="M362.09 95.71H362.49M357.65 95.76H358.05" stroke="#F8766D" stroke-width="1.25" stroke-linecap="round"/>
<path d="M349.97 91.15H350.37M312.77 99.33H313.17" stroke="#00BA38" stroke-width="1.25" stroke-linecap="round"/>
<path d="M373.17 96.6H373.57" stroke="#F8766D" stroke-width="1.25" stroke-linecap="round"/>
<path d="M298.85 97.65H299.25M333.55 96.45H333.95" stroke="#00BA38" stroke-width="1.25" stroke-linecap="round"/>
<path d="M306.98 100.08H307.38" stroke="#F8766D" stroke-width="1.25" stroke-linecap="round"/>
<path d="M298.25 90.43H298.65" stroke="#00BA38" stroke-width="1.25" stroke-linecap="round"/>
<path d="M358.5 97.97H358.9" stroke="#F8766D" stroke-width="1.25" stroke-linecap="round"/>
<path d="M370.6 94.95H371M344.69 98.57H345.09M349.94 98.52H350.34M367.72 97.21H368.12M340.38 92.41H340.78" stroke="#00BA38" stroke-width="1.25" stroke-linecap="round"/>
<path d="M286.08 94.24H286.48M305.45 100.49H305.85" stroke="#F8766D" stroke-width="1.25" stroke-linecap="round"/>
<path d="M303.17 94.53H303.57" stroke="#00BA38" stroke-width="1.25" stroke-linecap="round"/>
<path d="M353.81 89.84H354.21" stroke="#F8766D" stroke-width="1.25" stroke-linecap="round"/>
<path d="M324.03 97.12H324.43M318.31 95.99H318.71M313.96 92.51H314.36M282.39 87.6H282.79" stroke="#00BA38" stroke-width="1.25" stroke-linecap="round"/>
<path d="M290.21 95.98H290.61" stroke="#F8766D" stroke-width="1.25" stroke-linecap="round"/>
<path d="M337.53 80.55H337.93" stroke="#00BA38" stroke-width="1.25" stroke-linecap="round"/>
<path d="M341.95 99.03H342.35M299.18 94.21H299.58M292.02 99.24H292.42" stroke="#F8766D" stroke-width="1.25" stroke-linecap="round"/>
<path d="M331.38 92.47H331.78" stroke="#00BA38" stroke-width="1.25" stroke-linecap="round"/>
<path d="M317.53 98.71H317.93M322.59 92.53H322.99M323.35 99.79H323.75M340.23 87.11H340.63" stroke="#F8766D" stroke-width="1.25" stroke-linecap="round"/>
<path d="M316.94 99.54H317.34" stroke="#00BA38" stroke-width="1.25" stroke-linecap="round"/>
<path d="M320.06 95.63H320.46M338.47 97.48H338.87M313.73 94.81H314.13M306.07 91H306.47" stroke="#F8766D" stroke-width="1.25" stroke-linecap="round"/>
<path d="M372.27 99.17H372.67M356.11 94.86H356.51M336.96 97.33H337.36M349.95 99.65H350.35M340.94 99.45H341.34" stroke="#00BA38" stroke-width="1.25" stroke-linecap="round"/>
<path d="M317.25 99.85H317.65M302.79 94.11H303.19" stroke="#F8766D" stroke-width="1.25" stroke-linecap="round"/>
<path d="M289.08 95.6H289.48" stroke="#00BA38" stroke-width="1.25" stroke-linecap="round"/>
<path d="M339.33 92.71H339.73" stroke="#F8766D" stroke-width="1.25" stroke-linecap="round"/>
<path d="M317.52 94.61H317.92" stroke="#00BA38" stroke-width="1.25" stroke-linecap="round"/>
<path d="M323.46 96.94H323.86M317.09 94.75H317.49" stroke="#F8766D" stroke-width="1.25" stroke-linecap="round"/>
<path d="M288.32 99.84H288.72" stroke="#00BA38" stroke-width="1.25" stroke-linecap="round"/>
<path d="M303.75 97.64H304.15M361.75 97.98H362.15" stroke="#F8766D" stroke-width="1.25" stroke-linecap="round"/>
<path d="M285.36 91.57H285.76M293.82 88.99H294.22" stroke="#00BA38" stroke-width="1.25" stroke-linecap="round"/>
<path d="M318.6 95.29H319M330.97 95.3H331.37M363.98 96.6H364.38M291.93 99.22H292.33M288.77 98.91H289.17" stroke="#F8766D" stroke-width="1.25" stroke-linecap="round"/>
<path d="M367.58 96.9H367.98M300.47 95.7H300.87" stroke="#00BA38" stroke-width="1.25" stroke-linecap="round"/>
<path d="M370.37 86.5H370.77M342.18 98.49H342.58M296.68 99.55H297.08M314.42 99.14H314.82M364.67 95.62H365.07M291.7 96.85H292.1M306.49 100.87H306.89" stroke="#F8766D" stroke-width="1.25" stroke-linecap="round"/>
<path d="M322.8 95.27H323.2M309.59 99.63H309.99" stroke="#00BA38" stroke-width="1.25" stroke-linecap="round"/>
<path d="M358.76 99.25H359.16M335.38 93.54H335.78" stroke="#F8766D" stroke-width="1.25" stroke-linecap="round"/>
<path d="M358.36 97.35H358.76" stroke="#00BA38" stroke-width="1.25" stroke-linecap="round"/>
<path d="M328.36 100.65H328.76" stroke="#F8766D" stroke-width="1.25" stroke-linecap="round"/>
<path d="M325.94 94.4H326.34" stroke="#00BA38" stroke-width="1.25" stroke-linecap="round"/>
<path d="M324.08 100.35H324.48" stroke="#F8766D" stroke-width="1.25" stroke-linecap="round"/>
<path d="M373.14 98.18H373.54" stroke="#00BA38" stroke-width="1.25" stroke-linecap="round"/>
<path d="M365.49 95.95H365.89" stroke="#F8766D" stroke-width="1.25" stroke-linecap="round"/>
<path d="M357.23 97.28H357.63" stroke="#00BA38" stroke-width="1.25" stroke-linecap="round"/>
<path d="M296.03 94.65H296.43M284.74 92.08H285.14" stroke="#F8766D" stroke-width="1.25" stroke-linecap="round"/>
<path d="M355.53 97.22H355.93" stroke="#00BA38" stroke-width="1.25" stroke-linecap="round"/>
<path d="M359.53 100.76H359.93M318.29 99.95H318.69" stroke="#F8766D" stroke-width="1.25" stroke-linecap="round"/>
<path d="M282.26 99.84H282.66" stroke="#00BA38" stroke-width="1.25" stroke-linecap="round"/>
<path d="M306.23 87.51H306.63M362.4 93.92H362.8" stroke="#F8766D" stroke-width="1.25" stroke-linecap="round"/>
<path d="M316.54 98.65H316.94" stroke="#00BA38" stroke-width="1.25" stroke-linecap="round"/>
<path d="M315.1 92.01H315.5" stroke="#F8766D" stroke-width="1.25" stroke-linecap="round"/>
<path d="M284.84 99.36H285.24" stroke="#00BA38" stroke-width="1.25" stroke-linecap="round"/>
<path d="M364.93 98.73H365.33M360.08 98.05H360.48M353.11 89.97H353.51M372.32 93.22H372.72" stroke="#F8766D" stroke-width="1.25" stroke-linecap="round"/>
<path d="M365.23 100.64H365.63M329.34 94.75H329.74M364.61 95.68H365.01M332.14 97.27H332.54" stroke="#00BA38" stroke-width="1.25" stroke-linecap="round"/>
<path d="M298.02 87.38H298.42M318.57 91.28H318.97" stroke="#F8766D" stroke-width="1.25" stroke-linecap="round"/>
<path d="M346.33 100.79H346.73M302.19 100.22H302.59" stroke="#00BA38" stroke-width="1.25" stroke-linecap="round"/>
<path d="M308.41 100.47H308.81M357.03 98.64H357.43M348.23 98.03H348.63" stroke="#F8766D" stroke-width="1.25" stroke-linecap="round"/>
<path d="M354.3 95.18H354.7" stroke="#00BA38" stroke-width="1.25" stroke-linecap="round"/>
<path d="M363.29 96.47H363.69" stroke="#F8766D" stroke-width="1.25" stroke-linecap="round"/>
<path d="M303.51 94.81H303.91" stroke="#00BA38" stroke-width="1.25" stroke-linecap="round"/>
<path d="M332.51 95.99H332.91" stroke="#F8766D" stroke-width="1.25" stroke-linecap="round"/>
<path d="M316.06 91.79H316.46" stroke="#00BA38" stroke-width="1.25" stroke-linecap="round"/>
<path d="M344.19 92.88H344.59M349.04 92.77H349.44" stroke="#F8766D" stroke-width="1.25" stroke-linecap="round"/>
<path d="M303.23 94.29H303.63M290.56 95.33H290.96" stroke="#00BA38" stroke-width="1.25" stroke-linecap="round"/>
<path d="M350.46 89.16H350.86M331.34 100.43H331.74" stroke="#F8766D" stroke-width="1.25" stroke-linecap="round"/>
<path d="M307.76 88.76H308.16" stroke="#00BA38" stroke-width="1.25" stroke-linecap="round"/>
<path d="M334.3 95.18H334.7M281.86 96.04H282.26M305.4 92.69H305.8M293.44 89.89H293.84M352.21 93.57H352.61M338.64 98.79H339.04" stroke="#F8766D" stroke-width="1.25" stroke-linecap="round"/>
<path d="M340.07 98.43H340.47" stroke="#00BA38" stroke-width="1.25" stroke-linecap="round"/>
<path d="M357.06 95.18H357.46M353.54 92.55H353.94" stroke="#F8766D" stroke-width="1.25" stroke-linecap="round"/>
<path d="M335.29 91.5H335.69M289.03 92.66H289.43M344.06 94.59H344.46" stroke="#00BA38" stroke-width="1.25" stroke-linecap="round"/>
<path d="M320.22 84.96H320.62M283.26 99.12H283.66" stroke="#F8766D" stroke-width="1.25" stroke-linecap="round"/>
<path d="M338.13 99.04H338.53M315.66 98.52H316.06M338.83 92.85H339.23" stroke="#00BA38" stroke-width="1.25" stroke-linecap="round"/>
<path d="M341.65 98.82H342.05M320.34 92.47H320.74M349.26 97.68H349.66" stroke="#F8766D" stroke-width="1.25" stroke-linecap="round"/>
<path d="M338.12 94.63H338.52" stroke="#00BA38" stroke-width="1.25" stroke-linecap="round"/>
<path d="M334.84 89.14H335.24" stroke="#F8766D" stroke-width="1.25" stroke-linecap="round"/>
<path d="M336.86 96.6H337.26M333 95.66H333.4M349.76 98.77H350.16M344.74 93.57H345.14M320.79 99.54H321.19" stroke="#00BA38" stroke-width="1.25" stroke-linecap="round"/>
<path d="M278.43 93.23H278.83" stroke="#F8766D" stroke-width="1.25" stroke-linecap="round"/>
<path d="M372.13 95.65H372.53" stroke="#00BA38" stroke-width="1.25" stroke-linecap="round"/>
<path d="M352.72 90.97H353.12" stroke="#F8766D" stroke-width="1.25" stroke-linecap="round"/>
<path d="M300.36 96.15H300.76M347.34 96.78H347.74" stroke="#00BA38" stroke-width="1.25" stroke-linecap="round"/>
<path d="M284.09 96.29H284.49M316.67 88.47H317.07" stroke="#F8766D" stroke-width="1.25" stroke-linecap="round"/>
<path d="M330.91 96.97H331.31M300.25 95.12H300.65" stroke="#00BA38" stroke-width="1.25" stroke-linecap="round"/>
<path d="M361.09 93.85H361.49M290.26 96.63H290.66M366.52 94.32H366.92M308.29 99.36H308.69M294.5 99.78H294.9M283 93.96H283.4M352.24 100.24H352.64M322.13 91.03H322.53" stroke="#F8766D" stroke-width="1.25" stroke-linecap="round"/>
<path d="M325.46 87.71H325.86M369.98 96.3H370.38" stroke="#00BA38" stroke-width="1.25" stroke-linecap="round"/>
<path d="M329.31 95.73H329.71" stroke="#F8766D" stroke-width="1.25" stroke-linecap="round"/>
<path d="M344.63 88.14H345.03" stroke="#00BA38" stroke-width="1.25" stroke-linecap="round"/>
<path d="M334.32 98.46H334.72M349.93 94.35H350.33" stroke="#F8766D" stroke-width="1.25" stroke-linecap="round"/>
<path d="M291.54 93.6H291.94M365.1 97.97H365.5" stroke="#00BA38" stroke-width="1.25" stroke-linecap="round"/>
<path d="M359.24 92.35H359.64" stroke="#F8766D" stroke-width="1.25" stroke-linecap="round"/>
<path d="M345.3 93H345.7M308.35 93.92H308.75" stroke="#00BA38" stroke-width="1.25" stroke-linecap="round"/>
<path d="M281.9 100H282.3M333.74 98.24H334.14M338.84 90.81H339.24" stroke="#F8766D" stroke-width="1.25" stroke-linecap="round"/>
<path d="M335.98 95.28H336.38" stroke="#00BA38" stroke-width="1.25" stroke-linecap="round"/>
<path d="M324.23 94.34H324.63" stroke="#F8766D" stroke-width="1.25" stroke-linecap="round"/>
<path d="M307.98 99.38H308.38M342.55 94.98H342.95" stroke="#00BA38" stroke-width="1.25" stroke-linecap="round"/>
<path d="M367.79 88.19H368.19M369.75 93.63H370.15" stroke="#F8766D" stroke-width="1.25" stroke-linecap="round"/>
<path d="M345.79 90.56H346.19M367.34 99.32H367.74" stroke="#00BA38" stroke-width="1.25" stroke-linecap="round"/>
<path d="M344.64 92.7H345.04M358.14 95.22H358.54" stroke="#F8766D" stroke-width="1.25" stroke-linecap="round"/>
<path d="M323.09 100.22H323.49M320.32 91.77H320.72M364.11 99.16H364.51M290.13 96.15H290.53M282.42 100.72H282.82" stroke="#00BA38" stroke-width="1.25" stroke-linecap="round"/>
<path d="M299.65 91.02H300.05" stroke="#F8766D" stroke-width="1.25" stroke-linecap="round"/>
<path d="M336.95 84.84H337.35M317.07 93.22H317.47" stroke="#00BA38" stroke-width="1.25" stroke-linecap="round"/>
<path d="M356.2 99.45H356.6" stroke="#F8766D" stroke-width="1.25" stroke-linecap="round"/>
<path d="M368.14 87.72H368.54M365.96 96.13H366.36" stroke="#00BA38" stroke-width="1.25" stroke-linecap="round"/>
<path d="M330.68 97.03H331.08" stroke="#F8766D" stroke-width="1.25" stroke-linecap="round"/>
<path d="M330.55 99.67H330.95M303.88 96.28H304.28M334.34 82.32H334.74M311.98 95.84H312.38" stroke="#00BA38" stroke-width="1.25" stroke-linecap="round"/>
<path d="M321.23 91.66H321.63M354.38 94.22H354.78M352.56 98.72H352.96M367.19 95.56H367.59M340.82 91.08H341.22" stroke="#F8766D" stroke-width="1.25" stroke-linecap="round"/>
<path d="M350.3 93.31H350.7M339.96 93.29H340.36" stroke="#00BA38" stroke-width="1.25" stroke-linecap="round"/>
<path d="M284.15 96.88H284.55M284.51 96.2H284.91" stroke="#F8766D" stroke-width="1.25" stroke-linecap="round"/>
<path d="M364.44 97.99H364.84" stroke="#00BA38" stroke-width="1.25" stroke-linecap="round"/>
<path d="M286.17 100.86H286.57" stroke="#F8766D" stroke-width="1.25" stroke-linecap="round"/>
<path d="M353.49 95.72H353.89M322.73 98.45H323.13M280.76 84.44H281.16M338.08 92.33H338.48" stroke="#00BA38" stroke-width="1.25" stroke-linecap="round"/>
<path d="M337.48 89.4H337.88" stroke="#F8766D" stroke-width="1.25" stroke-linecap="round"/>
<path d="M351.71 89.76H352.11M348.74 98.75H349.14M311.7 96.75H312.1M287.19 88.24H287.59M371.35 92.24H371.75M296.25 100.43H296.65M298.54 95.69H298.94M311.3 98.02H311.7M363.32 95.81H363.72M327.17 98.95H327.57M291.19 94.13H291.59M330.49 98.74H330.89M345.16 98.19H345.56M353.47 98.2H353.87M324.24 97.3H324.64M314.64 89.63H315.04M289.39 93.83H289.79M361.24 92.54H361.64M342.76 91.82H343.16M279.6 94.49H280M315.77 100.52H316.17M314.91 94.01H315.31M323.08 97.93H323.48M356.08 95.95H356.48M302.37 89.4H302.77M281.16 92.27H281.56M306.48 99.01H306.88M344.98 87.52H345.38M315.3 95.3H315.7M315.49 94.07H315.89M347.07 92.76H347.47M370.13 94.81H370.53M354.37 97.92H354.77M348.19 99.91H348.59M300.86 89.39H301.26M308.77 96.33H309.17M300.32 98.19H300.72M332.8 92.6H333.2M346.74 96.93H347.14M320.86 94.36H321.26M290.28 98.45H290.68M285.8 93.68H286.2M279.96 94.41H280.36M358.31 96.26H358.71M323.04 96.32H323.44M321.16 100.28H321.56M326.44 93.95H326.84M353.29 98.23H353.69M300.2 97.68H300.6M329.34 96.81H329.74M296.4 97.56H296.8M318 98.84H318.4M370.86 92.62H371.26M335.48 98.19H335.88M346.17 97.84H346.57M334.22 94.95H334.62M354.86 99.55H355.26M301.41 100.68H301.81M330.74 91.26H331.14M320.05 88.5H320.45M278.67 100.47H279.07M294.15 98.23H294.55M297.62 96.08H298.02M359.9 91.41H360.3M294.61 93.89H295.01M337.27 93.77H337.67M365.79 99.66H366.19M323.85 93.15H324.25M336.29 96.92H336.69M347.24 96.41H347.64M366 97.7H366.4M341.75 98.32H342.15M353.82 96.36H354.22M308.48 100.66H308.88M313.37 100.51H313.77M323.3 95.05H323.7M335.76 92.96H336.16M329.82 98.96H330.22M325.61 95.19H326.01M351.17 84.62H351.57M280.2 100.73H280.6M294.1 100.89H294.5M299 97.87H299.4M347.68 95.33H348.08M368.05 98.78H368.45M300.79 87.53H301.19M330.37 100.28H330.77M322.37 98.87H322.77M279.45 99.77H279.85M340.03 97.53H340.43M361.91 96.59H362.31M358.5 98.19H358.9M364.38 91.57H364.78M340.56 81.52H340.96M365.82 97.53H366.22M358.25 94.63H358.65M296.51 98.24H296.91M332.93 89.51H333.33M363.07 97.61H363.47M302.37 100.18H302.77M306.65 98.83H307.05M318.21 81.94H318.61M328.07 87.86H328.47M370.8 99.93H371.2M367.94 94.83H368.34M327.77 91.76H328.17M293.02 97.87H293.42M312.61 91.21H313.01M360.42 93.72H360.82M361.67 95.44H362.07M330.96 99.21H331.36M290.95 96.34H291.35M287.69 94.6H288.09M303.72 97.78H304.12M328.12 97.5H328.52M321.65 94.52H322.05M352.25 95.98H352.65M289.73 97.18H290.13M340.43 98.79H340.83M325.14 99.47H325.54M312.22 94.52H312.62M358.51 89.48H358.91M317.35 100.25H317.75M295.59 93.03H295.99M366.15 98.57H366.55M366.85 92.51H367.25M349.28 97.85H349.68M358.74 92.44H359.14M280.92 91.49H281.32M370.51 98.47H370.91M357.61 100.59H358.01M326.92 97.38H327.32M362.28 99.99H362.68M356.45 99.44H356.85M330.61 96.96H331.01M345.58 98.67H345.98M347.09 99.3H347.49M322.6 93.09H323M356.69 96.01H357.09M344.49 99.25H344.89M281.51 95.58H281.91M358.27 96.03H358.67M329.58 97.26H329.98M371.39 98.63H371.79M306.95 98.2H307.35M347.98 95.4H348.38M317.52 95.74H317.92M309.49 83.75H309.89M313.92 98.53H314.32M308.82 94.93H309.22M331.24 94.02H331.64M288.13 96.44H288.53M353.57 88.38H353.97M298.79 96.13H299.19M290.44 96.88H290.84M294.84 97.23H295.24M360.07 99H360.47M363.13 96.1H363.53M350.65 96.61H351.05M320.6 89.08H321M368.84 100.56H369.24M296.11 97.71H296.51M315.41 98.22H315.81M364.76 98.16H365.16M283.22 92.28H283.62M299.77 95.27H300.17M330.24 98.93H330.64M316.68 96.5H317.08M357.59 93.79H357.99M362.01 92.54H362.41M349.64 99.51H350.04M348.36 97.91H348.76M355.11 91.4H355.51M345.07 96.79H345.47M370.76 90.26H371.16M364.1 97.67H364.5M299.45 98.67H299.85M305.53 98.82H305.93M368.77 89.26H369.17M324.11 99.69H324.51M339.08 93.62H339.48M350.52 97.41H350.92M353.27 93.81H353.67M341.63 95.6H342.03M286.96 99.87H287.36M340.29 92.08H340.69M291.81 96.87H292.21M373.16 100.73H373.56M338.07 86.42H338.47M325.27 88.67H325.67M283.29 100.81H283.69M360.13 97.79H360.53M316.12 81.78H316.52M298.42 94.06H298.82M326.6 96.19H327M310.66 99.6H311.06M289.93 91.49H290.33M322.37 97.65H322.77M323.3 100.75H323.7M291.81 99.05H292.21M309.1 100.84H309.5M343.65 100.38H344.05M280.81 93.66H281.21M339.93 89.85H340.33M288.81 94.04H289.21M319.64 96.62H320.04M293.82 95.64H294.22M370.97 92.83H371.37M338.55 100.34H338.95M281.63 96.23H282.03M369.55 91.05H369.95M297.56 97.64H297.96M285.43 99.65H285.83M344.09 99.7H344.49M333.05 94.35H333.45M296 97.09H296.4M351.13 98.27H351.53M292.06 96.91H292.46M307.45 92.64H307.85M346.1 94.2H346.5" stroke="#00BA38" stroke-width="1.25" stroke-linecap="round"/>
<path d="M365.96 96.37H366.36" stroke="#619CFF" stroke-width="1.25" stroke-linecap="round"/>
<path d="M301.66 95.98H302.06" stroke="#00BA38" stroke-width="1.25" stroke-linecap="round"/>
<path d="M367.83 92.72H368.23M356.52 99.06H356.92" stroke="#619CFF" stroke-width="1.25" stroke-linecap="round"/>
<path d="M367.8 100.76H368.2M368.67 98.28H369.07" stroke="#00BA38" stroke-width="1.25" stroke-linecap="round"/>
<path d="M319.26 100.16H319.66M362.75 94.88H363.15M340.27 99.07H340.67M368.73 97.93H369.13M341.17 100.4H341.57M363.52 96.58H363.92M345.89 97.97H346.29" stroke="#619CFF" stroke-width="1.25" stroke-linecap="round"/>
<path d="M296.65 100.7H297.05M326.78 89.74H327.18M335.79 92H336.19M283.41 92.04H283.81M367.14 100.91H367.54" stroke="#00BA38" stroke-width="1.25" stroke-linecap="round"/>
<path d="M307.85 96.65H308.25" stroke="#619CFF" stroke-width="1.25" stroke-linecap="round"/>
<path d="M338.59 94.94H338.99M371.51 96.11H371.91M320.13 94.8H320.53M312.74 97.75H313.14" stroke="#00BA38" stroke-width="1.25" stroke-linecap="round"/>
<path d="M353.06 94.98H353.46M353.68 93.52H354.08M310.15 94.53H310.55" stroke="#619CFF" stroke-width="1.25" stroke-linecap="round"/>
<path d="M309.22 95.64H309.62M326.99 93.45H327.39" stroke="#00BA38" stroke-width="1.25" stroke-linecap="round"/>
<path d="M321.1 94.96H321.5" stroke="#619CFF" stroke-width="1.25" stroke-linecap="round"/>
<path d="M359.16 99.17H359.56M282.55 93.45H282.95M301.51 95.98H301.91" stroke="#00BA38" stroke-width="1.25" stroke-linecap="round"/>
<path d="M296.58 94.92H296.98" stroke="#619CFF" stroke-width="1.25" stroke-linecap="round"/>
<path d="M336.39 84.56H336.79" stroke="#00BA38" stroke-width="1.25" stroke-linecap="round"/>
<path d="M304.09 88.47H304.49M336.36 100.58H336.76" stroke="#619CFF" stroke-width="1.25" stroke-linecap="round"/>
<path d="M290.76 100.07H291.16M288.4 93.84H288.8" stroke="#00BA38" stroke-width="1.25" stroke-linecap="round"/>
<path d="M339.59 94.25H339.99M319.38 99.19H319.78M304.42 98.7H304.82M330.19 98.53H330.59M309.73 95.26H310.13" stroke="#619CFF" stroke-width="1.25" stroke-linecap="round"/>
<path d="M283.29 90.98H283.69" stroke="#00BA38" stroke-width="1.25" stroke-linecap="round"/>
<path d="M371.58 95H371.98M357.98 92.75H358.38" stroke="#619CFF" stroke-width="1.25" stroke-linecap="round"/>
<path d="M278.89 89.92H279.29" stroke="#00BA38" stroke-width="1.25" stroke-linecap="round"/>
<path d="M328.57 100H328.97M332.98 92.29H333.38M310 93.38H310.4M335.44 83.43H335.84M305.22 90.27H305.62" stroke="#619CFF" stroke-width="1.25" stroke-linecap="round"/>
<path d="M280.51 100.69H280.91M297 98.08H297.4M322.8 94.17H323.2" stroke="#00BA38" stroke-width="1.25" stroke-linecap="round"/>
<path d="M278.46 88.08H278.86" stroke="#619CFF" stroke-width="1.25" stroke-linecap="round"/>
<path d="M328.9 99.98H329.3M284.45 90.29H284.85" stroke="#00BA38" stroke-width="1.25" stroke-linecap="round"/>
<path d="M313.73 100.07H314.13" stroke="#619CFF" stroke-width="1.25" stroke-linecap="round"/>
<path d="M293.8 97.24H294.2M357.55 99.6H357.95" stroke="#00BA38" stroke-width="1.25" stroke-linecap="round"/>
<path d="M335.36 95.86H335.76" stroke="#619CFF" stroke-width="1.25" stroke-linecap="round"/>
<path d="M279.74 100.16H280.14" stroke="#00BA38" stroke-width="1.25" stroke-linecap="round"/>
<path d="M302.62 98.19H303.02M332.12 94.24H332.52" stroke="#619CFF" stroke-width="1.25" stroke-linecap="round"/>
<path d="M295.29 92.16H295.69" stroke="#00BA38" stroke-width="1.25" stroke-linecap="round"/>
<path d="M316.52 96.56H316.92M315.03 92.59H315.43" stroke="#619CFF" stroke-width="1.25" stroke-linecap="round"/>
<path d="M295.39 96.07H295.79" stroke="#00BA38" stroke-width="1.25" stroke-linecap="round"/>
<path d="M341.15 97.93H341.55" stroke="#619CFF" stroke-width="1.25" stroke-linecap="round"/>
<path d="M318.19 98.5H318.59" stroke="#00BA38" stroke-width="1.25" stroke-linecap="round"/>
<path d="M294.88 99.32H295.28" stroke="#619CFF" stroke-width="1.25" stroke-linecap="round"/>
<path d="M299.17 97.72H299.57" stroke="#00BA38" stroke-width="1.25" stroke-linecap="round"/>
<path d="M303.33 91.38H303.73" stroke="#619CFF" stroke-width="1.25" stroke-linecap="round"/>
<path d="M310.11 100H310.51M299.69 93.18H300.09" stroke="#00BA38" stroke-width="1.25" stroke-linecap="round"/>
<path d="M320.19 100H320.59" stroke="#619CFF" stroke-width="1.25" stroke-linecap="round"/>
<path d="M356.61 100.52H357.01" stroke="#00BA38" stroke-width="1.25" stroke-linecap="round"/>
<path d="M336.21 96.22H336.61M335.47 98.83H335.87M295.44 91.02H295.84M365.54 93.85H365.94" stroke="#619CFF" stroke-width="1.25" stroke-linecap="round"/>
<path d="M310.96 96.29H311.36M318.79 96.78H319.19M317.74 91.29H318.14M366.84 100.32H367.24M339.28 97.39H339.68M356.6 98.37H357M338.17 100.87H338.57M364.24 99.9H364.64M362.64 94.71H363.04M352.79 91.67H353.19M305.94 98.27H306.34" stroke="#00BA38" stroke-width="1.25" stroke-linecap="round"/>
<path d="M283.7 91.15H284.1" stroke="#619CFF" stroke-width="1.25" stroke-linecap="round"/>
<path d="M288.52 100.37H288.92" stroke="#00BA38" stroke-width="1.25" stroke-linecap="round"/>
<path d="M307.85 96.84H308.25M291.09 100.45H291.49M323.56 94.44H323.96" stroke="#619CFF" stroke-width="1.25" stroke-linecap="round"/>
<path d="M302.95 100.79H303.35M286.13 98.86H286.53M281.49 94.96H281.89M339.32 97.99H339.72" stroke="#00BA38" stroke-width="1.25" stroke-linecap="round"/>
<path d="M302.58 91.25H302.98" stroke="#619CFF" stroke-width="1.25" stroke-linecap="round"/>
<path d="M348.02 87.02H348.42M312.17 100.14H312.57" stroke="#00BA38" stroke-width="1.25" stroke-linecap="round"/>
<path d="M291.43 96.89H291.83M307.16 92.03H307.56" stroke="#619CFF" stroke-width="1.25" stroke-linecap="round"/>
<path d="M306.39 96.08H306.79M292.64 96.49H293.04M347.65 93.98H348.05" stroke="#00BA38" stroke-width="1.25" stroke-linecap="round"/>
<path d="M350.87 96.94H351.27M362.45 93.39H362.85" stroke="#619CFF" stroke-width="1.25" stroke-linecap="round"/>
<path d="M290.9 100.35H291.3" stroke="#00BA38" stroke-width="1.25" stroke-linecap="round"/>
<path d="M295.47 93.39H295.87" stroke="#619CFF" stroke-width="1.25" stroke-linecap="round"/>
<path d="M372.45 96.01H372.85" stroke="#00BA38" stroke-width="1.25" stroke-linecap="round"/>
<path d="M315.1 99.53H315.5" stroke="#619CFF" stroke-width="1.25" stroke-linecap="round"/>
<path d="M320.91 93.62H321.31" stroke="#00BA38" stroke-width="1.25" stroke-linecap="round"/>
<path d="M289.23 87.55H289.63" stroke="#619CFF" stroke-width="1.25" stroke-linecap="round"/>
<path d="M308.09 100.26H308.49M316.87 94.97H317.27M289.1 84.77H289.5" stroke="#00BA38" stroke-width="1.25" stroke-linecap="round"/>
<path d="M348.91 96.66H349.31M309.93 99.01H310.33M314.34 100.59H314.74M280.38 94.13H280.78" stroke="#619CFF" stroke-width="1.25" stroke-linecap="round"/>
<path d="M360.47 89.45H360.87" stroke="#00BA38" stroke-width="1.25" stroke-linecap="round"/>
<path d="M333.7 85.51H334.1M334.19 97.77H334.59" stroke="#619CFF" stroke-width="1.25" stroke-linecap="round"/>
<path d="M327.1 95.93H327.5M365.26 97.49H365.66M314.49 88.54H314.89M334.35 97.88H334.75M296.58 92.31H296.98" stroke="#00BA38" stroke-width="1.25" stroke-linecap="round"/>
<path d="M322.28 96.31H322.68" stroke="#619CFF" stroke-width="1.25" stroke-linecap="round"/>
<path d="M327.96 96.42H328.36" stroke="#00BA38" stroke-width="1.25" stroke-linecap="round"/>
<path d="M367.8 94.52H368.2M289.41 93.64H289.81" stroke="#619CFF" stroke-width="1.25" stroke-linecap="round"/>
<path d="M344.94 99.85H345.34" stroke="#00BA38" stroke-width="1.25" stroke-linecap="round"/>
<path d="M321.46 100.86H321.86" stroke="#619CFF" stroke-width="1.25" stroke-linecap="round"/>
<path d="M301.99 100.34H302.39" stroke="#00BA38" stroke-width="1.25" stroke-linecap="round"/>
<path d="M288.49 98.83H288.89M330.37 94.31H330.77M341.88 94.28H342.28M322.51 96.27H322.91" stroke="#619CFF" stroke-width="1.25" stroke-linecap="round"/>
<path d="M363.44 95.21H363.84M298.57 94.03H298.97" stroke="#00BA38" stroke-width="1.25" stroke-linecap="round"/>
<path d="M367.42 98.07H367.82" stroke="#619CFF" stroke-width="1.25" stroke-linecap="round"/>
<path d="M284.53 93.34H284.93M315 95.66H315.4M336.24 100.23H336.64M349.45 91.82H349.85" stroke="#00BA38" stroke-width="1.25" stroke-linecap="round"/>
<path d="M298.58 96.53H298.98" stroke="#619CFF" stroke-width="1.25" stroke-linecap="round"/>
<path d="M354.4 100.35H354.8" stroke="#00BA38" stroke-width="1.25" stroke-linecap="round"/>
<path d="M283.71 95.34H284.11" stroke="#619CFF" stroke-width="1.25" stroke-linecap="round"/>
<path d="M281.17 98.68H281.57M301.45 100.73H301.85" stroke="#00BA38" stroke-width="1.25" stroke-linecap="round"/>
<path d="M283.96 95.05H284.36M308.95 94.38H309.35" stroke="#619CFF" stroke-width="1.25" stroke-linecap="round"/>
<path d="M281.37 94.92H281.77" stroke="#00BA38" stroke-width="1.25" stroke-linecap="round"/>
<path d="M320.98 97.38H321.38M312.22 100.65H312.62M279.48 98.5H279.88M291.32 96.55H291.72M350.81 95.85H351.21" stroke="#619CFF" stroke-width="1.25" stroke-linecap="round"/>
<path d="M361.1 87.45H361.5M308.57 100.7H308.97" stroke="#00BA38" stroke-width="1.25" stroke-linecap="round"/>
<path d="M326.8 97.57H327.2M335.46 99.7H335.86M344.1 95.32H344.5" stroke="#619CFF" stroke-width="1.25" stroke-linecap="round"/>
<path d="M366.82 90.65H367.22M305 92.58H305.4" stroke="#00BA38" stroke-width="1.25" stroke-linecap="round"/>
<path d="M327.56 94.23H327.96M367.45 92.91H367.85" stroke="#619CFF" stroke-width="1.25" stroke-linecap="round"/>
<path d="M297.7 96.5H298.1M361.05 98.58H361.45" stroke="#00BA38" stroke-width="1.25" stroke-linecap="round"/>
<path d="M303.73 92.81H304.13" stroke="#619CFF" stroke-width="1.25" stroke-linecap="round"/>
<path d="M281.49 98.24H281.89" stroke="#00BA38" stroke-width="1.25" stroke-linecap="round"/>
<path d="M338.72 96.93H339.12" stroke="#619CFF" stroke-width="1.25" stroke-linecap="round"/>
<path d="M322.41 99.91H322.81" stroke="#00BA38" stroke-width="1.25" stroke-linecap="round"/>
<path d="M294.01 89.96H294.41M360.73 98.75H361.13M337.18 92.02H337.58M293.49 92.79H293.89" stroke="#619CFF" stroke-width="1.25" stroke-linecap="round"/>
<path d="M338.79 98.39H339.19" stroke="#00BA38" stroke-width="1.25" stroke-linecap="round"/>
<path d="M287.2 92.97H287.6M357.32 82.81H357.72M349.88 83.26H350.28M344.81 97.12H345.21M284.65 95.17H285.05M290.65 96.39H291.05M288.1 97.71H288.5M303.51 93.57H303.91" stroke="#619CFF" stroke-width="1.25" stroke-linecap="round"/>
<path d="M353.71 100.55H354.11M368.72 98.31H369.12" stroke="#00BA38" stroke-width="1.25" stroke-linecap="round"/>
<path d="M345.83 98.73H346.23M338.2 90.66H338.6" stroke="#619CFF" stroke-width="1.25" stroke-linecap="round"/>
<path d="M318.09 92.5H318.49M284.52 99H284.92" stroke="#00BA38" stroke-width="1.25" stroke-linecap="round"/>
<path d="M283.35 94.8H283.75M299.82 98.31H300.22M327.48 94.42H327.88" stroke="#619CFF" stroke-width="1.25" stroke-linecap="round"/>
<path d="M328.84 94.39H329.24" stroke="#00BA38" stroke-width="1.25" stroke-linecap="round"/>
<path d="M363.31 98.47H363.71M361.84 97.7H362.24M320.1 100.82H320.5M284.09 96.3H284.49M280.63 97.34H281.03M350.26 97.75H350.66" stroke="#619CFF" stroke-width="1.25" stroke-linecap="round"/>
<path d="M279.65 96.87H280.05" stroke="#00BA38" stroke-width="1.25" stroke-linecap="round"/>
<path d="M299.19 90.73H299.59" stroke="#619CFF" stroke-width="1.25" stroke-linecap="round"/>
<path d="M372.12 98.98H372.52" stroke="#00BA38" stroke-width="1.25" stroke-linecap="round"/>
<path d="M304.65 98.19H305.05" stroke="#619CFF" stroke-width="1.25" stroke-linecap="round"/>
<path d="M307.22 89.41H307.62M361.71 89.78H362.11M356.58 94.06H356.98" stroke="#00BA38" stroke-width="1.25" stroke-linecap="round"/>
<path d="M308.63 88.36H309.03M291.38 95.62H291.78M319.29 96.14H319.69" stroke="#619CFF" stroke-width="1.25" stroke-linecap="round"/>
<path d="M303.5 100.8H303.9M345.96 95.17H346.36M363.52 96.24H363.92M309.58 97.73H309.98M300.25 96.55H300.65M285.59 98.27H285.99M284.39 90.47H284.79M305.71 98.22H306.11M360.21 95H360.61M303.31 97.68H303.71M290.57 93.12H290.97" stroke="#00BA38" stroke-width="1.25" stroke-linecap="round"/>
<path d="M279.7 94.93H280.1" stroke="#619CFF" stroke-width="1.25" stroke-linecap="round"/>
<path d="M348.33 98.83H348.73" stroke="#00BA38" stroke-width="1.25" stroke-linecap="round"/>
<path d="M335.43 98.45H335.83" stroke="#619CFF" stroke-width="1.25" stroke-linecap="round"/>
<path d="M303.98 100.22H304.38M319.98 94.62H320.38M286.56 98.62H286.96M303.47 97.44H303.87" stroke="#00BA38" stroke-width="1.25" stroke-linecap="round"/>
<path d="M310.84 96.11H311.24" stroke="#619CFF" stroke-width="1.25" stroke-linecap="round"/>
<path d="M347.62 95.5H348.02M340.96 92.67H341.36" stroke="#00BA38" stroke-width="1.25" stroke-linecap="round"/>
<path d="M326.73 99.94H327.13" stroke="#619CFF" stroke-width="1.25" stroke-linecap="round"/>
<path d="M363.75 93.82H364.15M367.69 96.31H368.09M292.82 94.59H293.22" stroke="#00BA38" stroke-width="1.25" stroke-linecap="round"/>
<path d="M299.6 97.77H300" stroke="#619CFF" stroke-width="1.25" stroke-linecap="round"/>
<path d="M347.4 98.94H347.8" stroke="#00BA38" stroke-width="1.25" stroke-linecap="round"/>
<path d="M292.77 99.56H293.17" stroke="#619CFF" stroke-width="1.25" stroke-linecap="round"/>
<path d="M301.39 98.15H301.79" stroke="#00BA38" stroke-width="1.25" stroke-linecap="round"/>
<path d="M323.77 92.77H324.17M372.4 100.77H372.8" stroke="#619CFF" stroke-width="1.25" stroke-linecap="round"/>
<path d="M370.15 95.94H370.55" stroke="#00BA38" stroke-width="1.25" stroke-linecap="round"/>
<path d="M310.53 78.65H310.93" stroke="#619CFF" stroke-width="1.25" stroke-linecap="round"/>
<path d="M366.02 99.64H366.42M355.2 98.29H355.6M330.86 100.59H331.26" stroke="#00BA38" stroke-width="1.25" stroke-linecap="round"/>
<path d="M354.38 96.43H354.78" stroke="#619CFF" stroke-width="1.25" stroke-linecap="round"/>
<path d="M347.26 96.16H347.66" stroke="#00BA38" stroke-width="1.25" stroke-linecap="round"/>
<path d="M339.77 93.42H340.17" stroke="#619CFF" stroke-width="1.25" stroke-linecap="round"/>
<path d="M327.84 97.06H328.24" stroke="#00BA38" stroke-width="1.25" stroke-linecap="round"/>
<path d="M319.9 96.21H320.3M312.72 100.88H313.12" stroke="#619CFF" stroke-width="1.25" stroke-linecap="round"/>
<path d="M353.8 94.36H354.2M288 89.31H288.4M330.24 88.83H330.64" stroke="#00BA38" stroke-width="1.25" stroke-linecap="round"/>
<path d="M360.08 98.26H360.48M345.33 100.68H345.73" stroke="#619CFF" stroke-width="1.25" stroke-linecap="round"/>
<path d="M283.14 100.91H283.54M356.15 94.77H356.55M280.92 95.92H281.32M311.74 91.38H312.14" stroke="#00BA38" stroke-width="1.25" stroke-linecap="round"/>
<path d="M318.01 94.72H318.41" stroke="#619CFF" stroke-width="1.25" stroke-linecap="round"/>
<path d="M281.27 95.88H281.67" stroke="#00BA38" stroke-width="1.25" stroke-linecap="round"/>
<path d="M330.83 98.46H331.23M295.87 92.83H296.27" stroke="#619CFF" stroke-width="1.25" stroke-linecap="round"/>
<path d="M325.76 93.15H326.16" stroke="#00BA38" stroke-width="1.25" stroke-linecap="round"/>
<path d="M300.24 94.21H300.64" stroke="#619CFF" stroke-width="1.25" stroke-linecap="round"/>
<path d="M332.76 97.37H333.16" stroke="#00BA38" stroke-width="1.25" stroke-linecap="round"/>
<path d="M344.55 97.27H344.95M348.77 94.7H349.17" stroke="#619CFF" stroke-width="1.25" stroke-linecap="round"/>
<path d="M282 86.85H282.4" stroke="#00BA38" stroke-width="1.25" stroke-linecap="round"/>
<path d="M367.77 100.81H368.17M314.27 95.93H314.67" stroke="#619CFF" stroke-width="1.25" stroke-linecap="round"/>
<path d="M309.1 99.89H309.5" stroke="#00BA38" stroke-width="1.25" stroke-linecap="round"/>
<path d="M357.5 91.25H357.9" stroke="#619CFF" stroke-width="1.25" stroke-linecap="round"/>
<path d="M336.59 97.99H336.99" stroke="#00BA38" stroke-width="1.25" stroke-linecap="round"/>
<path d="M355.13 100.06H355.53M348.03 92.77H348.43" stroke="#619CFF" stroke-width="1.25" stroke-linecap="round"/>
<path d="M302.92 98.07H303.32M355.81 99.55H356.21" stroke="#00BA38" stroke-width="1.25" stroke-linecap="round"/>
<path d="M300.9 93.7H301.3M288.69 100.19H289.09" stroke="#619CFF" stroke-width="1.25" stroke-linecap="round"/>
<path d="M336.95 99.46H337.35" stroke="#00BA38" stroke-width="1.25" stroke-linecap="round"/>
<path d="M357.14 100.38H357.54M302.78 98.08H303.18M308.28 96.02H308.68" stroke="#619CFF" stroke-width="1.25" stroke-linecap="round"/>
<path d="M342.23 96.65H342.63" stroke="#00BA38" stroke-width="1.25" stroke-linecap="round"/>
<path d="M295.63 91.53H296.03M322.08 99.19H322.48M280.24 95.67H280.64M286.71 99.42H287.11M321.31 88.75H321.71M299.65 97.55H300.05M305.5 98.35H305.9M327.77 99.56H328.17M334.61 97.63H335.01M288.92 90.2H289.32M316.65 96.94H317.05M357.53 100.65H357.93M336.21 99.42H336.61M323.05 96.88H323.45M332.72 91.95H333.12M315.69 94.64H316.09M285.83 99.4H286.23M292.94 97.97H293.34M304.15 99.2H304.55M322.64 96.89H323.04M308.52 92.55H308.92M289.6 100.13H290M297 95.9H297.4M352.87 97.76H353.27M366.72 97.99H367.12M352.61 100.48H353.01M354.5 91.22H354.9M310.82 99.38H311.22M333.26 96.68H333.66M371.46 95.98H371.86M283.19 100.57H283.59M357.77 99.72H358.17M293.18 88.68H293.58M286.66 93.02H287.06M358.97 98H359.37M320.21 94.95H320.61M300.05 95.71H300.45M334.21 96.09H334.61M299.48 98.24H299.88M329.91 95.57H330.31M288.3 93.07H288.7M372.17 94.91H372.57M351.77 96.93H352.17M330.32 99.75H330.72M322.47 97.43H322.87M281.35 89.74H281.75M283.34 91.31H283.74M344.9 94.45H345.3M305.12 96.98H305.52M329.56 100.5H329.96M361.79 94.29H362.19M282.44 95.45H282.84M305.78 100.51H306.18M350.02 99.25H350.42M364.38 93.82H364.78M280.69 94.17H281.09M353.75 95.94H354.15M319.92 99.64H320.32M371.05 100.3H371.45M298.38 87.34H298.78M364.25 99.42H364.65M322.18 99.25H322.58M295.75 97.37H296.15M359.12 97.29H359.52M365.98 98.4H366.38M329.99 82.02H330.39M290.08 96.28H290.48M345.08 97.34H345.48M334.52 98.13H334.92M338.99 91.59H339.39M318.57 99.98H318.97M354.31 90.52H354.71M353.4 100.52H353.8M341.51 92.34H341.91M302.59 95.04H302.99M372.17 88.31H372.57M314.08 97.52H314.48M355.72 88.77H356.12M367.06 95.98H367.46M321.15 96.58H321.55M354.25 91.8H354.65M307.53 100.89H307.93M364.87 98.4H365.27M345.32 97.12H345.72M301.37 99.99H301.77M288.5 96.4H288.9M321.82 93.09H322.22M337.47 97.01H337.87M325.41 96.94H325.81M342.45 90.34H342.85M359.74 92.37H360.14M281.61 96.58H282.01M361.7 94.67H362.1M324.55 89.41H324.95M346.66 90.29H347.06M354.7 98.31H355.1M286.45 99.95H286.85M369.37 94.81H369.77M333.04 96.53H333.44M293.08 99.34H293.48M315.8 95.29H316.2M357.47 91.85H357.87M363.3 97.38H363.7M320.66 94.41H321.06M306.2 97.71H306.6M362.16 100.87H362.56M283.81 96.24H284.21M285.75 96.93H286.15M367.06 99.75H367.46M341.04 95.84H341.44M332.75 89.89H333.15M346.23 93.88H346.63M308.71 92.9H309.11M296.3 99.09H296.7M324.41 99.49H324.81M295.46 98.28H295.86M339.83 96.71H340.23M279.01 91.07H279.41M362.64 96.59H363.04M357.09 93.67H357.49M304.94 98.97H305.34M295.76 90.31H296.16M290.72 95.83H291.12M322.39 93.05H322.79M310.83 92.26H311.23M344.19 87.54H344.59M372.51 99.52H372.91M343.6 99.52H344M354.59 94.71H354.99M286.11 98.24H286.51M291.63 100.21H292.03M360.34 87.48H360.74M338.68 96.61H339.08M278.77 98.77H279.17M332.11 100.36H332.51M282.82 86.14H283.22M362.72 96.35H363.12M364.67 100.14H365.07M321.68 95.07H322.08M306.58 98.75H306.98M342.1 96.61H342.5M313.53 94.93H313.93M328.47 88.96H328.87M333.36 94.85H333.76M304.53 98.8H304.93M335.12 98.17H335.52M317.13 94.86H317.53M299.29 98.09H299.69M286.54 97.96H286.94M280.86 98.46H281.26M289.5 96.72H289.9M339.88 95.8H340.28M317.18 99.4H317.58M287.72 100.08H288.12M352.47 98.68H352.87M306.36 95.94H306.76M327.71 92.49H328.11M353.32 96.13H353.72M331.1 100.76H331.5M350.23 100.14H350.63M316.26 98.84H316.66M288.87 97.76H289.27M348.07 98.03H348.47M292.43 97.7H292.83M343.82 95.44H344.22M286.9 94.8H287.3M362.29 93H362.69M346.51 98.84H346.91M298.65 97.7H299.05M336.46 94.32H336.86M295.1 94.76H295.5M324.72 100.8H325.12M334.33 92.74H334.73M360.07 95.2H360.47M340.17 96.74H340.57M326.32 94.18H326.72M315.9 96.92H316.3M317.29 99.52H317.69M356.99 91.43H357.39M314.53 99.12H314.93M347.64 93.41H348.04M367.89 96.81H368.29M294 97.59H294.4M322.69 94.88H323.09M343.67 89.2H344.07M301.86 89.83H302.26M331.21 94.82H331.61M335.32 93.58H335.72M284.57 100.56H284.97M311.13 99.85H311.53M350.97 92.27H351.37M298.79 97.46H299.19M288.57 99.08H288.97M363.32 94.74H363.72M295.95 95.18H296.35M301.76 100.8H302.16M336.76 99.06H337.16M358.5 90.82H358.9M293.08 88.52H293.48M369.53 98.94H369.93M308.49 98H308.89M291.57 93.8H291.97M330.95 97.03H331.35M364.27 93.88H364.67M372.14 92.94H372.54M288.48 97.36H288.88M341.52 91.3H341.92M338.16 92.73H338.56M323.17 98.96H323.57M364.58 88.72H364.98M320.23 91.56H320.63M310.58 97.51H310.98M336.46 98.95H336.86M326.71 93.23H327.11M331.15 100.66H331.55M301.91 94.63H302.31M364.58 100.53H364.98M316.67 94.34H317.07M335.27 97.53H335.67M336.1 88.76H336.5M366.54 96.4H366.94M295.11 96.29H295.51M337.13 92.65H337.53M340.21 100.62H340.61M343.46 96.27H343.86M367.51 92.99H367.91M319.48 92.52H319.88M345.44 95.67H345.84M359.56 93.54H359.96M290.97 95.35H291.37M294.34 97.72H294.74M312.94 96.19H313.34M284.02 98.29H284.42M318 97.53H318.4M334.84 99.99H335.24M370.96 98.17H371.36M366.39 96.86H366.79M318.71 90.45H319.11M335.03 90.64H335.43M310.6 91.46H311M307.54 92.48H307.94M298.88 97.14H299.28M299.54 97.9H299.94M281.33 91.56H281.73M366.2 95.89H366.6M348.62 98.81H349.02M335.47 95.99H335.87M356.52 97.15H356.92M297.92 94.43H298.32M372.21 97.22H372.61M338.14 93.9H338.54M355.37 99.47H355.77M317.72 84.87H318.12M318.03 96.4H318.43M313.79 100.88H314.19M311.64 88.83H312.04M354.58 98.22H354.98M335.17 99.8H335.57M371.32 95.95H371.72M308.11 91.58H308.51M289.99 99.63H290.39M281.29 100.89H281.69M350.47 98.1H350.87M354.04 99.27H354.44M326.09 96.33H326.49M320.92 93.3H321.32M278.65 99.68H279.05M307.37 100.25H307.77M342.02 95.04H342.42M360.39 95.49H360.79M355.23 96.98H355.63M312.54 100.65H312.94M359.02 99.95H359.42M314.81 93.74H315.21M348.76 97.57H349.16M334.06 99.32H334.46M293.42 99.33H293.82M354.91 94.23H355.31M338.76 97.16H339.16M371.74 98.59H372.14M351.61 96.46H352.01M353.37 94.8H353.77M353.16 100.35H353.56M344.03 100.36H344.43M283.3 87.82H283.7M352.38 95.27H352.78M337.14 93.67H337.54M279.33 98.92H279.73M321.79 94.28H322.19M290.86 78.63H291.26M363.03 97.24H363.43M348.49 100.87H348.89M321.19 93.68H321.59M362.95 96.17H363.35M363.64 98.5H364.04M290.72 95.69H291.12M335.84 96.88H336.24M326.9 95.47H327.3M364.24 93.16H364.64M354.61 99.14H355.01M314.36 95.01H314.76M354.24 95.95H354.64M325.47 100.54H325.87M298.13 96.98H298.53M353.55 99.37H353.95M327.75 98.11H328.15M343.71 98.01H344.11M345.78 95.02H346.18M361.86 96.76H362.26M336.02 93.68H336.42M291.58 91.83H291.98M316.8 98.57H317.2M357.08 96.93H357.48M314.13 100.03H314.53M358.22 95.22H358.62M357.61 97.74H358.01M303.05 100.55H303.45M317.6 96.64H318M371.6 94.07H372M319.17 94.96H319.57M305.95 100.9H306.35M347.11 89.92H347.51M344.16 93.6H344.56M285.93 89.91H286.33M289.02 96.49H289.42M312.35 93.13H312.75M372.87 91.6H373.27M320.68 99.71H321.08M306.02 95.52H306.42M301.26 92.43H301.66M282.15 99.11H282.55M344.86 96.73H345.26M298.99 94.83H299.39M290.27 100.42H290.67M286.49 96.56H286.89M332.17 97.79H332.57M355.03 97.03H355.43M353.05 96.17H353.45M319.32 94.86H319.72M340.36 100.21H340.76M306.35 98.38H306.75M316.81 85.38H317.21M312.72 91.88H313.12M297.65 95.24H298.05M293.61 99.95H294.01M369.51 96.46H369.91M298.9 97.81H299.3M359.56 80.97H359.96M303.94 92.38H304.34M299.31 98.55H299.71M338.44 95.46H338.84M302.36 95.15H302.76M345.54 99.19H345.94" stroke="#619CFF" stroke-width="1.25" stroke-linecap="round"/>
</g>
<g clip-path="url(#cp10)">
<polyline points="32.3,194.57 137.25,194.57" fill="none" stroke="#F8766D" stroke-width="1.5" stroke-linejoin="round" stroke-linecap="round"/>
<path d="M32.3 193.6h0M32.6 190.5h0M33 186.5h0M33.4 182.5h0M33.9 176.5h0M34.3 172.5h0" stroke="#00BA38" stroke-width="1.56" stroke-linecap="round"/>
<polyline points="34.9,167.6 36.5,165.6 38.3,164 39.3,163" fill="none" stroke="#00BA38" stroke-width="1.5" stroke-linejoin="round" stroke-linecap="round"/>
<path d="M39.7 160.3h0" stroke="#00BA38" stroke-width="1.56" stroke-linecap="round"/>
<polyline points="40.1,155.2 41,153.5 41.9,152.1" fill="none" stroke="#00BA38" stroke-width="1.5" stroke-linejoin="round" stroke-linecap="round"/>
<polyline points="42.27,146.6 42.8,146.84 43.32,147.07 43.84,147.31 44.37,147.55 44.89,147.78 45.42,148.02 45.94,148.25 46.47,148.48 46.99,148.71 47.52,148.94 48.04,149.17 48.57,149.4 49.09,149.62 49.62,149.85 50.14,150.07 50.67,150.3 51.19,150.52 51.72,150.74 52.24,150.96 52.77,151.17 53.29,151.39 53.81,151.61 54.34,151.82 54.86,152.04 55.39,152.25 55.91,152.46 56.44,152.67 56.96,152.88 57.49,153.09 58.01,153.3 58.54,153.5 59.06,153.71 59.59,153.91 60.11,154.12 60.64,154.32 61.16,154.52 61.69,154.72 62.21,154.92 62.74,155.12 63.26,155.32 63.78,155.51 64.31,155.71 64.83,155.9 65.36,156.1 65.88,156.29 66.41,156.48 66.93,156.67 67.46,156.86 67.98,157.05 68.51,157.24 69.03,157.42 69.56,157.61 70.08,157.79 70.61,157.98 71.13,158.16 71.66,158.34 72.18,158.52 72.71,158.7 73.23,158.88 73.76,159.06 74.28,159.24 74.8,159.42 75.33,159.59 75.85,159.77 76.38,159.94 76.9,160.12 77.43,160.29 77.95,160.46 78.48,160.63 79,160.8 79.53,160.97 80.05,161.14 80.58,161.3 81.1,161.47 81.63,161.64 82.15,161.8 82.68,161.96 83.2,162.13 83.73,162.29 84.25,162.45 84.78,162.61 85.3,162.77 85.82,162.93 86.35,163.09 86.87,163.25 87.4,163.4 87.92,163.56 88.45,163.71 88.97,163.87 89.5,164.02 90.02,164.18 90.55,164.33 91.07,164.48 91.6,164.63 92.12,164.78 92.65,164.93 93.17,165.08 93.7,165.22 94.22,165.37 94.75,165.52 95.27,165.66 95.79,165.81 96.32,165.95 96.84,166.09 97.37,166.24 97.89,166.38 98.42,166.52 98.94,166.66 99.47,166.8 99.99,166.94 100.52,167.08 101.04,167.21 101.57,167.35 102.09,167.49 102.62,167.62 103.14,167.76 103.67,167.89 104.19,168.02 104.72,168.16 105.24,168.29 105.77,168.42 106.29,168.55 106.81,168.68 107.34,168.81 107.86,168.94 108.39,169.07 108.91,169.2 109.44,169.32 109.96,169.45 110.49,169.58 111.01,169.7 111.54,169.82 112.06,169.95 112.59,170.07 113.11,170.19 113.64,170.32 114.16,170.44 114.69,170.56 115.21,170.68 115.74,170.8 116.26,170.92 116.78,171.04 117.31,171.15 117.83,171.27 118.36,171.39 118.88,171.5 119.41,171.62 119.93,171.73 120.46,171.85 120.98,171.96 121.51,172.07 122.03,172.19 122.56,172.3 123.08,172.41 123.61,172.52 124.13,172.63 124.66,172.74 125.18,172.85 125.71,172.96 126.23,173.07 126.76,173.17 127.28,173.28 127.8,173.39 128.33,173.49 128.85,173.6 129.38,173.7 129.9,173.81 130.43,173.91 130.95,174.02 131.48,174.12 132,174.22 132.53,174.32 133.05,174.42 133.58,174.53 134.1,174.63 134.63,174.73 135.15,174.82 135.68,174.92 136.2,175.02 136.73,175.12" fill="none" stroke="#00BA38" stroke-width="1.5" stroke-linejoin="round" stroke-linecap="round"/>
<path d="M32.9 193.4h0M32.95 178.3h0M33 170.2h0M33.05 161.2h0M33.1 151.4h0M33.3 143.5h0M33.4 137.4h0M33.5 132.4h0M33.7 128.5h0M33.9 125.3h0M34.1 122.7h0" stroke="#619CFF" stroke-width="1.56" stroke-linecap="round"/>
<polyline points="34.1,122.7 34.3,120.3 34.6,117.8 35,115.6 35.5,114 36.2,112.8 37.2,112.2 38.5,112 41.9,112 42.8,112.44 43.32,112.85 43.84,113.25 44.37,113.66 44.89,114.06 45.42,114.46 45.94,114.86 46.47,115.25 46.99,115.65 47.52,116.04 48.04,116.43 48.57,116.82 49.09,117.2 49.62,117.59 50.14,117.97 50.67,118.35 51.19,118.73 51.72,119.1 52.24,119.48 52.77,119.85 53.29,120.22 53.81,120.59 54.34,120.96 54.86,121.33 55.39,121.69 55.91,122.05 56.44,122.41 56.96,122.77 57.49,123.13 58.01,123.48 58.54,123.84 59.06,124.19 59.59,124.54 60.11,124.88 60.64,125.23 61.16,125.58 61.69,125.92 62.21,126.26 62.74,126.6 63.26,126.94 63.78,127.27 64.31,127.61 64.83,127.94 65.36,128.27 65.88,128.6 66.41,128.93 66.93,129.25 67.46,129.58 67.98,129.9 68.51,130.22 69.03,130.54 69.56,130.86 70.08,131.18 70.61,131.49 71.13,131.8 71.66,132.12 72.18,132.43 72.71,132.74 73.23,133.04 73.76,133.35 74.28,133.65 74.8,133.95 75.33,134.26 75.85,134.56 76.38,134.85 76.9,135.15 77.43,135.45 77.95,135.74 78.48,136.03 79,136.32 79.53,136.61 80.05,136.9 80.58,137.19 81.1,137.47 81.63,137.75 82.15,138.04 82.68,138.32 83.2,138.6 83.73,138.88 84.25,139.15 84.78,139.43 85.3,139.7 85.82,139.97 86.35,140.25 86.87,140.52 87.4,140.78 87.92,141.05 88.45,141.32 88.97,141.58 89.5,141.84 90.02,142.11 90.55,142.37 91.07,142.63 91.6,142.88 92.12,143.14 92.65,143.4 93.17,143.65 93.7,143.9 94.22,144.16 94.75,144.41 95.27,144.66 95.79,144.9 96.32,145.15 96.84,145.4 97.37,145.64 97.89,145.88 98.42,146.12 98.94,146.37 99.47,146.6 99.99,146.84 100.52,147.08 101.04,147.32 101.57,147.55 102.09,147.78 102.62,148.02 103.14,148.25 103.67,148.48 104.19,148.71 104.72,148.94 105.24,149.16 105.77,149.39 106.29,149.61 106.81,149.84 107.34,150.06 107.86,150.28 108.39,150.5 108.91,150.72 109.44,150.94 109.96,151.15 110.49,151.37 111.01,151.58 111.54,151.8 112.06,152.01 112.59,152.22 113.11,152.43 113.64,152.64 114.16,152.85 114.69,153.06 115.21,153.26 115.74,153.47 116.26,153.67 116.78,153.87 117.31,154.08 117.83,154.28 118.36,154.48 118.88,154.68 119.41,154.88 119.93,155.07 120.46,155.27 120.98,155.46 121.51,155.66 122.03,155.85 122.56,156.04 123.08,156.24 123.61,156.43 124.13,156.62 124.66,156.8 125.18,156.99 125.71,157.18 126.23,157.36 126.76,157.55 127.28,157.73 127.8,157.92 128.33,158.1 128.85,158.28 129.38,158.46 129.9,158.64 130.43,158.82 130.95,158.99 131.48,159.17 132,159.35 132.53,159.52 133.05,159.7 133.58,159.87 134.1,160.04 134.63,160.21 135.15,160.38 135.68,160.55 136.2,160.72 136.73,160.89 137.25,161.06" fill="none" stroke="#619CFF" stroke-width="1.5" stroke-linejoin="round" stroke-linecap="round"/>
</g>
<g clip-path="url(#cp11)">
<polyline points="150.45,194.41 150.97,193.82 151.71,193.57 153.6,193.48 255.4,193.48" fill="none" stroke="#F8766D" stroke-width="1.3" stroke-linejoin="round" stroke-linecap="round"/>
<polyline points="150.45,194.41 150.97,193.82 151.71,193.57 153.6,193.48 255.4,193.48" fill="none" stroke="#00BA38" stroke-width="1.3" stroke-linejoin="round" stroke-linecap="round"/>
<polyline points="150.45,194.41 150.97,193.82 151.71,193.57 153.6,193.48 255.4,193.48" fill="none" stroke="#619CFF" stroke-width="1.3" stroke-linejoin="round" stroke-linecap="round"/>
</g>
<g clip-path="url(#cp12)">
<path d="M268.51 185.49h0M268.61 171.46h0M268.72 160.08h0M268.82 150.87h0M268.93 143.41h0M269.03 137.37h0M269.14 134.92h0M269.24 132.71h0M269.35 130.7h0M269.45 128.89h0" stroke="#F8766D" stroke-width="1.44" stroke-linecap="round"/>
<polyline points="269.56,127.25 269.66,125.76 269.77,124.42 269.87,123.2 269.98,122.1 270.08,121.1 270.19,120.2 270.29,119.38 270.4,118.65 270.5,117.98 270.61,117.37 270.71,116.82 270.82,116.33 270.92,115.88 271.03,115.47 271.13,115.11 271.24,114.77 271.34,114.47 271.45,114.2 271.55,113.96 271.66,113.73 271.76,113.53 271.87,113.35 271.97,113.18 272.08,113.03 272.18,112.9 272.29,112.78 272.39,112.66 272.5,112.56 272.6,112.47 272.71,112.39 272.81,112.32 272.92,112.25 273.02,112.19 273.13,112.13 273.23,112.08 273.34,112.04 273.44,112 273.55,111.96 273.65,111.93 273.76,111.9 273.86,111.87 273.97,111.84 274.07,111.82 274.18,111.8 274.28,111.78 274.38,111.77 274.49,111.75 274.59,111.74 274.7,111.73 274.8,111.71 274.91,111.7 275.01,111.7 275.12,111.69 275.22,111.68 275.33,111.67 275.43,111.67 275.54,111.66 275.64,111.66 275.75,111.65 275.85,111.65 275.96,111.64 276.06,111.64 276.17,111.64 276.27,111.63 276.38,111.63 276.48,111.63 276.59,111.63 276.69,111.63 276.8,111.62 281.04,111.61 373.4,111.61" fill="none" stroke="#F8766D" stroke-width="1.5" stroke-linejoin="round" stroke-linecap="round"/>
<path d="M268.45 194.05h0M268.56 178.39h0M268.66 165.7h0M268.77 155.42h0M268.87 147.1h0M268.98 140.35h0M269.08 137.62h0M269.19 135.15h0M269.29 132.92h0M269.4 130.89h0M269.5 129.06h0" stroke="#00BA38" stroke-width="1.44" stroke-linecap="round"/>
<polyline points="269.61,127.4 269.71,125.9 269.82,124.54 269.92,123.31 270.03,122.2 270.13,121.2 270.24,120.28 270.34,119.46 270.45,118.71 270.55,118.04 270.66,117.43 270.76,116.88 270.87,116.38 270.97,115.92 271.08,115.51 271.18,115.14 271.29,114.81 271.39,114.5 271.5,114.23 271.6,113.98 271.71,113.75 271.81,113.55 271.92,113.37 272.02,113.2 272.13,113.05 272.23,112.91 272.34,112.79 272.44,112.67 272.55,112.57 272.65,112.48 272.76,112.4 272.86,112.32 272.97,112.26 273.07,112.19 273.18,112.14 273.28,112.09 273.39,112.04 273.49,112 273.6,111.96 273.7,111.93 273.81,111.9 273.91,111.87 274.02,111.85 274.12,111.82 274.23,111.8 274.33,111.79 274.44,111.77 274.54,111.75 274.65,111.74 274.75,111.73 274.86,111.72 274.96,111.71 275.06,111.7 275.17,111.69 275.27,111.68 275.38,111.67 275.48,111.67 275.59,111.66 275.69,111.66 275.8,111.65 275.9,111.65 276.01,111.64 276.11,111.64 276.22,111.64 276.32,111.63 276.43,111.63 276.53,111.63 276.64,111.63 276.74,111.63 281.04,111.61 373.4,111.61" fill="none" stroke="#00BA38" stroke-width="1.5" stroke-linejoin="round" stroke-linecap="round"/>
<path d="M268.45 194.57h0M268.55 178.81h0M268.66 166.04h0M268.76 155.7h0M268.87 147.32h0M268.97 140.54h0M269.08 137.79h0M269.18 135.3h0M269.29 133.05h0M269.39 131.01h0M269.5 129.17h0" stroke="#619CFF" stroke-width="1.44" stroke-linecap="round"/>
<polyline points="269.6,127.5 269.71,125.99 269.81,124.63 269.92,123.39 270.02,122.27 270.13,121.26 270.23,120.34 270.34,119.51 270.44,118.76 270.55,118.08 270.65,117.47 270.76,116.91 270.86,116.41 270.97,115.95 271.07,115.54 271.18,115.16 271.28,114.83 271.39,114.52 271.49,114.24 271.6,113.99 271.7,113.77 271.81,113.56 271.91,113.38 272.02,113.21 272.12,113.06 272.23,112.92 272.33,112.79 272.44,112.68 272.54,112.58 272.65,112.49 272.75,112.4 272.86,112.33 272.96,112.26 273.07,112.2 273.17,112.14 273.28,112.09 273.38,112.05 273.49,112 273.59,111.97 273.7,111.93 273.8,111.9 273.91,111.87 274.01,111.85 274.12,111.83 274.22,111.8 274.33,111.79 274.43,111.77 274.54,111.75 274.64,111.74 274.75,111.73 274.85,111.72 274.96,111.71 275.06,111.7 275.17,111.69 275.27,111.68 275.38,111.67 275.48,111.67 275.59,111.66 275.69,111.66 275.8,111.65 275.9,111.65 276.01,111.64 276.11,111.64 276.22,111.64 276.32,111.63 276.43,111.63 276.53,111.63 276.64,111.63 276.74,111.63 281.04,111.61 373.4,111.61" fill="none" stroke="#619CFF" stroke-width="1.5" stroke-linejoin="round" stroke-linecap="round"/>
</g>
<g clip-path="url(#cp20)">
<path d="M35.75 287.78H55.15" stroke="#F8766D" stroke-width="1.5" stroke-linecap="round"/>
<path d="M33.65 287.78H34.25M56.65 287.78H59.65M33.65 284.82H35.05M55.65 284.82H56.25M35.55 281.86H37.15M41.05 281.86H41.15M35.75 278.9H37.45M39.55 278.9H42.25M46.65 278.9H51.45M37.65 275.93H46.15M42.65 272.97H42.75" stroke="#00BA38" stroke-width="1.5" stroke-linecap="round"/>
<path d="M32.25 287.78h0M61.45 287.78H136.75M32.35 284.82h0M58.55 284.82H60.45M32.5 281.86h0M53.25 281.86H58.05M33.15 278.9H33.25M52.75 278.9H53.85M33.65 275.93H33.75M50.85 275.93H52.25M33.95 272.97H34.25M50.55 272.97h0M34.45 270.01h0M48.75 270.01H50.35M34.4 267.05h0M47.65 267.05H48.45M34.75 264.09h0M47.15 264.09H47.45M35.25 261.13H36.35M46.65 261.13H47.25M35.55 258.17H36.05M46.35 258.17H46.45M35.75 255.21H37.55M45.85 255.21H46.45M36.75 252.25H37.85M44.65 252.25H46.25M36.95 249.29H39.35M44.35 249.29H44.85M38.35 246.33H39.35M44.05 246.33H44.35M38.65 243.37H41.15M43.65 243.37H44.15M39.85 240.41H41.35M43.5 240.41h0M40.85 237.45H43.15M41.85 234.49H42.35" stroke="#619CFF" stroke-width="1.5" stroke-linecap="round"/>
</g>
<g clip-path="url(#cp21)">
<path d="M150.45 287.78H191.85M192.75 284.82H196.15M197.15 281.86H201.35M202.55 284.82H224.75M225.95 287.78H255.25" stroke="#F8766D" stroke-width="1.5" stroke-linecap="round"/>
<path d="M150.45 287.78H176.85M178.05 284.82h0M179.25 287.78H199.15M200.35 284.82H209.45M210.65 287.78H255.25" stroke="#00BA38" stroke-width="1.5" stroke-linecap="round"/>
<path d="M150.45 287.78H198.85M199.65 284.82H206.15M206.75 287.78H251.05M252.15 284.82H254.75" stroke="#619CFF" stroke-width="1.5" stroke-linecap="round"/>
<path d="M252.55 287.78H255.25" stroke="#00BA38" stroke-width="1.5" stroke-linecap="round"/>
</g>
<g clip-path="url(#cp22)">
<path d="M268.45 287.78H268.5M268.5 284.82H268.58M268.58 281.86H268.75M268.75 278.9H268.75M268.75 275.93H268.81M268.81 272.97H269.76M269.76 270.01H270.07M270.07 267.05H270.25M270.25 264.09H270.43M270.43 261.13H270.56M270.56 258.17H270.75M270.75 255.21H271M271 252.25H271.06M271.06 249.29H271.41M271.41 246.33H271.64M271.64 243.37H271.91M271.91 246.33H272M272 243.37H272.13M272.13 246.33H272.5M272.5 243.37H272.53M272.53 240.41H273.34M273.34 237.45H273.6M273.6 234.49H273.82M273.82 231.52H273.97M273.97 234.49H274.24M274.24 237.45H274.57M274.57 240.41H275.09M275.09 243.37H275.38M275.38 240.41H275.94M275.94 243.37H276.57M276.57 240.41H276.95M276.95 237.45H277.54M277.54 240.41H277.64M277.64 237.45H278.28M278.28 240.41H278.3M278.3 243.37H278.44M278.44 240.41H278.54M278.54 243.37H279.07M279.07 240.41H279.33M279.33 237.45H279.69M279.69 234.49H280.36M280.36 237.45H280.55M280.55 240.41H280.64M280.64 237.45H280.89M280.89 234.49H280.95M280.95 231.52H281.25M281.25 228.56H281.27M281.27 231.52H281.38M281.38 234.49H282.03M282.03 231.52H282.22M282.22 228.56H282.57M282.57 231.52H282.82M282.82 234.49H283.6M283.6 231.52H283.77M283.77 234.49H283.85M283.85 231.52H285M285 228.56H285.27M285.27 225.6H285.47M285.47 228.56H285.48M285.48 231.52H285.78M285.78 228.56H286.11M286.11 225.6H286.54M286.54 222.64H287.01M287.01 225.6H287.02M287.02 222.64H287.44M287.44 225.6H287.55M287.55 222.64H287.89M287.89 219.68H288.04M288.04 216.72H288.18M288.18 219.68H288.3M288.3 216.72H288.75M288.75 213.76H288.98M288.98 216.72H289.09M289.09 213.76H289.54M289.54 210.8H289.59M289.59 213.76H289.92M289.92 210.8H290.02M290.02 213.76H290.51M290.51 216.72H291.09M291.09 213.76H291.21M291.21 216.72H291.86M291.86 219.68H291.94M291.94 216.72H292.17M292.17 213.76H292.62M292.62 216.72H292.68M292.68 213.76H293.14M293.14 216.72H293.63M293.63 213.76H293.67M293.67 210.8H294.07M294.07 207.84H294.17M294.17 210.8H294.3M294.3 213.76H295M295 210.8H295M295 213.76H295.58M295.58 216.72H295.75M295.75 219.68H296.63M296.63 216.72H297.05M297.05 219.68H297.41M297.41 222.64H297.54M297.54 219.68H297.63M297.63 216.72H297.9M297.9 213.76H298.35M298.35 210.8H298.94M298.94 213.76H299.65M299.65 216.72H300.34M300.34 219.68H300.35M300.35 222.64H300.42M300.42 219.68H300.78M300.78 222.64H300.98M300.98 225.6H301.34M301.34 222.64H301.45M301.45 225.6H301.7M301.7 228.56H301.84M301.84 225.6H302.13M302.13 228.56H302.2M302.2 231.52H302.96M302.96 234.49H303.44M303.44 231.52H303.74M303.74 234.49H303.75M303.75 231.52H303.85M303.85 228.56H304.03M304.03 225.6H304.6M304.6 222.64H304.62M304.62 219.68H304.67M304.67 216.72H305.78M305.78 219.68H305.81M305.81 222.64H305.95M305.95 219.68H306.1M306.1 222.64H306.43M306.43 219.68H306.5M306.5 216.72H306.54M306.54 219.68H306.96M306.96 216.72H306.99M306.99 213.76H307.12M307.12 216.72H307.58M307.58 213.76H308.02M308.02 216.72H308.19M308.19 213.76H308.38M308.38 216.72H308.54M308.54 219.68H308.75M308.75 216.72H308.98M308.98 219.68H309.01M309.01 216.72H309.18M309.18 219.68H310.1M310.1 216.72H310.79M310.79 219.68H310.89M310.89 222.64H310.94M310.94 225.6H311.35M311.35 228.56H311.88M311.88 231.52H312.28M312.28 228.56H312.32M312.32 231.52H312.32M312.32 228.56H312.82M312.82 225.6H312.86M312.86 222.64H313.66M313.66 219.68H313.67M313.67 222.64H313.72M313.72 225.6H314.14M314.14 228.56H315.16M315.16 231.52H315.65M315.65 228.56H316.14M316.14 225.6H316.61M316.61 222.64H317.13M317.13 225.6H317.16M317.16 222.64H317.47M317.47 225.6H317.58M317.58 222.64H317.68M317.68 225.6H318.21M318.21 222.64H318.39M318.39 219.68H318.53M318.53 216.72H318.56M318.56 219.68H319.77M319.77 216.72H320.19M320.19 213.76H320.51M320.51 216.72H320.85M320.85 219.68H321.07M321.07 222.64H321.93M321.93 219.68H321.97M321.97 222.64H322.5M322.5 222.64H322.76M322.76 225.6H323.02M323.02 228.56H323.29M323.29 231.52H323.55M323.55 234.49H323.81M323.81 237.45H324.07M324.07 240.41H324.34M324.34 243.37H324.6M324.6 246.33H324.86M324.86 249.29H325.12M325.12 252.25H325.39M325.39 255.21H325.65M325.65 258.17H326.1M326.1 255.21H326.55M326.55 252.25H327M327 249.29H327.45M327.45 246.33H327.9M327.9 243.37H328.35M328.35 240.41H328.8M328.8 240.41H328.82M328.82 237.45H329.15M329.15 234.49H329.17M329.17 237.45H329.26M329.26 234.49H329.5M329.5 237.45H329.5M329.5 234.49H329.66M329.66 231.52H329.73M329.73 228.56H330.77M330.77 225.6H331.07M331.07 222.64H331.19M331.19 225.6H331.24M331.24 228.56H332.04M332.04 225.6H333.11M333.11 222.64H333.67M333.67 225.6H333.81M333.81 228.56H334.16M334.16 231.52H334.26M334.26 234.49H335.15M335.15 237.45H335.34M335.34 234.49H335.53M335.53 231.52H335.91M335.91 234.49H336.14M336.14 231.52H336.45M336.45 234.49H336.51M336.51 237.45H336.77M336.77 234.49H337.51M337.51 231.52H337.63M337.63 234.49H337.88M337.88 231.52H338.2M338.2 228.56H338.32M338.32 225.6H338.35M338.35 228.56H338.82M338.82 225.6H339.33M339.33 222.64H339.45M339.45 219.68H340.14M340.14 216.72H340.35M340.35 213.76H340.75M340.75 216.72H340.88M340.88 219.68H341.14M341.14 222.64H341.3M341.3 225.6H341.35M341.35 222.64H341.39M341.39 219.68H341.89M341.89 222.64H341.97M341.97 219.68H342.15M342.15 222.64H342.79M342.79 225.6H343.13M343.13 222.64H343.32M343.32 219.68H343.58M343.58 222.64H343.66M343.66 219.68H344.17M344.17 216.72H344.66M344.66 219.68H345.66M345.66 216.72H345.91M345.91 219.68H346.24M346.24 222.64H346.68M346.68 219.68H347.34M347.34 222.64H347.69M347.69 225.6H347.69M347.69 228.56H348.06M348.06 225.6H348.34M348.34 222.64H348.42M348.42 225.6H348.43M348.43 222.64H348.83M348.83 219.68H349.11M349.11 222.64H349.95M349.95 219.68H350.48M350.48 222.64H350.49M350.49 219.68H350.58M350.58 216.72H350.82M350.82 219.68H350.95M350.95 222.64H351.4M351.4 219.68H352.05M352.05 222.64H353.04M353.04 225.6H353.55M353.55 222.64H354.17M354.17 225.6H354.92M354.92 222.64H355.46M355.46 225.6H355.5M355.5 222.64H355.53M355.53 219.68H355.59M355.59 222.64H356.04M356.04 225.6H356.25M356.25 228.56H356.37M356.37 225.6H356.91M356.91 222.64H356.98M356.98 225.6H357.47M357.47 222.64H357.55M357.55 222.64H357.78M357.78 225.6H358.01M358.01 228.56H358.23M358.23 231.52H358.46M358.46 234.49H358.69M358.69 237.45H358.92M358.92 240.41H359.14M359.14 243.37H359.37M359.37 246.33H359.6M359.6 249.29H359.83M359.83 252.25H360.05M360.05 255.21H360.28M360.28 258.17H360.42M360.42 255.21H360.57M360.57 252.25H360.71M360.71 249.29H360.86M360.86 246.33H361M361 243.37H361.14M361.14 240.41H361.29M361.29 237.45H361.43M361.43 234.49H361.57M361.57 231.52H361.72M361.72 228.56H361.86M361.86 225.6H362M362 222.64H362.15M362.15 219.68H362.29M362.29 216.72H362.44M362.44 213.76H362.58M362.58 210.8H362.72M362.72 207.84H362.87M362.87 204.88H363.01M363.01 204.88H363.77M363.77 207.84H364.15M364.15 210.8H364.86M364.86 207.84H364.94M364.94 210.8H365.68M365.68 207.84H365.76M365.76 210.8H365.79M365.79 213.76H365.9M365.9 216.72H366.7M366.7 213.76H367.07M367.07 216.72H367.61M367.61 219.68H368.48M368.48 216.72H368.64M368.64 213.76H369.05M369.05 216.72H369.15M369.15 213.76H369.5M369.5 216.72H369.87M369.87 213.76H370.05M370.05 210.8H370.37M370.37 207.84H370.51M370.51 210.8H370.8M370.8 207.84H370.86M370.86 210.8H371.12M371.12 213.76H371.68M371.68 216.72H372.37M372.37 219.68H372.5M372.5 216.72H372.53M372.53 219.68H373.4" stroke="#F8766D" stroke-width="1.5" stroke-linecap="round"/>
<path d="M268.45 287.78H268.62M268.62 284.82H268.9M268.9 281.86H269.13M269.13 278.9H269.14M269.14 275.93H269.64M269.64 272.97H270.05M270.05 270.01H270.16M270.16 267.05H270.29M270.29 264.09H270.3M270.3 261.13H270.35M270.35 258.17H270.61M270.61 255.21H270.89M270.89 252.25H271.05M271.05 249.29H271.05M271.05 246.33H271.1M271.1 243.37H271.95M271.95 246.33H272.01M272.01 249.29H272.14M272.14 246.33H272.18M272.18 243.37H272.44M272.44 246.33H272.84M272.84 243.37H272.94M272.94 240.41H272.98M272.98 237.45H273.09M273.09 234.49H273.09M273.09 237.45H273.21M273.21 234.49H273.76M273.76 231.52H273.91M273.91 228.56H274.32M274.32 225.6H275.34M275.34 222.64H275.66M275.66 225.6H275.66M275.66 228.56H275.78M275.78 231.52H275.78M275.78 228.56H275.84M275.84 231.52H275.9M275.9 234.49H276.74M276.74 237.45H276.91M276.91 234.49H277.17M277.17 237.45H277.22M277.22 240.41H277.75M277.75 243.37H277.76M277.76 246.33H277.78M277.78 243.37H278.04M278.04 246.33H278.14M278.14 249.29H278.31M278.31 246.33H278.4M278.4 243.37H278.42M278.42 240.41H278.73M278.73 243.37H278.77M278.77 240.41H279.87M279.87 237.45H280.01M280.01 234.49H280.25M280.25 237.45H280.4M280.4 234.49H280.42M280.42 237.45H280.43M280.43 234.49H280.92M280.92 231.52H281.3M281.3 234.49H281.56M281.56 237.45H281.59M281.59 234.49H281.63M281.63 237.45H281.72M281.72 234.49H283.63M283.63 237.45H284.53M284.53 234.49H284.7M284.7 237.45H284.86M284.86 234.49H285M285 231.52H285.13M285.13 234.49H285.98M285.98 231.52H286.18M286.18 228.56H286.2M286.2 225.6H286.75M286.75 228.56H286.89M286.89 231.52H287.32M287.32 234.49H287.6M287.6 237.45H287.71M287.71 234.49H287.8M287.8 231.52H288.22M288.22 234.49H288.31M288.31 237.45H288.57M288.57 234.49H288.57M288.57 231.52H288.65M288.65 234.49H288.82M288.82 237.45H289.07M289.07 240.41H289.16M289.16 237.45H289.49M289.49 240.41H289.58M289.58 243.37H290.01M290.01 240.41H290.84M290.84 243.37H290.99M290.99 240.41H291.03M291.03 243.37H291.61M291.61 240.41H291.87M291.87 237.45H292.19M292.19 234.49H292.58M292.58 231.52H292.9M292.9 228.56H293.21M293.21 231.52H293.5M293.5 234.49H293.51M293.51 231.52H293.68M293.68 234.49H293.74M293.74 237.45H293.98M293.98 234.49H294.15M294.15 231.52H294.16M294.16 228.56H294.29M294.29 225.6H294.36M294.36 222.64H294.62M294.62 219.68H294.95M294.95 222.64H295.06M295.06 225.6H295.06M295.06 222.64H295.19M295.19 219.68H295.24M295.24 222.64H295.43M295.43 219.68H295.76M295.76 216.72H296.01M296.01 213.76H296.26M296.26 216.72H296.81M296.81 219.68H297.4M297.4 222.64H297.59M297.59 219.68H297.91M297.91 222.64H299.18M299.18 225.6H299.52M299.52 222.64H300.42M300.42 219.68H300.46M300.46 222.64H300.85M300.85 219.68H301.2M301.2 222.64H301.39M301.39 219.68H301.48M301.48 216.72H302.63M302.63 213.76H303.56M303.56 216.72H303.85M303.85 213.76H304.99M304.99 216.72H305.16M305.16 213.76H306.35M306.35 216.72H306.46M306.46 219.68H306.51M306.51 222.64H306.74M306.74 219.68H307.28M307.28 222.64H307.29M307.29 225.6H307.4M307.4 228.56H307.89M307.89 225.6H308M308 222.64H309.81M309.81 219.68H310.14M310.14 222.64H310.56M310.56 225.6H311.05M311.05 222.64H311.62M311.62 219.68H311.89M311.89 216.72H312.01M312.01 219.68H312.23M312.23 216.72H312.66M312.66 219.68H312.68M312.68 216.72H312.87M312.87 219.68H313.65M313.65 222.64H313.65M313.65 225.6H313.85M313.85 228.56H314.24M314.24 231.52H314.43M314.43 234.49H314.56M314.56 231.52H315.11M315.11 228.56H315.22M315.22 231.52H315.24M315.24 234.49H315.55M315.55 231.52H315.65M315.65 234.49H316.28M316.28 231.52H316.47M316.47 228.56H316.69M316.69 225.6H316.75M316.75 228.56H317.28M317.28 225.6H317.37M317.37 228.56H317.87M317.87 231.52H317.88M317.88 234.49H318.89M318.89 237.45H319.18M319.18 234.49H319.67M319.67 231.52H319.96M319.96 234.49H320.29M320.29 231.52H320.39M320.39 234.49H320.43M320.43 231.52H320.59M320.59 228.56H320.9M320.9 225.6H320.94M320.94 222.64H320.97M320.97 219.68H321.27M321.27 222.64H322.12M322.12 219.68H322.32M322.32 216.72H322.62M322.62 219.68H323.61M323.61 216.72H323.63M323.63 219.68H323.68M323.68 222.64H323.97M323.97 225.6H324.26M324.26 228.56H324.35M324.35 225.6H324.46M324.46 228.56H324.69M324.69 225.6H324.78M324.78 222.64H325.32M325.32 219.68H325.77M325.77 222.64H325.8M325.8 225.6H325.84M325.84 222.64H326.2M326.2 219.68H326.95M326.95 222.64H327.1M327.1 225.6H327.12M327.12 228.56H327.13M327.13 225.6H328.21M328.21 228.56H328.29M328.29 225.6H329.57M329.57 228.56H330.12M330.12 225.6H330.47M330.47 222.64H330.58M330.58 219.68H330.92M330.92 216.72H331.07M331.07 213.76H331.58M331.58 216.72H332.1M332.1 219.68H332.78M332.78 222.64H333.14M333.14 225.6H333.62M333.62 222.64H333.66M333.66 219.68H333.74M333.74 216.72H334.44M334.44 219.68H334.95M334.95 216.72H335.15M335.15 219.68H335.5M335.5 216.72H335.7M335.7 213.76H335.75M335.75 210.8H335.87M335.87 213.76H336.48M336.48 210.8H336.56M336.56 207.84H336.6M336.6 210.8H336.67M336.67 213.76H336.68M336.68 216.72H336.82M336.82 219.68H337.24M337.24 222.64H337.5M337.5 225.6H337.54M337.54 228.56H337.65M337.65 231.52H338.03M338.03 228.56H338.1M338.1 225.6H338.19M338.19 222.64H338.4M338.4 225.6H338.56M338.56 222.64H338.81M338.81 219.68H339.28M339.28 222.64H339.35M339.35 219.68H339.75M339.75 222.64H340.17M340.17 219.68H341.49M341.49 216.72H341.51M341.51 219.68H341.7M341.7 216.72H341.95M341.95 219.68H342.21M342.21 216.72H342.24M342.24 213.76H342.9M342.9 216.72H343.77M343.77 213.76H343.85M343.85 210.8H343.99M343.99 207.84H344.06M344.06 210.8H344.15M344.15 207.84H344.16M344.16 210.8H344.21M344.21 213.76H344.36M344.36 216.72H344.39M344.39 213.76H344.42M344.42 216.72H345.23M345.23 219.68H345.92M345.92 216.72H345.93M345.93 219.68H346.17M346.17 222.64H346.36M346.36 225.6H346.82M346.82 228.56H346.93M346.93 225.6H347.56M347.56 222.64H347.61M347.61 219.68H347.64M347.64 222.64H348.33M348.33 219.68H348.38M348.38 216.72H348.47M348.47 213.76H348.63M348.63 216.72H348.72M348.72 213.76H349.07M349.07 210.8H349.12M349.12 207.84H349.24M349.24 204.88H349.36M349.36 207.84H349.7M349.7 210.8H350.29M350.29 213.76H350.7M350.7 216.72H350.89M350.89 219.68H351.26M351.26 222.64H351.79M351.79 225.6H351.9M351.9 228.56H352.05M352.05 225.6H352.08M352.08 222.64H352.2M352.2 225.6H352.32M352.32 222.64H352.9M352.9 225.6H352.91M352.91 222.64H352.97M352.97 219.68H353.67M353.67 222.64H354.05M354.05 219.68H354.25M354.25 216.72H354.38M354.38 213.76H354.63M354.63 216.72H355.04M355.04 213.76H355.26M355.26 210.8H355.58M355.58 213.76H356.39M356.39 216.72H356.43M356.43 213.76H357.13M357.13 216.72H357.32M357.32 219.68H357.84M357.84 222.64H358.14M358.14 225.6H358.46M358.46 222.64H359.14M359.14 219.68H359.16M359.16 222.64H359.18M359.18 225.6H359.41M359.41 228.56H359.57M359.57 225.6H359.68M359.68 222.64H360.02M360.02 219.68H360.51M360.51 216.72H360.65M360.65 213.76H361.81M361.81 216.72H362.42M362.42 219.68H362.6M362.6 216.72H363.16M363.16 219.68H363.18M363.18 216.72H363.21M363.21 219.68H364.03M364.03 216.72H364.54M364.54 213.76H364.87M364.87 216.72H365.18M365.18 219.68H365.35M365.35 216.72H365.58M365.58 219.68H365.65M365.65 216.72H365.77M365.77 213.76H365.88M365.88 216.72H366.08M366.08 219.68H366.26M366.26 222.64H366.95M366.95 225.6H367.37M367.37 228.56H367.61M367.61 231.52H367.74M367.74 228.56H368.1M368.1 225.6H368.22M368.22 222.64H368.26M368.26 219.68H368.57M368.57 222.64H369.07M369.07 219.68H370.01M370.01 216.72H370.41M370.41 213.76H370.82M370.82 216.72H371.82M371.82 219.68H372.23M372.23 222.64H372.77M372.77 225.6H372.86M372.86 222.64H373.4" stroke="#00BA38" stroke-width="1.5" stroke-linecap="round"/>
<path d="M268.45 287.78H268.56M268.56 284.82H268.58M268.58 281.86H268.59M268.59 278.9H268.99M268.99 275.93H269.13M269.13 272.97H269.13M269.13 270.01H269.35M269.35 267.05H269.57M269.57 264.09H269.62M269.62 261.13H269.74M269.74 258.17H269.9M269.9 255.21H269.98M269.98 252.25H270M270 249.29H270.2M270.2 246.33H270.3M270.3 243.37H270.36M270.36 240.41H270.44M270.44 243.37H270.49M270.49 246.33H270.86M270.86 243.37H270.96M270.96 240.41H270.96M270.96 237.45H271.56M271.56 234.49H271.81M271.81 231.52H272.07M272.07 234.49H272.13M272.13 231.52H272.16M272.16 228.56H272.17M272.17 225.6H272.42M272.42 228.56H272.61M272.61 225.6H272.99M272.99 222.64H273.32M273.32 219.68H273.64M273.64 222.64H273.66M273.66 225.6H274.01M274.01 222.64H274.13M274.13 225.6H276.47M276.47 222.64H276.93M276.93 225.6H277.04M277.04 228.56H277.05M277.05 225.6H277.47M277.47 228.56H277.98M277.98 225.6H278.14M278.14 228.56H278.43M278.43 225.6H278.63M278.63 228.56H278.91M278.91 225.6H279.52M279.52 222.64H279.74M279.74 219.68H279.93M279.93 216.72H279.96M279.96 219.68H280M280 222.64H280.01M280.01 225.6H280.63M280.63 222.64H281.1M281.1 219.68H281.54M281.54 216.72H281.62M281.62 219.68H281.79M281.79 216.72H282.38M282.38 213.76H282.68M282.68 210.8H283.14M283.14 207.84H283.15M283.15 210.8H283.2M283.2 213.76H284.35M284.35 216.72H284.36M284.36 213.76H284.42M284.42 216.72H284.69M284.69 219.68H284.83M284.83 216.72H285.06M285.06 213.76H285.09M285.09 216.72H285.42M285.42 213.76H285.58M285.58 216.72H285.98M285.98 219.68H286.64M286.64 216.72H286.97M286.97 219.68H287.59M287.59 222.64H287.62M287.62 219.68H287.83M287.83 216.72H288.09M288.09 213.76H288.45M288.45 210.8H288.45M288.45 207.84H288.57M288.57 210.8H288.68M288.68 207.84H288.81M288.81 210.8H288.98M288.98 213.76H288.98M288.98 216.72H289.54M289.54 219.68H289.74M289.74 222.64H290.47M290.47 219.68H290.75M290.75 222.64H290.86M290.86 225.6H291.3M291.3 222.64H291.68M291.68 225.6H291.92M291.92 228.56H291.94M291.94 231.52H292.1M292.1 234.49H292.19M292.19 237.45H292.56M292.56 234.49H293.2M293.2 231.52H293.5M293.5 234.49H293.83M293.83 231.52H293.86M293.86 228.56H294.19M294.19 225.6H294.22M294.22 222.64H294.45M294.45 225.6H294.46M294.46 228.56H294.6M294.6 231.52H294.6M294.6 234.49H294.86M294.86 237.45H295.97M295.97 240.41H296M296 237.45H296.07M296.07 240.41H296.12M296.12 237.45H296.15M296.15 234.49H296.92M296.92 237.45H297.04M297.04 240.41H297.19M297.19 237.45H297.3M297.3 234.49H297.38M297.38 231.52H297.6M297.6 228.56H297.79M297.79 231.52H297.8M297.8 228.56H298.34M298.34 225.6H298.45M298.45 228.56H298.77M298.77 225.6H298.79M298.79 222.64H298.92M298.92 225.6H300.33M300.33 228.56H301.11M301.11 231.52H301.74M301.74 234.49H302.68M302.68 231.52H302.8M302.8 228.56H303.11M303.11 225.6H303.27M303.27 228.56H303.44M303.44 225.6H303.56M303.56 222.64H303.92M303.92 225.6H304.14M304.14 222.64H304.33M304.33 219.68H304.4M304.4 222.64H304.47M304.47 225.6H304.88M304.88 222.64H305.25M305.25 219.68H305.45M305.45 222.64H305.99M305.99 225.6H306.49M306.49 222.64H306.79M306.79 219.68H306.8M306.8 222.64H307.04M307.04 225.6H307.18M307.18 228.56H307.43M307.43 225.6H307.9M307.9 222.64H308.19M308.19 219.68H308.2M308.2 222.64H308.21M308.21 219.68H308.27M308.27 216.72H308.8M308.8 219.68H309.15M309.15 216.72H309.81M309.81 219.68H309.86M309.86 222.64H310.03M310.03 219.68H310.16M310.16 216.72H310.22M310.22 219.68H310.9M310.9 222.64H310.9M310.9 225.6H310.91M310.91 222.64H311.67M311.67 225.6H312.57M312.57 228.56H312.68M312.68 225.6H312.91M312.91 228.56H313M313 225.6H313.52M313.52 222.64H313.87M313.87 225.6H314.87M314.87 222.64H314.94M314.94 225.6H315.36M315.36 222.64H315.42M315.42 219.68H315.68M315.68 222.64H315.77M315.77 219.68H316.16M316.16 216.72H316.73M316.73 219.68H317.65M317.65 222.64H317.91M317.91 219.68H318.46M318.46 216.72H318.65M318.65 219.68H319.77M319.77 222.64H320.71M320.71 225.6H320.75M320.75 222.64H321.58M321.58 225.6H322.89M322.89 222.64H323.18M323.18 225.6H323.47M323.47 228.56H324.71M324.71 225.6H324.73M324.73 228.56H325.03M325.03 225.6H325.7M325.7 222.64H325.75M325.75 219.68H325.77M325.77 216.72H326.22M326.22 219.68H327.34M327.34 216.72H327.4M327.4 213.76H327.64M327.64 210.8H327.91M327.91 213.76H328.15M328.15 216.72H328.62M328.62 219.68H328.68M328.68 216.72H329.65M329.65 219.68H329.77M329.77 222.64H329.84M329.84 225.6H330.22M330.22 222.64H331.48M331.48 225.6H331.59M331.59 228.56H332.6M332.6 225.6H332.6M332.6 222.64H332.63M332.63 225.6H332.77M332.77 228.56H332.84M332.84 225.6H333.08M333.08 222.64H333.22M333.22 219.68H333.29M333.29 222.64H334.33M334.33 219.68H334.67M334.67 216.72H335.41M335.41 219.68H335.42M335.42 222.64H335.51M335.51 219.68H335.52M335.52 222.64H335.99M335.99 219.68H336.26M336.26 222.64H336.29M336.29 225.6H336.76M336.76 228.56H336.78M336.78 231.52H336.99M336.99 234.49H337.12M337.12 237.45H337.69M337.69 234.49H337.89M337.89 237.45H337.9M337.9 240.41H337.98M337.98 237.45H338.07M338.07 240.41H338.25M338.25 243.37H338.27M338.27 246.33H338.61M338.61 243.37H338.67M338.67 240.41H338.81M338.81 237.45H339.58M339.58 234.49H340.42M340.42 231.52H340.74M340.74 234.49H341.02M341.02 231.52H341.03M341.03 228.56H341.19M341.19 231.52H342.29M342.29 234.49H343.36M343.36 231.52H343.37M343.37 228.56H343.38M343.38 225.6H343.7M343.7 222.64H344.06M344.06 219.68H344.17M344.17 222.64H344.24M344.24 225.6H344.53M344.53 228.56H344.58M344.58 231.52H345.25M345.25 228.56H345.46M345.46 231.52H345.65M345.65 234.49H345.94M345.94 231.52H346.28M346.28 234.49H346.45M346.45 231.52H346.76M346.76 228.56H346.79M346.79 225.6H347.36M347.36 228.56H347.38M347.38 225.6H347.72M347.72 228.56H347.77M347.77 231.52H348.14M348.14 228.56H349.08M349.08 231.52H349.08M349.08 228.56H349.49M349.49 225.6H350.76M350.76 228.56H351.24M351.24 225.6H351.25M351.25 228.56H351.49M351.49 225.6H351.76M351.76 228.56H351.92M351.92 231.52H351.97M351.97 234.49H352.3M352.3 231.52H352.49M352.49 234.49H352.6M352.6 237.45H353.21M353.21 240.41H353.27M353.27 243.37H353.48M353.48 246.33H353.49M353.49 243.37H353.62M353.62 246.33H353.74M353.74 243.37H353.79M353.79 246.33H354.22M354.22 243.37H354.24M354.24 240.41H354.71M354.71 237.45H354.87M354.87 234.49H354.89M354.89 237.45H354.93M354.93 234.49H355.59M355.59 231.52H356.02M356.02 234.49H356.1M356.1 231.52H356.17M356.17 234.49H357.17M357.17 237.45H357.34M357.34 234.49H357.49M357.49 237.45H357.57M357.57 234.49H357.89M357.89 231.52H359.24M359.24 234.49H359.29M359.29 231.52H359.57M359.57 228.56H359.8M359.8 231.52H360.3M360.3 228.56H360.57M360.57 231.52H360.61M360.61 228.56H361.16M361.16 225.6H362.17M362.17 222.64H362.21M362.21 219.68H362.42M362.42 216.72H362.49M362.49 219.68H363.24M363.24 222.64H363.62M363.62 219.68H363.91M363.91 216.72H363.93M363.93 219.68H364.03M364.03 216.72H364.55M364.55 213.76H364.63M364.63 210.8H365.19M365.19 213.76H365.24M365.24 210.8H365.84M365.84 207.84H366.13M366.13 210.8H366.35M366.35 213.76H366.5M366.5 210.8H366.76M366.76 207.84H366.91M366.91 210.8H367.03M367.03 213.76H367.26M367.26 216.72H367.57M367.57 213.76H367.99M367.99 216.72H368.4M368.4 219.68H369.03M369.03 222.64H369.15M369.15 219.68H369.29M369.29 216.72H369.37M369.37 213.76H369.38M369.38 216.72H369.38M369.38 219.68H370.02M370.02 222.64H370.04M370.04 225.6H370.12M370.12 228.56H370.46M370.46 225.6H370.68M370.68 228.56H370.76M370.76 231.52H370.83M370.83 228.56H370.91M370.91 225.6H371.58M371.58 222.64H371.9M371.9 219.68H372.05M372.05 222.64H372.35M372.35 219.68H372.81M372.81 216.72H372.82M372.82 219.68H373.4" stroke="#619CFF" stroke-width="1.5" stroke-linecap="round"/>
</g>
<g clip-path="url(#cp30)">
<polyline points="32.3,381.07 32.82,381.07 33.35,381.07 33.87,381.07 34.4,381.07 34.92,381.07 35.45,381.07 35.97,381.07 36.5,381.07 37.02,381.07 37.55,381.07 38.07,381.07 38.6,381.07 39.12,381.07 39.65,381.07 40.17,381.07 40.7,381.07 41.22,381.07 41.75,381.07 42.27,381.07 42.8,381.07 43.32,381.07 43.84,381.07 44.37,381.07 44.89,381.07 45.42,381.07 45.94,381.07 46.47,381.07 46.99,381.07 47.52,381.07 48.04,381.07 48.57,381.07 49.09,381.07 49.62,381.07 50.14,381.07 50.67,381.07 51.19,381.07 51.72,381.07 52.24,381.07 52.77,381.07 53.29,381.07 53.81,381.07 54.34,381.07 54.86,381.07 55.39,381.07 55.91,381.07 56.44,381.07 56.96,381.07 57.49,381.07 58.01,381.07 58.54,381.07 59.06,381.07 59.59,381.07 60.11,381.07 60.64,381.07 61.16,381.07 61.69,381.07 62.21,381.07 62.74,381.07 63.26,381.07 63.78,381.07 64.31,381.07 64.83,381.07 65.36,381.07 65.88,381.07 66.41,381.07 66.93,381.07 67.46,381.07 67.98,381.07 68.51,381.07 69.03,381.07 69.56,381.07 70.08,381.07 70.61,381.07 71.13,381.07 71.66,381.07 72.18,381.07 72.71,381.07 73.23,381.07 73.76,381.07 74.28,381.07 74.8,381.07 75.33,381.07 75.85,381.07 76.38,381.07 76.9,381.07 77.43,381.07 77.95,381.07 78.48,381.07 79,381.07 79.53,381.07 80.05,381.07 80.58,381.07 81.1,381.07 81.63,381.07 82.15,381.07 82.68,381.07 83.2,381.07 83.73,381.07 84.25,381.07 84.78,381.07 85.3,381.07 85.82,381.07 86.35,381.07 86.87,381.07 87.4,381.07 87.92,381.07 88.45,381.07 88.97,381.07 89.5,381.07 90.02,381.07 90.55,381.07 91.07,381.07 91.6,381.07 92.12,381.07 92.65,381.07 93.17,381.07 93.7,381.07 94.22,381.07 94.75,381.07 95.27,381.07 95.79,381.07 96.32,381.07 96.84,381.07 97.37,381.07 97.89,381.07 98.42,381.07 98.94,381.07 99.47,381.07 99.99,381.07 100.52,381.07 101.04,381.07 101.57,381.07 102.09,381.07 102.62,381.07 103.14,381.07 103.67,381.07 104.19,381.07 104.72,381.07 105.24,381.07 105.77,381.07 106.29,381.07 106.81,381.07 107.34,381.07 107.86,381.07 108.39,381.07 108.91,381.07 109.44,381.07 109.96,381.07 110.49,381.07 111.01,381.07 111.54,381.07 112.06,381.07 112.59,381.07 113.11,381.07 113.64,381.07 114.16,381.07 114.69,381.07 115.21,381.07 115.74,381.07 116.26,381.07 116.78,381.07 117.31,381.07 117.83,381.07 118.36,381.07 118.88,381.07 119.41,381.07 119.93,381.07 120.46,381.07 120.98,381.07 121.51,381.07 122.03,381.07 122.56,381.07 123.08,381.07 123.61,381.07 124.13,381.07 124.66,381.07 125.18,381.07 125.71,381.07 126.23,381.07 126.76,381.07 127.28,381.07 127.8,381.07 128.33,381.07 128.85,381.07 129.38,381.07 129.9,381.07 130.43,381.07 130.95,381.07 131.48,381.07 132,381.07 132.53,381.07 133.05,381.07 133.58,381.07 134.1,381.07 134.63,381.07 135.15,381.07 135.68,381.07 136.2,381.07 136.73,381.07 137.25,381.07" fill="none" stroke="#F8766D" stroke-width="1.5" stroke-linejoin="round" stroke-linecap="round"/>
<polyline points="32.3,381.07 32.82,381.07 33.35,381.06 33.87,381.04 34.4,381.01 34.92,380.97 35.45,380.93 35.97,380.88 36.5,380.83 37.02,380.77 37.55,380.71 38.07,380.64 38.6,380.58 39.12,380.52 39.65,380.45 40.17,380.39 40.7,380.32 41.22,380.26 41.75,380.2 42.27,380.13 42.8,380.07 43.32,380.01 43.84,379.94 44.37,379.88 44.89,379.82 45.42,379.75 45.94,379.69 46.47,379.62 46.99,379.56 47.52,379.5 48.04,379.44 48.57,379.38 49.09,379.32 49.62,379.26 50.14,379.2 50.67,379.15 51.19,379.09 51.72,379.04 52.24,378.99 52.77,378.94 53.29,378.89 53.81,378.85 54.34,378.81 54.86,378.77 55.39,378.74 55.91,378.72 56.44,378.7 56.96,378.69 57.49,378.68 58.01,378.67 58.54,378.67 59.06,378.67 59.59,378.67 60.11,378.67 60.64,378.67 61.16,378.67 61.69,378.67 62.21,378.67 62.74,378.67 63.26,378.67 63.78,378.67 64.31,378.67 64.83,378.67 65.36,378.67 65.88,378.67 66.41,378.67 66.93,378.67 67.46,378.67 67.98,378.67 68.51,378.67 69.03,378.67 69.56,378.67 70.08,378.67 70.61,378.67 71.13,378.67 71.66,378.67 72.18,378.67 72.71,378.67 73.23,378.67 73.76,378.67 74.28,378.67 74.8,378.67 75.33,378.67 75.85,378.67 76.38,378.67 76.9,378.67 77.43,378.67 77.95,378.67 78.48,378.67 79,378.67 79.53,378.67 80.05,378.67 80.58,378.67 81.1,378.67 81.63,378.67 82.15,378.67 82.68,378.67 83.2,378.67 83.73,378.67 84.25,378.67 84.78,378.67 85.3,378.67 85.82,378.67 86.35,378.67 86.87,378.67 87.4,378.67 87.92,378.67 88.45,378.67 88.97,378.67 89.5,378.67 90.02,378.67 90.55,378.67 91.07,378.67 91.6,378.67 92.12,378.67 92.65,378.67 93.17,378.67 93.7,378.67 94.22,378.67 94.75,378.67 95.27,378.67 95.79,378.67 96.32,378.67 96.84,378.67 97.37,378.67 97.89,378.67 98.42,378.67 98.94,378.67 99.47,378.67 99.99,378.67 100.52,378.67 101.04,378.67 101.57,378.67 102.09,378.67 102.62,378.67 103.14,378.67 103.67,378.67 104.19,378.67 104.72,378.67 105.24,378.67 105.77,378.67 106.29,378.67 106.81,378.67 107.34,378.67 107.86,378.67 108.39,378.67 108.91,378.67 109.44,378.67 109.96,378.67 110.49,378.67 111.01,378.67 111.54,378.67 112.06,378.67 112.59,378.67 113.11,378.67 113.64,378.67 114.16,378.67 114.69,378.67 115.21,378.67 115.74,378.67 116.26,378.67 116.78,378.67 117.31,378.67 117.83,378.67 118.36,378.67 118.88,378.67 119.41,378.67 119.93,378.67 120.46,378.67 120.98,378.67 121.51,378.67 122.03,378.67 122.56,378.67 123.08,378.67 123.61,378.67 124.13,378.67 124.66,378.67 125.18,378.67 125.71,378.67 126.23,378.67 126.76,378.67 127.28,378.67 127.8,378.67 128.33,378.67 128.85,378.67 129.38,378.67 129.9,378.67 130.43,378.67 130.95,378.67 131.48,378.67 132,378.67 132.53,378.67 133.05,378.67 133.58,378.67 134.1,378.67 134.63,378.67 135.15,378.67 135.68,378.67 136.2,378.67 136.73,378.67 137.25,378.67" fill="none" stroke="#00BA38" stroke-width="1.5" stroke-linejoin="round" stroke-linecap="round"/>
<polyline points="32.3,381.07 32.82,381.06 33.35,381.04 33.87,381 34.4,380.94 34.92,380.87 35.45,380.77 35.97,380.67 36.5,380.54 37.02,380.4 37.55,380.25 38.07,380.07 38.6,379.88 39.12,379.67 39.65,379.45 40.17,379.21 40.7,378.95 41.22,378.68 41.75,378.39 42.27,378.09 42.8,377.78 43.32,377.47 43.84,377.18 44.37,376.9 44.89,376.63 45.42,376.36 45.94,376.1 46.47,375.86 46.99,375.62 47.52,375.39 48.04,375.17 48.57,374.96 49.09,374.76 49.62,374.56 50.14,374.38 50.67,374.2 51.19,374.04 51.72,373.88 52.24,373.73 52.77,373.59 53.29,373.46 53.81,373.34 54.34,373.23 54.86,373.13 55.39,373.03 55.91,372.95 56.44,372.87 56.96,372.8 57.49,372.74 58.01,372.69 58.54,372.65 59.06,372.62 59.59,372.6 60.11,372.59 60.64,372.58 61.16,372.58 61.69,372.58 62.21,372.58 62.74,372.58 63.26,372.58 63.78,372.58 64.31,372.58 64.83,372.58 65.36,372.58 65.88,372.58 66.41,372.58 66.93,372.58 67.46,372.58 67.98,372.58 68.51,372.58 69.03,372.58 69.56,372.58 70.08,372.58 70.61,372.58 71.13,372.58 71.66,372.58 72.18,372.58 72.71,372.58 73.23,372.58 73.76,372.58 74.28,372.58 74.8,372.58 75.33,372.58 75.85,372.58 76.38,372.58 76.9,372.58 77.43,372.58 77.95,372.58 78.48,372.58 79,372.58 79.53,372.58 80.05,372.58 80.58,372.58 81.1,372.58 81.63,372.58 82.15,372.58 82.68,372.58 83.2,372.58 83.73,372.58 84.25,372.58 84.78,372.58 85.3,372.58 85.82,372.58 86.35,372.58 86.87,372.58 87.4,372.58 87.92,372.58 88.45,372.58 88.97,372.58 89.5,372.58 90.02,372.58 90.55,372.58 91.07,372.58 91.6,372.58 92.12,372.58 92.65,372.58 93.17,372.58 93.7,372.58 94.22,372.58 94.75,372.58 95.27,372.58 95.79,372.58 96.32,372.58 96.84,372.58 97.37,372.58 97.89,372.58 98.42,372.58 98.94,372.58 99.47,372.58 99.99,372.58 100.52,372.58 101.04,372.58 101.57,372.58 102.09,372.58 102.62,372.58 103.14,372.58 103.67,372.58 104.19,372.58 104.72,372.58 105.24,372.58 105.77,372.58 106.29,372.58 106.81,372.58 107.34,372.58 107.86,372.58 108.39,372.58 108.91,372.58 109.44,372.58 109.96,372.58 110.49,372.58 111.01,372.58 111.54,372.58 112.06,372.58 112.59,372.58 113.11,372.58 113.64,372.58 114.16,372.58 114.69,372.58 115.21,372.58 115.74,372.58 116.26,372.58 116.78,372.58 117.31,372.58 117.83,372.58 118.36,372.58 118.88,372.58 119.41,372.58 119.93,372.58 120.46,372.58 120.98,372.58 121.51,372.58 122.03,372.58 122.56,372.58 123.08,372.58 123.61,372.58 124.13,372.58 124.66,372.58 125.18,372.58 125.71,372.58 126.23,372.58 126.76,372.58 127.28,372.58 127.8,372.58 128.33,372.58 128.85,372.58 129.38,372.58 129.9,372.58 130.43,372.58 130.95,372.58 131.48,372.58 132,372.58 132.53,372.58 133.05,372.58 133.58,372.58 134.1,372.58 134.63,372.58 135.15,372.58 135.68,372.58 136.2,372.58 136.73,372.58 137.25,372.58" fill="none" stroke="#619CFF" stroke-width="1.5" stroke-linejoin="round" stroke-linecap="round"/>
</g>
<g clip-path="url(#cp31)">
<polyline points="150.45,381.07 192.43,381.07 197.68,380.87 202.93,380.47 208.17,380.35 213.42,380.19 226.01,379.67 255.4,379.59" fill="none" stroke="#F8766D" stroke-width="1.5" stroke-linejoin="round" stroke-linecap="round"/>
<polyline points="150.45,381.07 178.79,381.03 208.17,380.95 255.4,380.87" fill="none" stroke="#00BA38" stroke-width="1.5" stroke-linejoin="round" stroke-linecap="round"/>
<polyline points="150.45,381.07 200.83,381.07 210.27,380.75 251.2,380.75 255.4,380.67" fill="none" stroke="#619CFF" stroke-width="1.5" stroke-linejoin="round" stroke-linecap="round"/>
</g>
<g clip-path="url(#cp32)">
<polyline points="268.45,381.07 268.97,381.02 269.5,380.93 270.02,380.82 270.55,380.67 271.07,380.46 271.6,380.21 272.12,379.92 272.65,379.65 273.17,379.34 273.7,379.02 274.22,378.67 274.75,378.34 275.27,378.04 275.8,377.73 276.32,377.43 276.85,377.13 277.37,376.81 277.9,376.49 278.42,376.18 278.94,375.89 279.47,375.58 279.99,375.25 280.52,374.91 281.04,374.58 281.57,374.23 282.09,373.88 282.62,373.51 283.14,373.16 283.67,372.81 284.19,372.45 284.72,372.09 285.24,371.72 285.77,371.34 286.29,370.96 286.82,370.56 287.34,370.15 287.87,369.74 288.39,369.31 288.92,368.86 289.44,368.4 289.96,367.95 290.49,367.49 291.01,367.05 291.54,366.62 292.06,366.18 292.59,365.73 293.11,365.28 293.64,364.85 294.16,364.38 294.69,363.91 295.21,363.46 295.74,363.01 296.26,362.58 296.79,362.15 297.31,361.72 297.84,361.29 298.36,360.83 298.89,360.36 299.41,359.89 299.94,359.44 300.46,359.01 300.98,358.59 301.51,358.19 302.03,357.8 302.56,357.43 303.08,357.07 303.61,356.72 304.13,356.34 304.66,355.94 305.18,355.49 305.71,355.04 306.23,354.62 306.76,354.19 307.28,353.75 307.81,353.3 308.33,352.85 308.86,352.4 309.38,351.96 309.91,351.53 310.43,351.09 310.95,350.66 311.48,350.26 312,349.89 312.53,349.52 313.05,349.12 313.58,348.71 314.1,348.31 314.63,347.94 315.15,347.56 315.68,347.2 316.2,346.82 316.73,346.42 317.25,346.01 317.78,345.61 318.3,345.21 318.83,344.79 319.35,344.37 319.88,343.94 320.4,343.49 320.93,343.05 321.45,342.63 321.97,342.22 322.5,341.81 323.02,341.4 323.55,341.03 324.07,340.69 324.6,340.39 325.12,340.12 325.65,339.88 326.17,339.66 326.7,339.42 327.22,339.16 327.75,338.88 328.27,338.59 328.8,338.27 329.32,337.94 329.85,337.58 330.37,337.2 330.9,336.82 331.42,336.42 331.94,336.04 332.47,335.65 332.99,335.26 333.52,334.85 334.04,334.45 334.57,334.09 335.09,333.74 335.62,333.39 336.14,333.03 336.67,332.68 337.19,332.34 337.72,331.99 338.24,331.64 338.77,331.27 339.29,330.88 339.82,330.47 340.34,330.04 340.87,329.58 341.39,329.16 341.91,328.74 342.44,328.32 342.96,327.92 343.49,327.51 344.01,327.08 344.54,326.63 345.06,326.2 345.59,325.78 346.11,325.34 346.64,324.93 347.16,324.51 347.69,324.09 348.21,323.71 348.74,323.3 349.26,322.88 349.79,322.46 350.31,322.04 350.84,321.6 351.36,321.18 351.89,320.76 352.41,320.35 352.93,319.94 353.46,319.55 353.98,319.15 354.51,318.75 355.03,318.36 355.56,317.94 356.08,317.53 356.61,317.14 357.13,316.74 357.66,316.35 358.18,315.96 358.71,315.6 359.23,315.29 359.76,315.01 360.28,314.77 360.81,314.53 361.33,314.23 361.86,313.87 362.38,313.45 362.9,312.97 363.43,312.46 363.95,311.96 364.48,311.47 365,310.98 365.53,310.5 366.05,310.02 366.58,309.57 367.1,309.11 367.63,308.66 368.15,308.24 368.68,307.8 369.2,307.34 369.73,306.88 370.25,306.42 370.78,305.93 371.3,305.46 371.83,305 372.35,304.55 372.88,304.12 373.4,303.69" fill="none" stroke="#F8766D" stroke-width="1.5" stroke-linejoin="round" stroke-linecap="round"/>
<polyline points="268.45,381.07 268.97,381.04 269.5,380.96 270.02,380.84 270.55,380.66 271.07,380.42 271.6,380.12 272.12,379.82 272.65,379.51 273.17,379.18 273.7,378.81 274.22,378.42 274.75,378.03 275.27,377.64 275.8,377.25 276.32,376.89 276.85,376.53 277.37,376.17 277.9,375.84 278.42,375.53 278.94,375.2 279.47,374.86 279.99,374.51 280.52,374.15 281.04,373.78 281.57,373.39 282.09,373.01 282.62,372.63 283.14,372.23 283.67,371.85 284.19,371.47 284.72,371.09 285.24,370.71 285.77,370.32 286.29,369.92 286.82,369.5 287.34,369.09 287.87,368.7 288.39,368.28 288.92,367.87 289.44,367.47 289.96,367.1 290.49,366.72 291.01,366.34 291.54,365.98 292.06,365.61 292.59,365.23 293.11,364.83 293.64,364.43 294.16,364.04 294.69,363.6 295.21,363.17 295.74,362.74 296.26,362.3 296.79,361.85 297.31,361.42 297.84,360.99 298.36,360.55 298.89,360.11 299.41,359.67 299.94,359.23 300.46,358.79 300.98,358.36 301.51,357.94 302.03,357.5 302.56,357.07 303.08,356.63 303.61,356.19 304.13,355.74 304.66,355.28 305.18,354.81 305.71,354.33 306.23,353.86 306.76,353.42 307.28,352.97 307.81,352.55 308.33,352.11 308.86,351.66 309.38,351.21 309.91,350.76 310.43,350.32 310.95,349.88 311.48,349.45 312,349.02 312.53,348.59 313.05,348.15 313.58,347.71 314.1,347.29 314.63,346.9 315.15,346.51 315.68,346.13 316.2,345.75 316.73,345.34 317.25,344.92 317.78,344.51 318.3,344.11 318.83,343.71 319.35,343.32 319.88,342.92 320.4,342.52 320.93,342.1 321.45,341.66 321.97,341.23 322.5,340.79 323.02,340.35 323.55,339.92 324.07,339.51 324.6,339.13 325.12,338.75 325.65,338.36 326.17,337.97 326.7,337.56 327.22,337.16 327.75,336.77 328.27,336.36 328.8,335.96 329.32,335.55 329.85,335.14 330.37,334.74 330.9,334.31 331.42,333.85 331.94,333.41 332.47,332.97 332.99,332.54 333.52,332.12 334.04,331.68 334.57,331.24 335.09,330.8 335.62,330.36 336.14,329.91 336.67,329.46 337.19,329.04 337.72,328.65 338.24,328.28 338.77,327.89 339.29,327.47 339.82,327.05 340.34,326.62 340.87,326.18 341.39,325.75 341.91,325.31 342.44,324.86 342.96,324.42 343.49,323.98 344.01,323.51 344.54,323.03 345.06,322.59 345.59,322.14 346.11,321.71 346.64,321.29 347.16,320.88 347.69,320.45 348.21,320.04 348.74,319.59 349.26,319.13 349.79,318.64 350.31,318.17 350.84,317.7 351.36,317.27 351.89,316.84 352.41,316.43 352.93,316.01 353.46,315.6 353.98,315.19 354.51,314.77 355.03,314.34 355.56,313.89 356.08,313.43 356.61,312.99 357.13,312.54 357.66,312.12 358.18,311.7 358.71,311.3 359.23,310.9 359.76,310.53 360.28,310.15 360.81,309.75 361.33,309.32 361.86,308.87 362.38,308.42 362.9,307.94 363.43,307.46 363.95,306.99 364.48,306.51 365,306.02 365.53,305.53 366.05,305.04 366.58,304.58 367.1,304.12 367.63,303.68 368.15,303.26 368.68,302.8 369.2,302.35 369.73,301.89 370.25,301.43 370.78,300.95 371.3,300.49 371.83,300.02 372.35,299.57 372.88,299.13 373.4,298.69" fill="none" stroke="#00BA38" stroke-width="1.5" stroke-linejoin="round" stroke-linecap="round"/>
<polyline points="268.45,381.07 268.97,381.03 269.5,380.94 270.02,380.79 270.55,380.57 271.07,380.32 271.6,380.01 272.12,379.69 272.65,379.34 273.17,378.98 273.7,378.59 274.22,378.2 274.75,377.82 275.27,377.44 275.8,377.05 276.32,376.68 276.85,376.31 277.37,375.94 277.9,375.58 278.42,375.23 278.94,374.88 279.47,374.52 279.99,374.13 280.52,373.76 281.04,373.37 281.57,372.97 282.09,372.56 282.62,372.13 283.14,371.7 283.67,371.28 284.19,370.85 284.72,370.44 285.24,370.02 285.77,369.6 286.29,369.18 286.82,368.75 287.34,368.32 287.87,367.91 288.39,367.47 288.92,367 289.44,366.57 289.96,366.15 290.49,365.74 291.01,365.33 291.54,364.93 292.06,364.54 292.59,364.17 293.11,363.79 293.64,363.41 294.16,363.01 294.69,362.59 295.21,362.21 295.74,361.83 296.26,361.44 296.79,361.05 297.31,360.67 297.84,360.27 298.36,359.85 298.89,359.43 299.41,359 299.94,358.58 300.46,358.17 300.98,357.76 301.51,357.37 302.03,356.98 302.56,356.6 303.08,356.21 303.61,355.81 304.13,355.39 304.66,354.96 305.18,354.52 305.71,354.07 306.23,353.64 306.76,353.21 307.28,352.79 307.81,352.37 308.33,351.94 308.86,351.49 309.38,351.04 309.91,350.6 310.43,350.16 310.95,349.72 311.48,349.3 312,348.89 312.53,348.48 313.05,348.07 313.58,347.66 314.1,347.25 314.63,346.85 315.15,346.46 315.68,346.06 316.2,345.66 316.73,345.22 317.25,344.8 317.78,344.38 318.3,343.96 318.83,343.54 319.35,343.12 319.88,342.7 320.4,342.28 320.93,341.86 321.45,341.43 321.97,341.02 322.5,340.6 323.02,340.18 323.55,339.77 324.07,339.39 324.6,339.02 325.12,338.66 325.65,338.29 326.17,337.9 326.7,337.5 327.22,337.11 327.75,336.7 328.27,336.28 328.8,335.86 329.32,335.44 329.85,335.02 330.37,334.62 330.9,334.21 331.42,333.78 331.94,333.37 332.47,332.97 332.99,332.56 333.52,332.14 334.04,331.72 334.57,331.3 335.09,330.87 335.62,330.44 336.14,330.02 336.67,329.6 337.19,329.23 337.72,328.88 338.24,328.53 338.77,328.2 339.29,327.83 339.82,327.45 340.34,327.07 340.87,326.67 341.39,326.27 341.91,325.87 342.44,325.47 342.96,325.08 343.49,324.69 344.01,324.25 344.54,323.81 345.06,323.41 345.59,323 346.11,322.61 346.64,322.22 347.16,321.82 347.69,321.41 348.21,321.02 348.74,320.61 349.26,320.19 349.79,319.77 350.31,319.34 350.84,318.91 351.36,318.5 351.89,318.09 352.41,317.71 352.93,317.34 353.46,316.98 353.98,316.63 354.51,316.28 355.03,315.91 355.56,315.52 356.08,315.12 356.61,314.73 357.13,314.34 357.66,313.96 358.18,313.58 358.71,313.21 359.23,312.84 359.76,312.49 360.28,312.14 360.81,311.77 361.33,311.39 361.86,310.98 362.38,310.55 362.9,310.09 363.43,309.63 363.95,309.17 364.48,308.7 365,308.21 365.53,307.72 366.05,307.22 366.58,306.75 367.1,306.27 367.63,305.82 368.15,305.37 368.68,304.92 369.2,304.48 369.73,304.03 370.25,303.59 370.78,303.15 371.3,302.72 371.83,302.28 372.35,301.85 372.88,301.41 373.4,300.97" fill="none" stroke="#619CFF" stroke-width="1.5" stroke-linejoin="round" stroke-linecap="round"/>
</g>
<rect x="27" y="0.8" width="115.15" height="13.4" fill="#D9D9D9"/>
<text x="84.58" y="10.95" text-anchor="middle" font-weight="bold" font-size="10" fill="#1A1A1A" stroke="#1A1A1A" stroke-width="0.3">a</text>
<rect x="145.15" y="0.8" width="115.05" height="13.4" fill="#D9D9D9"/>
<text x="202.68" y="10.95" text-anchor="middle" font-weight="bold" font-size="10" fill="#1A1A1A" stroke="#1A1A1A" stroke-width="0.3">b</text>
<rect x="263.2" y="0.8" width="115.15" height="13.4" fill="#D9D9D9"/>
<text x="320.77" y="10.95" text-anchor="middle" font-weight="bold" font-size="10" fill="#1A1A1A" stroke="#1A1A1A" stroke-width="0.3">c</text>
<rect x="378.35" y="14.2" width="13.55" height="90.85" fill="#D9D9D9"/>
<text transform="translate(381.6,59.62) rotate(90)" text-anchor="middle" font-weight="bold" font-size="10" fill="#1A1A1A" stroke="#1A1A1A" stroke-width="0.3">TF</text>
<rect x="378.35" y="107.9" width="13.55" height="90.8" fill="#D9D9D9"/>
<text transform="translate(381.6,153.3) rotate(90)" text-anchor="middle" font-weight="bold" font-size="10" fill="#1A1A1A" stroke="#1A1A1A" stroke-width="0.3">P1</text>
<rect x="378.35" y="201.2" width="13.55" height="90.7" fill="#D9D9D9"/>
<text transform="translate(381.6,246.55) rotate(90)" text-anchor="middle" font-weight="bold" font-size="10" fill="#1A1A1A" stroke="#1A1A1A" stroke-width="0.3">X</text>
<rect x="378.35" y="294.4" width="13.55" height="90.8" fill="#D9D9D9"/>
<text transform="translate(381.6,339.8) rotate(90)" text-anchor="middle" font-weight="bold" font-size="10" fill="#1A1A1A" stroke="#1A1A1A" stroke-width="0.3">Out</text>
<path d="M25.2 100.92H27" stroke="#333" stroke-width="0.55"/>
<text x="24.5" y="105.12" text-anchor="end" font-size="10" fill="#4D4D4D">0</text>
<path d="M25.2 74.45H27" stroke="#333" stroke-width="0.55"/>
<text x="24.5" y="78.65" text-anchor="end" font-size="10" fill="#4D4D4D">40</text>
<path d="M25.2 47.98H27" stroke="#333" stroke-width="0.55"/>
<text x="24.5" y="52.18" text-anchor="end" font-size="10" fill="#4D4D4D">80</text>
<path d="M25.2 21.51H27" stroke="#333" stroke-width="0.55"/>
<text x="24.5" y="25.71" text-anchor="end" font-size="10" fill="#4D4D4D">120</text>
<path d="M25.2 194.57H27" stroke="#333" stroke-width="0.55"/>
<text x="24.5" y="198.77" text-anchor="end" font-size="10" fill="#4D4D4D">0.00</text>
<path d="M25.2 173.62H27" stroke="#333" stroke-width="0.55"/>
<text x="24.5" y="177.82" text-anchor="end" font-size="10" fill="#4D4D4D">0.25</text>
<path d="M25.2 152.67H27" stroke="#333" stroke-width="0.55"/>
<text x="24.5" y="156.87" text-anchor="end" font-size="10" fill="#4D4D4D">0.50</text>
<path d="M25.2 131.72H27" stroke="#333" stroke-width="0.55"/>
<text x="24.5" y="135.92" text-anchor="end" font-size="10" fill="#4D4D4D">0.75</text>
<path d="M25.2 110.77H27" stroke="#333" stroke-width="0.55"/>
<text x="24.5" y="114.97" text-anchor="end" font-size="10" fill="#4D4D4D">1.00</text>
<path d="M25.2 287.78H27" stroke="#333" stroke-width="0.55"/>
<text x="24.5" y="291.98" text-anchor="end" font-size="10" fill="#4D4D4D">0</text>
<path d="M25.2 258.17H27" stroke="#333" stroke-width="0.55"/>
<text x="24.5" y="262.37" text-anchor="end" font-size="10" fill="#4D4D4D">10</text>
<path d="M25.2 228.56H27" stroke="#333" stroke-width="0.55"/>
<text x="24.5" y="232.76" text-anchor="end" font-size="10" fill="#4D4D4D">20</text>
<path d="M25.2 381.07H27" stroke="#333" stroke-width="0.55"/>
<text x="24.5" y="385.27" text-anchor="end" font-size="10" fill="#4D4D4D">0</text>
<path d="M25.2 361.05H27" stroke="#333" stroke-width="0.55"/>
<text x="24.5" y="365.25" text-anchor="end" font-size="10" fill="#4D4D4D">500</text>
<path d="M25.2 341.02H27" stroke="#333" stroke-width="0.55"/>
<text x="24.5" y="345.22" text-anchor="end" font-size="10" fill="#4D4D4D">1,000</text>
<path d="M25.2 321H27" stroke="#333" stroke-width="0.55"/>
<text x="24.5" y="325.2" text-anchor="end" font-size="10" fill="#4D4D4D">1,500</text>
<path d="M25.2 300.97H27" stroke="#333" stroke-width="0.55"/>
<text x="24.5" y="305.17" text-anchor="end" font-size="10" fill="#4D4D4D">2,000</text>
<path d="M32.3 385.2V387" stroke="#333" stroke-width="0.55"/>
<text transform="translate(36.2,387.7) rotate(-90)" text-anchor="end" font-size="10" fill="#4D4D4D">0</text>
<path d="M58.54 385.2V387" stroke="#333" stroke-width="0.55"/>
<text transform="translate(62.44,387.7) rotate(-90)" text-anchor="end" font-size="10" fill="#4D4D4D">25</text>
<path d="M84.78 385.2V387" stroke="#333" stroke-width="0.55"/>
<text transform="translate(88.68,387.7) rotate(-90)" text-anchor="end" font-size="10" fill="#4D4D4D">50</text>
<path d="M111.01 385.2V387" stroke="#333" stroke-width="0.55"/>
<text transform="translate(114.91,387.7) rotate(-90)" text-anchor="end" font-size="10" fill="#4D4D4D">75</text>
<path d="M137.25 385.2V387" stroke="#333" stroke-width="0.55"/>
<text transform="translate(141.15,387.7) rotate(-90)" text-anchor="end" font-size="10" fill="#4D4D4D">100</text>
<path d="M150.45 385.2V387" stroke="#333" stroke-width="0.55"/>
<text transform="translate(154.35,387.7) rotate(-90)" text-anchor="end" font-size="10" fill="#4D4D4D">0</text>
<path d="M176.69 385.2V387" stroke="#333" stroke-width="0.55"/>
<text transform="translate(180.59,387.7) rotate(-90)" text-anchor="end" font-size="10" fill="#4D4D4D">25</text>
<path d="M202.93 385.2V387" stroke="#333" stroke-width="0.55"/>
<text transform="translate(206.83,387.7) rotate(-90)" text-anchor="end" font-size="10" fill="#4D4D4D">50</text>
<path d="M229.16 385.2V387" stroke="#333" stroke-width="0.55"/>
<text transform="translate(233.06,387.7) rotate(-90)" text-anchor="end" font-size="10" fill="#4D4D4D">75</text>
<path d="M255.4 385.2V387" stroke="#333" stroke-width="0.55"/>
<text transform="translate(259.3,387.7) rotate(-90)" text-anchor="end" font-size="10" fill="#4D4D4D">100</text>
<path d="M268.45 385.2V387" stroke="#333" stroke-width="0.55"/>
<text transform="translate(272.35,387.7) rotate(-90)" text-anchor="end" font-size="10" fill="#4D4D4D">0</text>
<path d="M294.69 385.2V387" stroke="#333" stroke-width="0.55"/>
<text transform="translate(298.59,387.7) rotate(-90)" text-anchor="end" font-size="10" fill="#4D4D4D">25</text>
<path d="M320.93 385.2V387" stroke="#333" stroke-width="0.55"/>
<text transform="translate(324.82,387.7) rotate(-90)" text-anchor="end" font-size="10" fill="#4D4D4D">50</text>
<path d="M347.16 385.2V387" stroke="#333" stroke-width="0.55"/>
<text transform="translate(351.06,387.7) rotate(-90)" text-anchor="end" font-size="10" fill="#4D4D4D">75</text>
<path d="M373.4 385.2V387" stroke="#333" stroke-width="0.55"/>
<text transform="translate(377.3,387.7) rotate(-90)" text-anchor="end" font-size="10" fill="#4D4D4D">100</text>
<text x="202.68" y="413" text-anchor="middle" font-weight="bold" font-size="12" fill="#000">t (min)</text>
<text x="400.5" y="187" font-size="10" fill="#000">inputs</text>
<rect x="400.3" y="192.9" width="8.7" height="9.3" fill="#F2F2F2"/>
<path d="M404.65 197.55h0" stroke="#F8766D" stroke-width="1.2" stroke-linecap="round"/>
<text x="413.3" y="200.9" font-size="9.8" fill="#000">low</text>
<rect x="400.3" y="202.2" width="8.7" height="9.3" fill="#F2F2F2"/>
<path d="M404.65 206.85h0" stroke="#00BA38" stroke-width="1.2" stroke-linecap="round"/>
<text x="413.3" y="210.2" font-size="9.8" fill="#000">medium</text>
<rect x="400.3" y="211.5" width="8.7" height="9.3" fill="#F2F2F2"/>
<path d="M404.65 216.15h0" stroke="#619CFF" stroke-width="1.2" stroke-linecap="round"/>
<text x="413.3" y="219.5" font-size="9.8" fill="#000">high</text>
<rect x="484.3" y="15.9" width="159.8" height="375.8" fill="#EBEBEB"/>
<path d="M484.3 326.15H644.1M484.3 228.45H644.1M484.3 130.75H644.1M484.3 33.05H644.1M509.75 15.9V391.7M546.05 15.9V391.7M582.35 15.9V391.7M618.65 15.9V391.7" stroke="#fff" stroke-width="0.45"/>
<path d="M484.3 375H644.1M484.3 277.3H644.1M484.3 179.6H644.1M484.3 81.9H644.1M491.6 15.9V391.7M527.9 15.9V391.7M564.2 15.9V391.7M600.5 15.9V391.7M636.8 15.9V391.7" stroke="#fff" stroke-width="1.0"/>
<path d="M491.75 374.75h0M493.0 359.75h0M494.4 148.7h0M496.0 112.1h0M497.4 41.8h0M498.9 155.9h0M500.3 174.2h0M501.6 139.1h0M503.0 115.7h0M504.6 105.8h0M505.9 90.2h0M507.5 90.8h0M509.0 104.9h0M510.3 118.2h0M511.8 134.4h0M513.1 146.8h0M514.6 161.1h0M516.0 171.5h0M517.5 183.9h0M519.1 193.6h0M520.5 202.1h0M521.9 211.9h0M523.5 219.7h0M524.9 226.7h0M526.4 233.0h0M527.6 242.18h0M529.05 248.24h0M530.5 253.75h0M531.96 258.77h0M533.41 263.32h0M534.86 267.47h0M536.31 271.24h0M537.76 274.67h0M539.22 277.78h0M540.67 280.62h0M542.12 283.2h0M543.57 285.54h0M545.02 287.67h0M546.48 289.61h0M547.93 291.37h0M549.38 292.98h0M550.83 294.44h0M552.28 295.76h0M553.74 296.97h0M555.19 298.06h0M556.64 299.06h0M558.09 299.97h0M559.54 300.79h0M561 301.54h0" stroke="#F8766D" stroke-width="2.4" stroke-linecap="round"/>
<polyline points="561.97,303.9 562.69,304.16 563.42,304.4 564.15,304.63 564.87,304.85 565.6,305.05 566.32,305.25 567.05,305.43 567.78,305.61 568.5,305.78 569.23,305.93 569.95,306.08 570.68,306.23 571.41,306.36 572.13,306.49 572.86,306.61 573.58,306.72 574.31,306.83 575.04,306.94 575.76,307.03 576.49,307.13 577.21,307.21 577.94,307.3 578.67,307.37 579.39,307.45 580.12,307.52 580.84,307.58 581.57,307.65 582.3,307.7 583.02,307.76 583.75,307.81 584.47,307.86 585.2,307.91 585.93,307.95 586.65,308 587.38,308.04 588.1,308.07 588.83,308.11 589.56,308.14 590.28,308.17 591.01,308.2 591.73,308.23 592.46,308.26 593.19,308.28 593.91,308.3 594.64,308.33 595.36,308.35 596.09,308.37 596.82,308.38 597.54,308.4 598.27,308.42 598.99,308.43 599.72,308.44 600.45,308.46 601.17,308.47 601.9,308.48 602.62,308.49 603.35,308.5 604.08,308.51 604.8,308.52 605.53,308.53 606.25,308.54 606.98,308.54 607.71,308.55 608.43,308.56 609.16,308.56 609.88,308.57 610.61,308.57 611.34,308.58 612.06,308.58 612.79,308.58 613.51,308.59 614.24,308.59 614.97,308.59 615.69,308.59 616.42,308.6 617.14,308.6 617.87,308.6 618.6,308.6 619.32,308.6 620.05,308.61 620.77,308.61 621.5,308.61 622.23,308.61 622.95,308.61 623.68,308.61 624.4,308.61 625.13,308.61 625.86,308.61 626.58,308.61 627.31,308.61 628.03,308.61 628.76,308.61 629.49,308.61 630.21,308.61 630.94,308.61 631.66,308.61 632.39,308.61 633.12,308.61 633.84,308.61 634.57,308.61 635.29,308.61 636.02,308.61 636.75,308.61" fill="none" stroke="#F8766D" stroke-width="2.4" stroke-linecap="round"/>
<polyline points="507.57,55.67 508.3,67.4 509.02,78.59 509.75,89.26 510.48,99.43 511.2,109.13 511.93,118.39 512.65,127.21 513.38,135.62 514.11,143.64 514.83,151.29 515.56,158.59 516.28,165.55 517.01,172.18 517.74,178.51 518.46,184.54 519.19,190.3 519.91,195.78 520.64,201.01 521.37,206 522.09,210.76 522.82,215.3 523.54,219.62 524.27,223.75 525,227.68 525.72,231.44 526.45,235.01 527.17,238.43 527.9,241.68 528.63,244.78 529.35,247.74 530.08,250.56 530.8,253.25 531.53,255.82 532.26,258.27 532.98,260.6 533.71,262.82 534.43,264.95 535.16,266.97 535.89,268.9 536.61,270.74 537.34,272.49 538.06,274.17 538.79,275.76 539.52,277.28 540.24,278.74 540.97,280.12 541.69,281.44 542.42,282.7 543.15,283.9 543.87,285.04 544.6,286.13 545.32,287.17 546.05,288.17 546.78,289.11 547.5,290.01 548.23,290.87 548.95,291.7 549.68,292.48 550.41,293.22 551.13,293.94 551.86,294.61 552.58,295.26 553.31,295.88 554.04,296.47 554.76,297.03 555.49,297.56 556.21,298.07 556.94,298.56 557.67,299.02 558.39,299.47 559.12,299.89 559.84,300.29 560.57,300.68 561.3,301.04 562.02,301.39 562.75,301.72 563.47,302.04 564.2,302.34 564.93,302.63 565.65,302.91 566.38,303.17 567.1,303.42 567.83,303.66 568.56,303.89 569.28,304.1 570.01,304.31 570.73,304.51 571.46,304.7 572.19,304.87 572.91,305.05 573.64,305.21 574.36,305.36 575.09,305.51 575.82,305.65 576.54,305.79 577.27,305.92 577.99,306.04 578.72,306.16 579.45,306.27 580.17,306.38 580.9,306.48 581.62,306.57 582.35,306.67 583.08,306.75 583.8,306.84 584.53,306.92 585.25,306.99 585.98,307.07 586.71,307.14 587.43,307.2 588.16,307.27 588.88,307.33 589.61,307.38 590.34,307.44 591.06,307.49 591.79,307.54 592.51,307.59 593.24,307.63 593.97,307.68 594.69,307.72 595.42,307.76 596.14,307.79 596.87,307.83 597.6,307.86 598.32,307.9 599.05,307.93 599.77,307.96 600.5,307.99 601.23,308.01 601.95,308.04 602.68,308.06 603.4,308.09 604.13,308.11 604.86,308.13 605.58,308.15 606.31,308.17 607.03,308.19 607.76,308.2 608.49,308.22 609.21,308.24 609.94,308.25 610.66,308.27 611.39,308.28 612.12,308.29 612.84,308.31 613.57,308.32 614.29,308.33 615.02,308.34 615.75,308.35 616.47,308.36 617.2,308.37 617.92,308.38 618.65,308.39 619.38,308.4 620.1,308.4 620.83,308.41 621.55,308.42 622.28,308.42 623.01,308.43 623.73,308.44 624.46,308.44 625.18,308.45 625.91,308.45 626.64,308.46 627.36,308.46 628.09,308.47 628.81,308.47 629.54,308.48 630.27,308.48 630.99,308.49 631.72,308.49 632.44,308.49 633.17,308.5 633.9,308.5 634.62,308.5 635.35,308.5 636.07,308.51 636.8,308.51" fill="none" stroke="#00BFC4" stroke-width="0.9"/>
<path d="M482.5 375H484.3" stroke="#333" stroke-width="0.55"/>
<text x="482.1" y="379.1" text-anchor="end" font-size="10" fill="#4D4D4D">1.5</text>
<path d="M482.5 277.3H484.3" stroke="#333" stroke-width="0.55"/>
<text x="482.1" y="281.4" text-anchor="end" font-size="10" fill="#4D4D4D">1.6</text>
<path d="M482.5 179.6H484.3" stroke="#333" stroke-width="0.55"/>
<text x="482.1" y="183.7" text-anchor="end" font-size="10" fill="#4D4D4D">1.7</text>
<path d="M482.5 81.9H484.3" stroke="#333" stroke-width="0.55"/>
<text x="482.1" y="86" text-anchor="end" font-size="10" fill="#4D4D4D">1.8</text>
<path d="M491.6 391.7V393.5" stroke="#333" stroke-width="0.55"/>
<text x="491.6" y="402.1" text-anchor="middle" font-size="10" fill="#4D4D4D">0</text>
<path d="M527.9 391.7V393.5" stroke="#333" stroke-width="0.55"/>
<text x="527.9" y="402.1" text-anchor="middle" font-size="10" fill="#4D4D4D">25</text>
<path d="M564.2 391.7V393.5" stroke="#333" stroke-width="0.55"/>
<text x="564.2" y="402.1" text-anchor="middle" font-size="10" fill="#4D4D4D">50</text>
<path d="M600.5 391.7V393.5" stroke="#333" stroke-width="0.55"/>
<text x="600.5" y="402.1" text-anchor="middle" font-size="10" fill="#4D4D4D">75</text>
<path d="M636.8 391.7V393.5" stroke="#333" stroke-width="0.55"/>
<text x="636.8" y="402.1" text-anchor="middle" font-size="10" fill="#4D4D4D">100</text>
<text x="564.2" y="413" text-anchor="middle" font-weight="bold" font-size="12" fill="#000">time (min)</text>
<text transform="translate(464.9,203.8) rotate(-90)" text-anchor="middle" font-weight="bold" font-size="12" fill="#000">Mutual Information (bits)</text>
<text x="484.1" y="10.8" font-weight="bold" font-size="14" fill="#000">d</text>
<rect x="652.0" y="195.7" width="8.8" height="9.45" fill="#F2F2F2"/>
<rect x="652.0" y="205.15" width="8.8" height="9.45" fill="#F2F2F2"/>
<path d="M653 200.4H660" stroke="#F8766D" stroke-width="1.1"/>
<path d="M656.4 200.4h0" stroke="#F8766D" stroke-width="2.1" stroke-linecap="round"/>
<path d="M653 209.9H660" stroke="#00BFC4" stroke-width="1.1"/>
<path d="M656.4 209.9h0" stroke="#00BFC4" stroke-width="2.1" stroke-linecap="round"/>
<text x="663.0" y="203.8" font-size="10" fill="#000">data</text>
<text x="663.0" y="213.6" font-size="10" fill="#000">fit</text>
</svg>
</body></html>
